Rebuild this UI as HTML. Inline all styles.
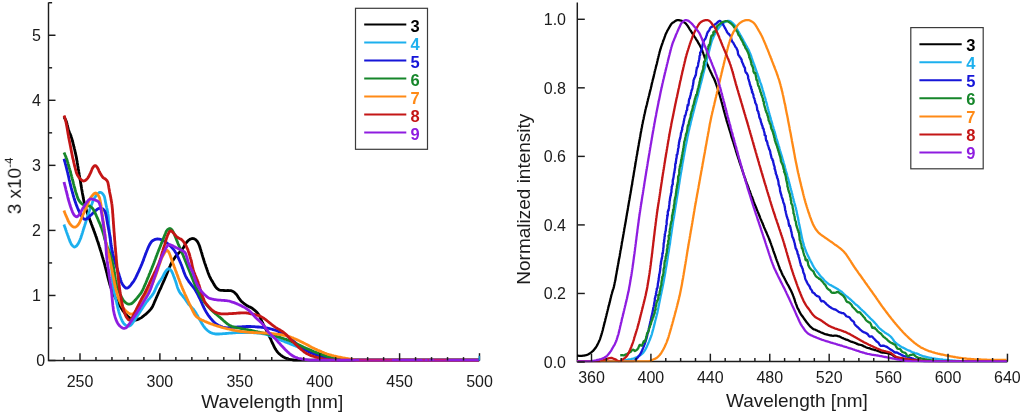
<!DOCTYPE html>
<html><head><meta charset="utf-8"><title>spectra</title>
<style>
html,body{margin:0;padding:0;background:#fff;}
body{width:1024px;height:415px;overflow:hidden;position:relative;font-family:"Liberation Sans",sans-serif;}
svg{position:absolute;left:0;top:0;}
text{font-family:"Liberation Sans",sans-serif;fill:#1a1a1a;}
.tk{font-size:16px;}
.ax{font-size:19px;}
.lg{font-size:16.5px;font-weight:bold;}
</style></head><body>
<svg width="1024" height="415" viewBox="0 0 1024 415">
<rect x="0" y="0" width="1024" height="415" fill="#ffffff"/>
<defs><filter id="soft" x="-2%" y="-2%" width="104%" height="104%"><feGaussianBlur stdDeviation="0.35"/></filter></defs>
<g filter="url(#soft)">

<g stroke="#1c1c1c" stroke-width="1.45" fill="none">
<path d="M48.5,2.5 V360.5 H479.6"/>
<path d="M577.3,2.5 V361.5 H1007.8"/>
</g>
<g>
<polyline points="64.0,117.0 64.5,117.9 65.0,118.7 65.5,119.6 65.9,120.5 66.3,121.5 66.6,122.4 66.9,123.4 67.1,124.3 67.4,125.3 67.6,126.3 67.8,127.3 68.0,128.3 68.3,129.2 68.6,130.2 68.9,131.1 69.3,132.0 69.7,133.0 70.1,133.9 70.5,134.8 70.9,135.7 71.2,136.7 71.5,137.6 71.8,138.6 72.1,139.6 72.3,140.5 72.6,141.5 72.9,142.5 73.1,143.4 73.4,144.4 73.6,145.4 73.8,146.4 74.1,147.3 74.3,148.3 74.6,149.3 74.8,150.3 75.0,151.2 75.2,152.2 75.4,153.2 75.7,154.2 75.9,155.2 76.1,156.1 76.3,157.1 76.5,158.1 76.6,159.1 76.8,160.1 77.0,161.1 77.2,162.0 77.3,163.0 77.5,164.0 77.7,165.0 77.8,166.0 78.0,167.0 78.2,168.0 78.3,169.0 78.5,170.0 78.7,170.9 78.8,171.9 79.0,172.9 79.2,173.9 79.3,174.9 79.5,175.9 79.7,176.9 79.8,177.9 80.0,178.9 80.1,179.8 80.3,180.8 80.5,181.8 80.6,182.8 80.8,183.8 81.0,184.8 81.1,185.8 81.3,186.8 81.5,187.7 81.6,188.7 81.8,189.7 82.0,190.7 82.2,191.7 82.3,192.7 82.5,193.7 82.7,194.7 82.9,195.6 83.1,196.6 83.2,197.6 83.4,198.6 83.6,199.6 83.8,200.6 84.0,201.5 84.2,202.5 84.4,203.5 84.7,204.5 84.9,205.4 85.2,206.4 85.5,207.4 85.8,208.3 86.1,209.3 86.4,210.2 86.7,211.2 87.1,212.1 87.4,213.1 87.7,214.0 88.1,215.0 88.4,215.9 88.8,216.9 89.1,217.8 89.5,218.7 89.8,219.7 90.2,220.6 90.5,221.6 90.9,222.5 91.2,223.4 91.6,224.4 91.9,225.3 92.3,226.3 92.6,227.2 93.0,228.1 93.3,229.1 93.7,230.0 94.0,231.0 94.4,231.9 94.7,232.8 95.0,233.8 95.4,234.7 95.7,235.7 96.0,236.6 96.4,237.6 96.7,238.5 97.0,239.5 97.3,240.4 97.7,241.4 98.0,242.3 98.3,243.3 98.6,244.2 98.9,245.2 99.2,246.1 99.5,247.1 99.8,248.0 100.1,249.0 100.4,250.0 100.7,250.9 101.0,251.9 101.3,252.8 101.6,253.8 101.8,254.8 102.1,255.7 102.4,256.7 102.7,257.6 103.0,258.6 103.3,259.6 103.6,260.5 103.8,261.5 104.1,262.4 104.4,263.4 104.6,264.4 104.9,265.3 105.1,266.3 105.4,267.3 105.6,268.3 105.9,269.2 106.1,270.2 106.4,271.2 106.6,272.1 106.9,273.1 107.1,274.1 107.3,275.1 107.6,276.0 107.8,277.0 108.1,278.0 108.3,279.0 108.6,279.9 108.8,280.9 109.1,281.9 109.4,282.8 109.6,283.8 109.9,284.8 110.2,285.7 110.5,286.7 110.9,287.6 111.2,288.5 111.6,289.5 112.0,290.4 112.4,291.3 112.8,292.3 113.2,293.2 113.6,294.1 114.0,295.0 114.4,295.9 114.9,296.8 115.3,297.7 115.8,298.6 116.3,299.5 116.7,300.3 117.2,301.2 117.7,302.1 118.2,303.0 118.7,303.8 119.2,304.7 119.7,305.6 120.3,306.4 120.8,307.3 121.3,308.1 121.8,308.9 122.3,309.8 122.8,310.6 123.4,311.4 124.0,312.1 124.6,312.9 125.2,313.7 125.9,314.5 126.7,315.2 127.4,316.0 128.3,316.7 129.2,317.5 130.1,318.1 131.0,318.7 131.9,319.2 132.9,319.6 133.8,319.9 134.7,320.0 135.7,320.0 136.5,319.9 137.4,319.7 138.3,319.3 139.2,318.9 140.1,318.4 141.0,317.9 141.9,317.3 142.7,316.6 143.6,315.9 144.4,315.2 145.3,314.6 146.1,313.9 146.9,313.2 147.6,312.5 148.4,311.8 149.1,311.1 149.7,310.4 150.4,309.6 151.0,308.9 151.6,308.1 152.1,307.2 152.6,306.4 153.0,305.5 153.4,304.6 153.8,303.7 154.2,302.7 154.6,301.8 155.0,300.9 155.4,300.0 155.8,299.1 156.2,298.1 156.6,297.2 157.0,296.3 157.4,295.4 157.8,294.5 158.2,293.5 158.6,292.6 159.0,291.7 159.4,290.8 159.8,289.9 160.3,289.0 160.7,288.1 161.1,287.2 161.5,286.2 161.9,285.3 162.3,284.4 162.7,283.5 163.1,282.6 163.5,281.7 164.0,280.7 164.4,279.8 164.7,278.9 165.1,278.0 165.5,277.1 165.9,276.1 166.3,275.2 166.7,274.3 167.0,273.4 167.4,272.4 167.8,271.5 168.2,270.6 168.6,269.6 169.0,268.7 169.3,267.8 169.7,266.9 170.1,266.0 170.5,265.0 170.9,264.1 171.4,263.2 171.9,262.3 172.4,261.5 172.9,260.6 173.4,259.7 173.9,258.9 174.5,258.1 175.1,257.2 175.7,256.4 176.3,255.6 176.9,254.9 177.6,254.1 178.3,253.4 179.0,252.7 179.8,252.0 180.5,251.3 181.2,250.6 181.9,249.9 182.5,249.1 183.0,248.3 183.5,247.5 184.0,246.6 184.5,245.8 184.9,244.9 185.4,244.0 186.0,243.2 186.6,242.3 187.3,241.5 188.1,240.7 189.0,240.0 189.8,239.4 190.7,239.0 191.7,238.7 192.6,238.5 193.5,238.6 194.4,238.9 195.3,239.4 196.2,240.2 197.0,241.0 197.6,241.9 198.1,242.7 198.5,243.6 198.9,244.4 199.3,245.4 199.6,246.3 199.9,247.3 200.2,248.2 200.5,249.2 200.8,250.1 201.1,251.1 201.4,252.1 201.7,253.0 202.0,254.0 202.2,254.9 202.5,255.9 202.8,256.9 203.1,257.8 203.4,258.8 203.7,259.7 204.0,260.7 204.3,261.6 204.6,262.6 204.9,263.5 205.3,264.5 205.6,265.4 205.9,266.4 206.2,267.3 206.6,268.3 206.9,269.2 207.2,270.2 207.6,271.1 207.9,272.1 208.2,273.0 208.6,273.9 209.0,274.9 209.3,275.8 209.7,276.7 210.2,277.6 210.6,278.5 211.1,279.4 211.6,280.2 212.1,281.1 212.7,282.0 213.2,282.9 213.7,283.7 214.1,284.6 214.7,285.5 215.2,286.4 215.8,287.2 216.4,287.9 217.2,288.6 218.0,289.3 218.9,289.8 219.9,290.1 220.9,290.3 221.9,290.4 222.9,290.4 223.9,290.5 224.9,290.6 225.9,290.6 226.9,290.6 227.9,290.5 228.9,290.6 229.9,290.6 230.9,290.7 231.9,291.0 232.8,291.4 233.7,291.9 234.5,292.5 235.2,293.2 236.0,294.0 236.6,294.7 237.2,295.5 237.8,296.4 238.3,297.2 238.8,298.1 239.4,298.9 240.0,299.7 240.6,300.5 241.3,301.2 242.1,301.9 242.8,302.5 243.6,303.2 244.4,303.8 245.2,304.4 246.0,305.0 246.8,305.5 247.7,306.0 248.6,306.5 249.5,306.9 250.4,307.3 251.3,307.8 252.2,308.3 253.0,308.9 253.8,309.6 254.6,310.2 255.4,310.9 256.1,311.6 256.8,312.3 257.5,313.0 258.1,313.8 258.7,314.6 259.2,315.5 259.7,316.4 260.1,317.3 260.5,318.2 260.9,319.1 261.2,320.1 261.6,321.0 262.1,321.9 262.5,322.8 263.0,323.7 263.4,324.6 263.9,325.5 264.3,326.4 264.8,327.3 265.3,328.1 265.7,329.0 266.2,329.9 266.6,330.8 267.1,331.7 267.5,332.6 268.0,333.5 268.4,334.4 268.9,335.3 269.3,336.2 269.7,337.1 270.2,338.0 270.6,338.9 271.0,339.8 271.4,340.8 271.8,341.7 272.2,342.6 272.6,343.5 273.1,344.4 273.5,345.3 273.9,346.2 274.4,347.1 274.8,348.0 275.3,348.9 275.9,349.7 276.4,350.5 277.0,351.3 277.6,352.1 278.3,352.9 279.0,353.6 279.8,354.3 280.6,355.0 281.4,355.6 282.2,356.2 283.1,356.8 284.0,357.3 284.9,357.7 285.8,358.1 286.8,358.5 287.7,358.8 288.7,359.1 289.6,359.3 290.6,359.5 291.6,359.7 292.6,359.9 293.6,360.0 294.6,360.1 295.6,360.2 296.6,360.2 297.6,360.2 298.6,360.2 299.6,360.2 300.6,360.2 301.6,360.2 302.6,360.2 303.6,360.2 304.6,360.2 305.6,360.2 306.6,360.2 307.6,360.2 308.6,360.2 309.6,360.2 310.6,360.2 311.6,360.2 312.6,360.2 313.6,360.2 314.6,360.2 315.6,360.2 316.6,360.2 317.6,360.2 318.6,360.2 319.6,360.2 320.6,360.2 321.6,360.2 322.6,360.2 323.7,360.2 324.7,360.2 325.7,360.2 326.7,360.2 327.7,360.2 328.7,360.2 329.7,360.2 330.7,360.2 331.7,360.2 332.7,360.2 333.7,360.2 334.7,360.2 335.7,360.2 336.7,360.2 337.7,360.2 338.7,360.2 339.7,360.2 340.7,360.2 341.7,360.2 342.7,360.2 343.7,360.2 344.7,360.2 345.7,360.2 346.7,360.2 347.7,360.2 348.7,360.2 349.7,360.2 350.7,360.2 351.7,360.2 352.7,360.2 353.7,360.2 354.7,360.2 355.7,360.2 356.7,360.2 357.7,360.2 358.7,360.2 359.7,360.2 360.7,360.2 361.7,360.2 362.7,360.2 363.7,360.2 364.7,360.2 365.7,360.2 366.7,360.2 367.7,360.2 368.8,360.2 369.8,360.2 370.8,360.2 371.8,360.2 372.8,360.2 373.8,360.2 374.8,360.2 375.8,360.2 376.8,360.2 377.8,360.2 378.8,360.2 379.8,360.2 380.8,360.2 381.8,360.2 382.8,360.2 383.8,360.2 384.8,360.2 385.8,360.2 386.8,360.2 387.8,360.2 388.8,360.2 389.8,360.2 390.8,360.2 391.8,360.2 392.8,360.2 393.8,360.2 394.8,360.2 395.8,360.2 396.8,360.2 397.8,360.2 398.8,360.2 399.8,360.2 400.8,360.2 401.8,360.2 402.8,360.2 403.8,360.2 404.8,360.2 405.8,360.2 406.8,360.2 407.8,360.2 408.8,360.2 409.8,360.2 410.8,360.2 411.8,360.2 412.9,360.2 413.9,360.2 414.9,360.2 415.9,360.2 416.9,360.2 417.9,360.2 418.9,360.2 419.9,360.2 420.9,360.2 421.9,360.2 422.9,360.2 423.9,360.2 424.9,360.2 425.9,360.2 426.9,360.2 427.9,360.2 428.9,360.2 429.9,360.2 430.9,360.2 431.9,360.2 432.9,360.2 433.9,360.2 434.9,360.2 435.9,360.2 436.9,360.2 437.9,360.2 438.9,360.2 439.9,360.2 440.9,360.2 441.9,360.2 442.9,360.2 443.9,360.2 444.9,360.2 445.9,360.2 446.9,360.2 447.9,360.2 448.9,360.2 449.9,360.2 450.9,360.2 451.9,360.2 452.9,360.2 453.9,360.2 454.9,360.2 455.9,360.2 457.0,360.2 458.0,360.2 459.0,360.2 460.0,360.2 461.0,360.2 462.0,360.2 463.0,360.2 464.0,360.2 465.0,360.2 466.0,360.2 467.0,360.2 468.0,360.2 469.0,360.2 470.0,360.2 471.0,360.2 472.0,360.2 473.0,360.2 474.0,360.2 475.0,360.2 476.0,360.2 477.0,360.2 478.0,360.2 479.0,360.2" fill="none" stroke="#000000" stroke-width="2.8" stroke-linejoin="round" stroke-linecap="butt"/>
<polyline points="64.0,224.5 64.3,225.5 64.6,226.4 64.9,227.4 65.3,228.3 65.6,229.3 65.9,230.2 66.3,231.1 66.6,232.1 66.9,233.0 67.3,234.0 67.6,234.9 68.0,235.9 68.3,236.8 68.6,237.7 69.0,238.7 69.3,239.6 69.7,240.5 70.0,241.5 70.5,242.4 70.9,243.3 71.4,244.3 72.1,245.2 72.8,246.0 73.6,246.6 74.3,247.0 75.1,246.9 75.9,246.4 76.8,245.6 77.5,244.7 78.1,243.8 78.6,242.8 79.1,241.9 79.5,241.0 79.9,240.1 80.3,239.1 80.7,238.2 81.0,237.3 81.3,236.3 81.6,235.4 81.9,234.5 82.2,233.5 82.5,232.6 82.8,231.6 83.1,230.7 83.4,229.7 83.7,228.7 84.0,227.8 84.3,226.8 84.6,225.9 84.9,224.9 85.2,224.0 85.5,223.0 85.8,222.0 86.1,221.1 86.4,220.1 86.7,219.2 87.0,218.2 87.3,217.3 87.6,216.3 87.9,215.3 88.2,214.4 88.5,213.4 88.8,212.5 89.2,211.5 89.5,210.6 89.8,209.6 90.1,208.7 90.5,207.8 90.8,206.8 91.2,205.9 91.5,204.9 91.9,204.0 92.2,203.1 92.6,202.1 92.9,201.2 93.3,200.2 93.7,199.4 94.2,198.5 94.7,197.6 95.3,196.8 95.8,196.0 96.5,195.2 97.1,194.3 98.0,193.5 98.9,192.8 99.8,192.3 100.7,192.4 101.5,192.8 102.2,193.4 102.9,194.2 103.6,195.1 104.1,196.0 104.5,197.0 104.7,198.0 104.9,199.0 105.1,200.0 105.3,200.9 105.5,201.9 105.7,202.9 105.9,203.9 106.1,204.9 106.3,205.9 106.5,206.8 106.7,207.8 107.0,208.8 107.2,209.8 107.4,210.8 107.6,211.7 107.8,212.7 107.9,213.7 108.1,214.7 108.2,215.7 108.3,216.7 108.4,217.7 108.5,218.7 108.5,219.7 108.5,220.7 108.6,221.7 108.6,222.7 108.6,223.7 108.7,224.7 108.8,225.7 108.9,226.7 109.0,227.7 109.1,228.7 109.2,229.7 109.3,230.7 109.4,231.7 109.5,232.7 109.6,233.7 109.7,234.7 109.8,235.7 109.9,236.7 110.0,237.7 110.1,238.7 110.2,239.7 110.3,240.7 110.4,241.7 110.4,242.7 110.5,243.7 110.6,244.7 110.6,245.7 110.7,246.7 110.7,247.7 110.8,248.7 110.8,249.7 110.8,250.7 110.9,251.7 110.9,252.7 110.9,253.7 111.0,254.7 111.0,255.7 111.0,256.7 111.1,257.7 111.1,258.7 111.2,259.7 111.2,260.7 111.3,261.7 111.3,262.7 111.4,263.7 111.5,264.7 111.5,265.7 111.6,266.7 111.6,267.7 111.7,268.7 111.8,269.7 111.8,270.7 111.9,271.7 111.9,272.7 112.0,273.7 112.1,274.7 112.1,275.7 112.2,276.7 112.3,277.7 112.4,278.7 112.4,279.7 112.5,280.7 112.6,281.7 112.7,282.7 112.8,283.7 112.9,284.7 113.0,285.7 113.1,286.7 113.3,287.7 113.5,288.7 113.7,289.7 113.9,290.6 114.1,291.6 114.3,292.6 114.5,293.6 114.7,294.6 114.9,295.5 115.2,296.5 115.4,297.5 115.6,298.5 115.9,299.4 116.1,300.4 116.3,301.4 116.6,302.4 116.8,303.4 117.0,304.3 117.3,305.3 117.5,306.3 117.7,307.3 117.9,308.2 118.2,309.2 118.4,310.2 118.7,311.1 118.9,312.1 119.2,313.0 119.5,314.0 119.8,314.9 120.1,315.9 120.4,316.8 120.8,317.7 121.2,318.7 121.6,319.6 122.0,320.6 122.5,321.5 123.0,322.4 123.6,323.3 124.3,324.1 125.1,324.8 126.0,325.4 126.9,325.9 127.7,326.2 128.7,326.2 129.7,325.9 130.6,325.4 131.3,324.6 132.0,323.8 132.6,323.0 133.2,322.2 133.7,321.3 134.3,320.5 134.9,319.7 135.4,318.9 136.0,318.1 136.5,317.2 137.1,316.4 137.6,315.5 138.2,314.7 138.7,313.9 139.3,313.0 139.8,312.2 140.3,311.3 140.9,310.5 141.4,309.6 142.0,308.8 142.5,308.0 143.1,307.1 143.6,306.3 144.2,305.4 144.7,304.6 145.3,303.8 145.8,303.0 146.4,302.2 147.1,301.4 147.7,300.6 148.3,299.8 149.0,299.1 149.7,298.3 150.3,297.5 151.0,296.8 151.6,296.0 152.2,295.2 152.8,294.4 153.3,293.5 153.8,292.7 154.3,291.8 154.7,290.9 155.1,289.9 155.5,289.0 155.9,288.1 156.3,287.2 156.8,286.3 157.2,285.4 157.7,284.5 158.2,283.6 158.8,282.8 159.3,282.0 159.9,281.1 160.5,280.3 161.0,279.5 161.6,278.6 162.1,277.8 162.6,276.9 163.1,276.1 163.5,275.2 164.0,274.3 164.4,273.4 164.9,272.5 165.5,271.7 166.1,270.8 166.9,269.9 167.8,269.1 168.6,268.7 169.3,268.8 170.1,269.3 170.8,270.1 171.5,271.0 172.0,272.0 172.4,272.9 172.8,273.8 173.2,274.8 173.5,275.7 173.9,276.6 174.2,277.6 174.6,278.5 174.9,279.4 175.3,280.4 175.6,281.3 175.9,282.3 176.2,283.2 176.5,284.2 176.8,285.2 177.1,286.1 177.4,287.1 177.7,288.0 178.1,289.0 178.5,289.9 178.9,290.8 179.4,291.7 179.9,292.5 180.5,293.4 181.1,294.2 181.7,294.9 182.4,295.7 183.0,296.5 183.7,297.3 184.3,298.0 184.9,298.8 185.5,299.7 186.0,300.5 186.6,301.3 187.2,302.1 187.7,303.0 188.3,303.8 188.9,304.6 189.6,305.3 190.3,306.0 191.0,306.7 191.7,307.4 192.4,308.2 193.1,308.9 193.7,309.7 194.3,310.5 194.9,311.3 195.5,312.2 196.0,313.0 196.5,313.9 197.0,314.7 197.5,315.6 198.0,316.5 198.4,317.4 198.9,318.3 199.4,319.2 199.9,320.0 200.4,320.9 200.9,321.8 201.4,322.6 201.9,323.5 202.4,324.3 202.9,325.1 203.5,326.0 204.0,326.7 204.6,327.5 205.3,328.3 206.0,329.1 206.7,329.8 207.5,330.5 208.4,331.2 209.3,331.8 210.2,332.4 211.1,332.8 212.1,333.2 213.0,333.5 214.0,333.7 215.0,333.9 216.0,334.0 217.0,334.0 218.0,334.0 219.0,334.0 220.0,333.9 221.0,333.9 222.0,333.8 223.0,333.7 224.0,333.7 225.0,333.6 226.0,333.5 227.0,333.4 228.0,333.3 229.0,333.2 230.0,333.1 231.0,333.1 232.0,333.0 233.0,332.9 234.0,332.8 235.0,332.8 236.0,332.7 237.0,332.7 238.0,332.6 239.0,332.6 240.0,332.6 241.0,332.6 242.0,332.5 243.0,332.5 244.0,332.5 245.0,332.5 246.0,332.5 247.0,332.5 248.0,332.5 249.0,332.6 250.0,332.6 251.0,332.6 252.0,332.7 253.0,332.7 254.1,332.8 255.1,332.8 256.1,332.9 257.1,333.0 258.1,333.1 259.1,333.2 260.1,333.3 261.1,333.4 262.1,333.6 263.1,333.8 264.1,334.0 265.0,334.2 266.0,334.4 267.0,334.7 267.9,335.0 268.9,335.3 269.8,335.7 270.8,336.1 271.7,336.4 272.6,336.8 273.6,337.2 274.5,337.6 275.4,337.9 276.4,338.3 277.3,338.7 278.2,339.1 279.2,339.4 280.1,339.8 281.0,340.2 281.9,340.6 282.9,340.9 283.8,341.3 284.7,341.7 285.6,342.1 286.6,342.4 287.5,342.8 288.4,343.2 289.4,343.5 290.3,343.9 291.2,344.3 292.2,344.6 293.1,345.0 294.0,345.4 295.0,345.7 295.9,346.1 296.8,346.5 297.8,346.8 298.7,347.2 299.6,347.6 300.6,348.0 301.5,348.4 302.4,348.7 303.3,349.1 304.2,349.5 305.2,349.9 306.1,350.3 307.0,350.7 307.9,351.1 308.9,351.5 309.8,351.9 310.7,352.3 311.6,352.7 312.5,353.1 313.5,353.4 314.4,353.8 315.3,354.2 316.3,354.6 317.2,354.9 318.1,355.3 319.1,355.6 320.0,356.0 321.0,356.4 321.9,356.7 322.9,357.0 323.8,357.3 324.8,357.6 325.8,357.8 326.7,358.1 327.7,358.3 328.7,358.5 329.7,358.7 330.7,358.9 331.7,359.0 332.7,359.2 333.7,359.3 334.7,359.5 335.6,359.6 336.6,359.7 337.6,359.8 338.6,359.9 339.6,360.0 340.6,360.0 341.6,360.1 342.6,360.2 343.6,360.2 344.7,360.2 345.7,360.2 346.7,360.2 347.7,360.2 348.7,360.2 349.7,360.2 350.7,360.2 351.7,360.2 352.7,360.2 353.7,360.2 354.7,360.2 355.7,360.2 356.7,360.2 357.7,360.2 358.7,360.2 359.7,360.2 360.7,360.2 361.7,360.2 362.7,360.2 363.7,360.2 364.7,360.2 365.7,360.2 366.7,360.2 367.7,360.2 368.7,360.2 369.7,360.2 370.7,360.2 371.7,360.2 372.7,360.2 373.7,360.2 374.7,360.2 375.7,360.2 376.7,360.2 377.7,360.2 378.7,360.2 379.7,360.2 380.7,360.2 381.7,360.2 382.8,360.2 383.8,360.2 384.8,360.2 385.8,360.2 386.8,360.2 387.8,360.2 388.8,360.2 389.8,360.2 390.8,360.2 391.8,360.2 392.8,360.2 393.8,360.2 394.8,360.2 395.8,360.2 396.8,360.2 397.8,360.2 398.8,360.2 399.8,360.2 400.8,360.2 401.8,360.2 402.8,360.2 403.8,360.2 404.8,360.2 405.8,360.2 406.8,360.2 407.8,360.2 408.8,360.2 409.8,360.2 410.8,360.2 411.8,360.2 412.8,360.2 413.8,360.2 414.8,360.2 415.8,360.2 416.8,360.2 417.8,360.2 418.8,360.2 419.8,360.2 420.8,360.2 421.9,360.2 422.9,360.2 423.9,360.2 424.9,360.2 425.9,360.2 426.9,360.2 427.9,360.2 428.9,360.2 429.9,360.2 430.9,360.2 431.9,360.2 432.9,360.2 433.9,360.2 434.9,360.2 435.9,360.2 436.9,360.2 437.9,360.2 438.9,360.2 439.9,360.2 440.9,360.2 441.9,360.2 442.9,360.2 443.9,360.2 444.9,360.2 445.9,360.2 446.9,360.2 447.9,360.2 448.9,360.2 449.9,360.2 450.9,360.2 451.9,360.2 452.9,360.2 453.9,360.2 454.9,360.2 455.9,360.2 456.9,360.2 457.9,360.2 458.9,360.2 460.0,360.2 461.0,360.2 462.0,360.2 463.0,360.2 464.0,360.2 465.0,360.2 466.0,360.2 467.0,360.2 468.0,360.2 469.0,360.2 470.0,360.2 471.0,360.2 472.0,360.2 473.0,360.2 474.0,360.2 475.0,360.2 476.0,360.2 477.0,360.2 478.0,360.2 479.0,360.2" fill="none" stroke="#1fb0ee" stroke-width="2.8" stroke-linejoin="round" stroke-linecap="butt"/>
<polyline points="64.0,158.8 64.3,159.7 64.5,160.7 64.8,161.6 65.1,162.6 65.3,163.6 65.6,164.5 65.9,165.5 66.1,166.5 66.4,167.5 66.6,168.4 66.8,169.4 67.1,170.4 67.3,171.3 67.6,172.3 67.8,173.3 68.0,174.3 68.2,175.2 68.5,176.2 68.7,177.2 68.9,178.2 69.1,179.2 69.3,180.1 69.6,181.1 69.8,182.1 70.0,183.1 70.3,184.0 70.5,185.0 70.7,186.0 71.0,187.0 71.2,187.9 71.5,188.9 71.7,189.9 72.0,190.8 72.3,191.8 72.5,192.8 72.8,193.7 73.1,194.7 73.3,195.7 73.6,196.6 73.9,197.6 74.2,198.5 74.5,199.5 74.8,200.5 75.1,201.4 75.4,202.4 75.8,203.3 76.1,204.2 76.5,205.2 76.8,206.1 77.2,207.0 77.6,208.0 78.0,208.9 78.3,209.8 78.8,210.7 79.2,211.6 79.7,212.5 80.1,213.4 80.6,214.3 81.1,215.2 81.6,216.1 82.2,216.9 82.8,217.7 83.4,218.5 84.2,219.1 85.1,219.3 86.2,219.1 87.2,218.6 88.1,217.9 88.8,217.2 89.5,216.5 90.2,215.8 90.9,215.1 91.6,214.4 92.3,213.7 93.0,213.0 93.8,212.3 94.5,211.7 95.2,211.0 96.0,210.3 96.8,209.7 97.6,209.1 98.6,208.6 99.5,208.3 100.5,208.1 101.4,208.2 102.4,208.5 103.2,209.2 104.0,210.0 104.6,210.9 105.1,211.8 105.4,212.8 105.7,213.7 105.9,214.7 106.1,215.6 106.3,216.6 106.5,217.6 106.7,218.6 106.8,219.6 107.0,220.5 107.2,221.5 107.4,222.5 107.5,223.5 107.7,224.5 107.9,225.5 108.1,226.5 108.3,227.4 108.5,228.4 108.7,229.4 108.9,230.4 109.0,231.4 109.2,232.4 109.4,233.3 109.6,234.3 109.8,235.3 110.0,236.3 110.1,237.3 110.3,238.3 110.4,239.3 110.5,240.3 110.7,241.3 110.8,242.2 111.0,243.2 111.1,244.2 111.3,245.2 111.4,246.2 111.6,247.2 111.8,248.2 111.9,249.2 112.1,250.2 112.3,251.2 112.5,252.1 112.6,253.1 112.8,254.1 113.1,255.1 113.3,256.1 113.5,257.0 113.8,258.0 114.0,259.0 114.3,259.9 114.6,260.9 114.9,261.9 115.2,262.8 115.5,263.8 115.8,264.7 116.1,265.7 116.4,266.6 116.7,267.6 117.1,268.5 117.4,269.5 117.7,270.4 118.0,271.4 118.3,272.3 118.6,273.3 118.9,274.3 119.2,275.2 119.5,276.2 119.8,277.1 120.1,278.1 120.3,279.0 120.6,280.0 121.0,281.0 121.3,281.9 121.7,282.9 122.2,283.8 122.8,284.7 123.4,285.6 124.0,286.4 124.7,287.1 125.4,287.7 126.2,288.2 127.1,288.1 128.1,287.7 129.1,287.0 129.9,286.1 130.6,285.3 131.2,284.5 131.8,283.7 132.4,282.9 133.0,282.1 133.6,281.3 134.1,280.5 134.6,279.6 135.1,278.8 135.6,277.9 136.0,277.0 136.4,276.1 136.9,275.2 137.3,274.2 137.7,273.3 138.2,272.4 138.6,271.5 139.0,270.6 139.4,269.7 139.8,268.8 140.2,267.9 140.6,267.0 141.0,266.0 141.4,265.1 141.8,264.2 142.2,263.3 142.5,262.3 142.9,261.4 143.3,260.5 143.6,259.5 143.9,258.6 144.3,257.6 144.6,256.7 145.0,255.8 145.3,254.8 145.7,253.9 146.0,252.9 146.4,252.0 146.7,251.1 147.1,250.2 147.5,249.2 147.9,248.3 148.3,247.4 148.7,246.5 149.1,245.6 149.6,244.7 150.1,243.8 150.6,243.0 151.2,242.1 151.8,241.3 152.6,240.7 153.4,240.2 154.4,239.7 155.4,239.4 156.4,239.1 157.4,239.0 158.3,239.0 159.3,239.2 160.3,239.4 161.3,239.7 162.2,240.1 163.1,240.6 164.0,241.0 164.9,241.5 165.7,242.1 166.5,242.7 167.3,243.3 168.1,243.9 168.8,244.6 169.6,245.3 170.3,246.0 171.1,246.7 171.8,247.5 172.4,248.2 173.1,249.0 173.7,249.7 174.3,250.5 174.9,251.3 175.4,252.2 175.9,253.0 176.4,253.9 176.9,254.8 177.3,255.7 177.8,256.6 178.2,257.5 178.6,258.4 179.0,259.4 179.4,260.3 179.8,261.2 180.2,262.1 180.6,263.0 181.0,264.0 181.4,264.9 181.7,265.8 182.1,266.8 182.4,267.7 182.7,268.6 183.1,269.6 183.4,270.5 183.7,271.5 184.1,272.4 184.4,273.4 184.8,274.3 185.2,275.2 185.6,276.1 186.1,277.0 186.5,277.9 187.1,278.8 187.6,279.6 188.2,280.4 188.7,281.3 189.3,282.1 189.9,282.9 190.5,283.7 191.1,284.5 191.8,285.3 192.4,286.0 193.0,286.8 193.6,287.6 194.2,288.4 194.8,289.3 195.3,290.1 195.8,291.0 196.3,291.9 196.8,292.7 197.3,293.6 197.7,294.5 198.2,295.4 198.6,296.3 199.1,297.2 199.5,298.1 200.0,299.0 200.4,299.9 200.8,300.8 201.2,301.7 201.6,302.6 202.0,303.5 202.4,304.5 202.8,305.4 203.2,306.3 203.7,307.2 204.1,308.1 204.6,309.0 205.0,309.9 205.5,310.8 206.0,311.6 206.5,312.5 207.0,313.3 207.6,314.2 208.1,315.0 208.7,315.8 209.3,316.6 209.9,317.4 210.5,318.2 211.2,319.0 211.8,319.7 212.5,320.5 213.2,321.3 213.9,322.0 214.7,322.7 215.4,323.4 216.2,324.0 217.1,324.5 217.9,325.0 218.8,325.5 219.8,325.9 220.7,326.3 221.7,326.7 222.6,327.0 223.6,327.3 224.6,327.6 225.6,327.7 226.6,327.8 227.5,327.8 228.5,327.7 229.5,327.7 230.5,327.6 231.5,327.5 232.5,327.4 233.5,327.3 234.5,327.2 235.5,327.2 236.5,327.1 237.5,327.0 238.5,327.0 239.5,326.9 240.5,326.9 241.5,326.8 242.5,326.7 243.5,326.7 244.5,326.6 245.5,326.6 246.5,326.5 247.5,326.5 248.5,326.5 249.5,326.5 250.5,326.5 251.5,326.6 252.5,326.6 253.6,326.7 254.6,326.7 255.6,326.8 256.6,326.9 257.6,327.0 258.6,327.0 259.6,327.1 260.5,327.2 261.5,327.3 262.5,327.4 263.5,327.6 264.5,327.7 265.5,327.8 266.5,328.0 267.5,328.1 268.5,328.3 269.5,328.5 270.4,328.8 271.4,329.0 272.4,329.3 273.3,329.6 274.3,329.9 275.2,330.2 276.2,330.5 277.1,330.9 278.1,331.3 279.0,331.6 280.0,332.1 280.9,332.5 281.8,332.9 282.7,333.4 283.5,333.8 284.4,334.3 285.3,334.9 286.1,335.4 287.0,335.9 287.8,336.5 288.6,337.0 289.5,337.6 290.3,338.2 291.1,338.8 291.8,339.5 292.6,340.1 293.3,340.8 294.0,341.5 294.8,342.2 295.5,342.9 296.2,343.5 297.0,344.2 297.8,344.8 298.6,345.4 299.4,346.0 300.3,346.6 301.1,347.1 301.9,347.7 302.8,348.2 303.6,348.8 304.5,349.3 305.3,349.8 306.2,350.3 307.1,350.8 308.0,351.3 308.9,351.7 309.8,352.2 310.7,352.6 311.6,353.0 312.5,353.4 313.5,353.8 314.4,354.1 315.4,354.4 316.3,354.7 317.3,355.0 318.2,355.3 319.2,355.6 320.2,355.9 321.1,356.1 322.1,356.4 323.1,356.7 324.0,356.9 325.0,357.1 326.0,357.4 327.0,357.6 327.9,357.8 328.9,358.1 329.9,358.3 330.9,358.6 331.8,358.8 332.8,359.1 333.8,359.3 334.8,359.5 335.8,359.7 336.8,359.9 337.7,360.0 338.7,360.1 339.7,360.2 340.7,360.2 341.7,360.2 342.7,360.2 343.7,360.2 344.7,360.2 345.7,360.2 346.7,360.2 347.7,360.2 348.8,360.2 349.8,360.2 350.8,360.2 351.8,360.2 352.8,360.2 353.8,360.2 354.8,360.2 355.8,360.2 356.8,360.2 357.8,360.2 358.8,360.2 359.8,360.2 360.8,360.2 361.8,360.2 362.8,360.2 363.8,360.2 364.8,360.2 365.8,360.2 366.8,360.2 367.8,360.2 368.8,360.2 369.8,360.2 370.8,360.2 371.8,360.2 372.8,360.2 373.8,360.2 374.8,360.2 375.8,360.2 376.8,360.2 377.8,360.2 378.8,360.2 379.8,360.2 380.8,360.2 381.8,360.2 382.8,360.2 383.8,360.2 384.8,360.2 385.8,360.2 386.8,360.2 387.8,360.2 388.8,360.2 389.8,360.2 390.8,360.2 391.8,360.2 392.8,360.2 393.8,360.2 394.8,360.2 395.8,360.2 396.8,360.2 397.8,360.2 398.8,360.2 399.8,360.2 400.9,360.2 401.9,360.2 402.9,360.2 403.9,360.2 404.9,360.2 405.9,360.2 406.9,360.2 407.9,360.2 408.9,360.2 409.9,360.2 410.9,360.2 411.9,360.2 412.9,360.2 413.9,360.2 414.9,360.2 415.9,360.2 416.9,360.2 417.9,360.2 418.9,360.2 419.9,360.2 420.9,360.2 421.9,360.2 422.9,360.2 423.9,360.2 424.9,360.2 425.9,360.2 426.9,360.2 427.9,360.2 428.9,360.2 429.9,360.2 430.9,360.2 431.9,360.2 432.9,360.2 433.9,360.2 434.9,360.2 435.9,360.2 436.9,360.2 437.9,360.2 438.9,360.2 439.9,360.2 440.9,360.2 441.9,360.2 442.9,360.2 443.9,360.2 444.9,360.2 445.9,360.2 446.9,360.2 447.9,360.2 448.9,360.2 449.9,360.2 450.9,360.2 451.9,360.2 453.0,360.2 454.0,360.2 455.0,360.2 456.0,360.2 457.0,360.2 458.0,360.2 459.0,360.2 460.0,360.2 461.0,360.2 462.0,360.2 463.0,360.2 464.0,360.2 465.0,360.2 466.0,360.2 467.0,360.2 468.0,360.2 469.0,360.2 470.0,360.2 471.0,360.2 472.0,360.2 473.0,360.2 474.0,360.2 475.0,360.2 476.0,360.2 477.0,360.2 478.0,360.2 479.0,360.2" fill="none" stroke="#1212d8" stroke-width="2.8" stroke-linejoin="round" stroke-linecap="butt"/>
<polyline points="64.0,152.5 64.4,153.4 64.8,154.3 65.2,155.3 65.6,156.2 66.0,157.1 66.3,158.0 66.7,159.0 67.0,159.9 67.3,160.9 67.6,161.9 67.9,162.8 68.1,163.8 68.4,164.8 68.7,165.7 69.0,166.7 69.2,167.6 69.5,168.6 69.8,169.6 70.1,170.5 70.3,171.5 70.6,172.5 70.8,173.4 71.1,174.4 71.4,175.4 71.6,176.3 71.9,177.3 72.1,178.3 72.4,179.3 72.6,180.2 72.9,181.2 73.1,182.2 73.4,183.1 73.6,184.1 73.9,185.1 74.1,186.1 74.4,187.0 74.7,188.0 74.9,189.0 75.2,189.9 75.4,190.9 75.7,191.9 76.0,192.8 76.3,193.8 76.7,194.7 77.0,195.7 77.3,196.6 77.6,197.6 78.0,198.5 78.4,199.4 78.9,200.2 79.4,201.1 80.0,201.9 80.7,202.8 81.4,203.5 82.2,204.1 83.1,204.6 84.0,205.1 84.9,205.5 85.9,205.7 86.9,205.8 87.9,205.8 88.9,205.9 89.9,206.2 90.8,206.8 91.6,207.4 92.3,208.1 93.0,208.9 93.5,209.7 93.9,210.6 94.4,211.5 94.8,212.4 95.2,213.3 95.7,214.2 96.1,215.1 96.5,216.1 96.9,217.0 97.3,217.9 97.7,218.8 98.1,219.7 98.5,220.7 98.9,221.6 99.3,222.5 99.7,223.4 100.1,224.3 100.5,225.3 100.8,226.2 101.2,227.1 101.6,228.1 101.9,229.0 102.2,230.0 102.5,230.9 102.8,231.9 103.1,232.8 103.4,233.8 103.7,234.8 103.9,235.7 104.2,236.7 104.4,237.7 104.6,238.7 104.9,239.6 105.2,240.6 105.5,241.5 105.8,242.5 106.1,243.5 106.4,244.4 106.7,245.3 107.1,246.3 107.4,247.2 107.8,248.2 108.1,249.1 108.5,250.1 108.8,251.0 109.2,251.9 109.5,252.9 109.9,253.8 110.2,254.8 110.5,255.7 110.8,256.7 111.2,257.6 111.5,258.6 111.8,259.5 112.0,260.5 112.3,261.5 112.5,262.4 112.8,263.4 113.0,264.4 113.2,265.4 113.4,266.3 113.5,267.3 113.7,268.3 113.9,269.3 114.0,270.3 114.2,271.3 114.3,272.3 114.5,273.3 114.6,274.3 114.8,275.3 114.9,276.3 115.1,277.3 115.3,278.3 115.4,279.2 115.6,280.2 115.8,281.2 116.0,282.2 116.2,283.2 116.5,284.1 116.7,285.1 117.0,286.1 117.3,287.0 117.6,288.0 118.0,288.9 118.3,289.9 118.7,290.8 119.1,291.7 119.4,292.7 119.8,293.6 120.2,294.5 120.6,295.4 121.0,296.3 121.5,297.2 122.0,298.1 122.5,298.9 123.0,299.8 123.7,300.6 124.4,301.4 125.2,302.2 126.0,302.9 126.8,303.5 127.7,303.9 128.6,304.2 129.5,304.2 130.5,304.0 131.5,303.6 132.4,303.0 133.2,302.3 133.9,301.6 134.6,300.8 135.3,300.1 135.9,299.3 136.5,298.6 137.2,297.8 137.8,297.0 138.5,296.3 139.1,295.5 139.7,294.7 140.4,293.9 140.9,293.1 141.5,292.3 141.9,291.4 142.4,290.5 142.9,289.6 143.3,288.7 143.7,287.8 144.1,286.8 144.5,285.9 144.9,285.0 145.3,284.1 145.7,283.2 146.1,282.2 146.5,281.3 146.8,280.4 147.2,279.5 147.6,278.5 148.0,277.6 148.4,276.7 148.8,275.7 149.1,274.8 149.5,273.9 149.9,273.0 150.3,272.0 150.7,271.1 151.0,270.2 151.4,269.3 151.8,268.3 152.2,267.4 152.5,266.5 152.9,265.5 153.3,264.6 153.6,263.7 154.0,262.7 154.3,261.8 154.7,260.8 155.0,259.9 155.4,259.0 155.7,258.0 156.1,257.1 156.4,256.1 156.8,255.2 157.1,254.3 157.5,253.3 157.8,252.4 158.2,251.5 158.6,250.5 159.0,249.6 159.3,248.7 159.7,247.7 160.1,246.8 160.5,245.9 160.8,244.9 161.2,244.0 161.6,243.1 161.9,242.1 162.3,241.2 162.7,240.3 163.1,239.4 163.4,238.4 163.8,237.5 164.2,236.6 164.5,235.6 164.9,234.7 165.3,233.8 165.7,232.8 166.0,231.9 166.5,231.0 167.2,230.1 168.0,229.4 168.8,228.8 169.6,228.5 170.5,228.7 171.5,229.4 172.2,230.2 172.7,231.1 173.2,232.0 173.6,232.9 174.1,233.8 174.5,234.7 174.8,235.6 175.2,236.5 175.6,237.5 176.0,238.4 176.3,239.3 176.7,240.3 177.1,241.2 177.5,242.1 177.8,243.0 178.2,244.0 178.6,244.9 179.0,245.8 179.4,246.7 179.8,247.6 180.2,248.6 180.6,249.5 181.1,250.4 181.5,251.3 181.9,252.2 182.2,253.2 182.6,254.1 183.0,255.0 183.4,255.9 183.7,256.9 184.1,257.8 184.5,258.7 184.9,259.7 185.2,260.6 185.6,261.5 186.0,262.5 186.4,263.4 186.7,264.3 187.1,265.3 187.5,266.2 187.8,267.1 188.2,268.0 188.6,269.0 189.0,269.9 189.3,270.8 189.7,271.8 190.1,272.7 190.5,273.6 190.8,274.6 191.2,275.5 191.6,276.4 191.9,277.4 192.3,278.3 192.7,279.2 193.1,280.2 193.4,281.1 193.8,282.0 194.2,282.9 194.6,283.9 194.9,284.8 195.3,285.7 195.7,286.7 196.1,287.6 196.5,288.5 197.0,289.4 197.4,290.3 197.9,291.2 198.4,292.0 198.9,292.9 199.3,293.8 199.8,294.7 200.3,295.6 200.8,296.4 201.3,297.3 201.8,298.2 202.4,299.0 202.9,299.8 203.5,300.7 204.1,301.5 204.6,302.3 205.2,303.1 205.9,303.9 206.5,304.7 207.1,305.5 207.8,306.2 208.5,307.0 209.2,307.7 209.9,308.5 210.6,309.2 211.3,309.9 212.0,310.6 212.7,311.2 213.5,311.9 214.2,312.6 215.0,313.2 215.7,313.9 216.5,314.5 217.3,315.2 218.0,315.8 218.8,316.5 219.6,317.1 220.4,317.8 221.1,318.4 221.9,319.1 222.7,319.8 223.4,320.5 224.2,321.2 225.0,321.9 225.7,322.5 226.5,323.2 227.3,323.8 228.1,324.4 229.0,324.9 229.8,325.4 230.7,325.9 231.6,326.3 232.6,326.6 233.5,326.9 234.5,327.1 235.5,327.4 236.5,327.6 237.4,327.8 238.4,328.0 239.4,328.2 240.4,328.4 241.4,328.6 242.4,328.8 243.4,329.0 244.3,329.2 245.3,329.3 246.3,329.5 247.3,329.7 248.3,329.9 249.3,330.1 250.2,330.2 251.2,330.4 252.2,330.7 253.2,330.9 254.2,331.1 255.1,331.3 256.1,331.5 257.1,331.7 258.1,332.0 259.1,332.2 260.0,332.4 261.0,332.6 262.0,332.8 263.0,333.0 264.0,333.3 264.9,333.5 265.9,333.7 266.9,333.9 267.9,334.2 268.8,334.4 269.8,334.6 270.8,334.9 271.8,335.1 272.7,335.3 273.7,335.6 274.7,335.9 275.7,336.1 276.6,336.4 277.6,336.7 278.5,336.9 279.5,337.2 280.5,337.5 281.4,337.8 282.4,338.1 283.3,338.5 284.3,338.8 285.2,339.1 286.2,339.4 287.1,339.8 288.1,340.1 289.0,340.5 289.9,340.9 290.9,341.2 291.8,341.6 292.7,342.0 293.6,342.4 294.5,342.9 295.4,343.3 296.4,343.7 297.3,344.1 298.2,344.6 299.1,345.0 300.0,345.4 300.9,345.9 301.8,346.3 302.7,346.7 303.6,347.1 304.5,347.6 305.4,348.0 306.3,348.4 307.3,348.8 308.2,349.2 309.1,349.5 310.0,349.9 311.0,350.3 311.9,350.7 312.8,351.1 313.7,351.5 314.7,351.8 315.6,352.2 316.5,352.6 317.5,352.9 318.4,353.3 319.3,353.6 320.3,354.0 321.2,354.3 322.2,354.7 323.1,355.0 324.1,355.3 325.0,355.7 326.0,356.0 326.9,356.3 327.9,356.6 328.9,356.9 329.8,357.1 330.8,357.4 331.8,357.6 332.8,357.8 333.7,358.0 334.7,358.2 335.7,358.4 336.7,358.6 337.7,358.8 338.7,358.9 339.7,359.1 340.7,359.2 341.7,359.4 342.7,359.5 343.6,359.7 344.6,359.8 345.6,359.9 346.6,360.0 347.6,360.1 348.6,360.2 349.6,360.2 350.6,360.2 351.6,360.2 352.6,360.2 353.7,360.2 354.7,360.2 355.7,360.2 356.7,360.2 357.7,360.2 358.7,360.2 359.7,360.2 360.7,360.2 361.7,360.2 362.7,360.2 363.7,360.2 364.7,360.2 365.7,360.2 366.7,360.2 367.7,360.2 368.7,360.2 369.7,360.2 370.7,360.2 371.7,360.2 372.7,360.2 373.7,360.2 374.7,360.2 375.7,360.2 376.7,360.2 377.7,360.2 378.7,360.2 379.7,360.2 380.7,360.2 381.7,360.2 382.7,360.2 383.7,360.2 384.7,360.2 385.7,360.2 386.7,360.2 387.7,360.2 388.7,360.2 389.8,360.2 390.8,360.2 391.8,360.2 392.8,360.2 393.8,360.2 394.8,360.2 395.8,360.2 396.8,360.2 397.8,360.2 398.8,360.2 399.8,360.2 400.8,360.2 401.8,360.2 402.8,360.2 403.8,360.2 404.8,360.2 405.8,360.2 406.8,360.2 407.8,360.2 408.8,360.2 409.8,360.2 410.8,360.2 411.8,360.2 412.8,360.2 413.8,360.2 414.8,360.2 415.8,360.2 416.8,360.2 417.8,360.2 418.8,360.2 419.8,360.2 420.8,360.2 421.8,360.2 422.8,360.2 423.8,360.2 424.8,360.2 425.9,360.2 426.9,360.2 427.9,360.2 428.9,360.2 429.9,360.2 430.9,360.2 431.9,360.2 432.9,360.2 433.9,360.2 434.9,360.2 435.9,360.2 436.9,360.2 437.9,360.2 438.9,360.2 439.9,360.2 440.9,360.2 441.9,360.2 442.9,360.2 443.9,360.2 444.9,360.2 445.9,360.2 446.9,360.2 447.9,360.2 448.9,360.2 449.9,360.2 450.9,360.2 451.9,360.2 452.9,360.2 453.9,360.2 454.9,360.2 455.9,360.2 456.9,360.2 457.9,360.2 458.9,360.2 459.9,360.2 460.9,360.2 462.0,360.2 463.0,360.2 464.0,360.2 465.0,360.2 466.0,360.2 467.0,360.2 468.0,360.2 469.0,360.2 470.0,360.2 471.0,360.2 472.0,360.2 473.0,360.2 474.0,360.2 475.0,360.2 476.0,360.2 477.0,360.2 478.0,360.2 479.0,360.2" fill="none" stroke="#15862a" stroke-width="2.8" stroke-linejoin="round" stroke-linecap="butt"/>
<polyline points="64.0,210.5 64.3,211.5 64.7,212.4 65.0,213.3 65.4,214.3 65.8,215.2 66.2,216.1 66.6,217.0 67.0,217.9 67.4,218.9 67.8,219.8 68.1,220.7 68.6,221.5 69.0,222.4 69.6,223.3 70.2,224.1 70.9,225.0 71.7,225.8 72.5,226.5 73.4,226.9 74.2,227.2 75.1,227.1 76.1,226.7 77.0,226.1 77.8,225.3 78.4,224.4 79.0,223.5 79.5,222.7 79.9,221.8 80.3,220.9 80.7,220.0 81.1,219.1 81.5,218.2 81.9,217.3 82.3,216.3 82.7,215.4 83.1,214.5 83.5,213.6 83.9,212.7 84.3,211.8 84.7,210.8 85.1,209.9 85.6,209.0 86.0,208.1 86.4,207.2 86.8,206.3 87.1,205.3 87.5,204.4 87.9,203.5 88.3,202.6 88.7,201.6 89.1,200.7 89.5,199.8 90.0,199.0 90.5,198.1 91.0,197.3 91.7,196.4 92.3,195.6 93.1,194.7 93.8,193.9 94.6,193.3 95.4,193.0 96.1,193.2 96.9,193.7 97.6,194.5 98.3,195.5 98.9,196.5 99.4,197.4 99.7,198.4 99.9,199.4 100.1,200.3 100.3,201.3 100.5,202.3 100.7,203.3 100.9,204.3 101.1,205.3 101.2,206.2 101.4,207.2 101.5,208.2 101.7,209.2 101.8,210.2 101.9,211.2 102.0,212.2 102.1,213.2 102.3,214.2 102.4,215.2 102.5,216.2 102.6,217.2 102.8,218.2 102.9,219.2 103.0,220.2 103.2,221.2 103.3,222.2 103.4,223.1 103.6,224.1 103.7,225.1 103.8,226.1 103.9,227.1 104.1,228.1 104.2,229.1 104.3,230.1 104.5,231.1 104.6,232.1 104.7,233.1 104.9,234.1 105.0,235.1 105.1,236.1 105.2,237.1 105.3,238.1 105.5,239.1 105.6,240.0 105.8,241.0 105.9,242.0 106.1,243.0 106.3,244.0 106.5,245.0 106.7,246.0 106.9,246.9 107.2,247.9 107.4,248.9 107.6,249.9 107.9,250.8 108.1,251.8 108.3,252.8 108.6,253.8 108.8,254.7 109.0,255.7 109.3,256.7 109.5,257.7 109.7,258.7 109.9,259.6 110.1,260.6 110.3,261.6 110.5,262.6 110.7,263.6 110.9,264.5 111.1,265.5 111.3,266.5 111.5,267.5 111.7,268.5 111.9,269.5 112.1,270.4 112.2,271.4 112.4,272.4 112.6,273.4 112.8,274.4 113.0,275.4 113.2,276.4 113.4,277.3 113.6,278.3 113.8,279.3 114.0,280.3 114.1,281.3 114.3,282.3 114.5,283.2 114.7,284.2 114.9,285.2 115.2,286.2 115.4,287.2 115.6,288.1 115.9,289.1 116.1,290.1 116.4,291.0 116.7,292.0 117.0,293.0 117.2,293.9 117.5,294.9 117.8,295.9 118.1,296.8 118.4,297.8 118.7,298.7 119.1,299.7 119.4,300.6 119.8,301.5 120.2,302.4 120.6,303.3 121.1,304.3 121.5,305.1 122.0,306.0 122.5,306.9 123.1,307.7 123.7,308.5 124.3,309.3 125.0,310.0 125.7,310.7 126.5,311.5 127.4,312.2 128.2,312.9 129.1,313.4 129.9,313.9 130.8,314.2 131.7,314.2 132.7,313.9 133.6,313.4 134.5,312.7 135.1,311.8 135.6,311.0 136.2,310.1 136.7,309.3 137.2,308.4 137.8,307.6 138.3,306.7 138.8,305.9 139.4,305.0 139.9,304.2 140.4,303.3 140.9,302.5 141.5,301.6 142.0,300.8 142.5,299.9 143.1,299.1 143.6,298.2 144.1,297.4 144.7,296.5 145.2,295.7 145.7,294.8 146.3,294.0 146.8,293.1 147.3,292.3 147.9,291.4 148.4,290.6 148.9,289.7 149.4,288.9 150.0,288.0 150.5,287.2 151.0,286.3 151.5,285.4 151.9,284.5 152.3,283.6 152.8,282.7 153.2,281.8 153.5,280.9 153.9,279.9 154.3,279.0 154.7,278.1 155.0,277.1 155.4,276.2 155.8,275.3 156.1,274.3 156.5,273.4 156.8,272.4 157.1,271.5 157.5,270.5 157.8,269.6 158.1,268.6 158.4,267.7 158.7,266.7 159.0,265.8 159.3,264.8 159.6,263.9 160.0,262.9 160.3,262.0 160.6,261.0 161.0,260.1 161.3,259.1 161.7,258.2 162.1,257.3 162.6,256.4 163.0,255.5 163.5,254.7 164.0,253.8 164.5,252.9 165.2,252.0 166.0,251.0 167.0,250.4 167.7,250.7 168.3,251.4 168.8,252.3 169.3,253.2 169.7,254.2 170.1,255.2 170.4,256.1 170.7,257.0 171.1,258.0 171.4,258.9 171.7,259.9 172.1,260.8 172.4,261.8 172.7,262.7 173.1,263.7 173.4,264.6 173.8,265.5 174.1,266.5 174.5,267.4 174.8,268.4 175.2,269.3 175.5,270.2 175.9,271.2 176.2,272.1 176.6,273.1 176.9,274.0 177.3,274.9 177.6,275.9 178.0,276.8 178.3,277.7 178.7,278.7 179.0,279.6 179.4,280.6 179.8,281.5 180.1,282.4 180.5,283.4 180.8,284.3 181.2,285.2 181.6,286.2 182.0,287.1 182.3,288.0 182.7,288.9 183.1,289.9 183.5,290.8 183.9,291.7 184.3,292.6 184.7,293.6 185.1,294.5 185.5,295.4 185.9,296.3 186.4,297.2 186.8,298.1 187.2,299.0 187.6,299.9 188.0,300.8 188.5,301.8 188.9,302.7 189.3,303.6 189.8,304.5 190.2,305.4 190.6,306.3 191.0,307.2 191.4,308.1 191.9,309.0 192.3,309.9 192.7,310.8 193.2,311.7 193.7,312.6 194.1,313.5 194.6,314.4 195.2,315.2 195.8,316.0 196.5,316.7 197.3,317.3 198.1,317.9 199.0,318.5 199.8,319.0 200.8,319.5 201.7,320.0 202.7,320.4 203.6,320.8 204.5,321.2 205.5,321.6 206.4,322.0 207.3,322.4 208.3,322.8 209.2,323.1 210.1,323.5 211.1,323.9 212.0,324.2 213.0,324.5 213.9,324.9 214.8,325.2 215.8,325.5 216.7,325.8 217.7,326.2 218.6,326.4 219.6,326.7 220.6,327.0 221.5,327.3 222.5,327.5 223.5,327.8 224.5,328.0 225.4,328.3 226.4,328.5 227.4,328.8 228.4,329.0 229.3,329.2 230.3,329.5 231.3,329.7 232.3,329.9 233.3,330.1 234.2,330.3 235.2,330.5 236.2,330.7 237.2,330.9 238.2,331.0 239.2,331.2 240.2,331.4 241.1,331.5 242.1,331.6 243.1,331.7 244.1,331.8 245.1,331.9 246.1,332.0 247.1,332.1 248.1,332.2 249.1,332.3 250.1,332.3 251.1,332.4 252.1,332.5 253.1,332.5 254.1,332.6 255.1,332.6 256.1,332.7 257.1,332.7 258.1,332.8 259.1,332.8 260.1,332.8 261.1,332.9 262.1,332.9 263.1,333.0 264.1,333.0 265.2,333.1 266.2,333.2 267.2,333.2 268.2,333.3 269.2,333.4 270.2,333.5 271.2,333.5 272.1,333.6 273.1,333.7 274.1,333.8 275.1,333.9 276.1,334.1 277.1,334.2 278.1,334.3 279.1,334.4 280.1,334.6 281.1,334.7 282.1,334.9 283.1,335.1 284.1,335.3 285.0,335.5 286.0,335.7 287.0,336.0 288.0,336.3 288.9,336.6 289.9,336.9 290.8,337.2 291.8,337.6 292.7,337.9 293.6,338.3 294.6,338.7 295.5,339.1 296.4,339.5 297.3,339.9 298.2,340.3 299.2,340.7 300.1,341.2 301.0,341.6 301.9,342.1 302.8,342.5 303.6,343.0 304.5,343.4 305.4,343.9 306.3,344.4 307.2,344.8 308.1,345.3 309.0,345.8 309.8,346.3 310.7,346.7 311.6,347.2 312.5,347.6 313.4,348.1 314.3,348.5 315.2,349.0 316.1,349.4 317.0,349.8 317.9,350.2 318.9,350.6 319.8,351.0 320.7,351.4 321.6,351.8 322.6,352.2 323.5,352.6 324.4,353.0 325.4,353.3 326.3,353.7 327.2,354.0 328.2,354.3 329.1,354.6 330.1,354.9 331.1,355.2 332.0,355.5 333.0,355.7 334.0,356.0 335.0,356.2 335.9,356.4 336.9,356.6 337.9,356.8 338.9,357.0 339.9,357.2 340.9,357.4 341.8,357.6 342.8,357.8 343.8,358.0 344.8,358.1 345.8,358.3 346.8,358.5 347.8,358.6 348.8,358.8 349.7,359.0 350.7,359.1 351.7,359.3 352.7,359.5 353.7,359.7 354.7,359.8 355.7,360.0 356.7,360.1 357.7,360.2 358.7,360.2 359.7,360.2 360.7,360.2 361.7,360.2 362.7,360.2 363.7,360.2 364.7,360.2 365.7,360.2 366.7,360.2 367.7,360.2 368.7,360.2 369.7,360.2 370.7,360.2 371.7,360.2 372.7,360.2 373.7,360.2 374.7,360.2 375.7,360.2 376.7,360.2 377.7,360.2 378.7,360.2 379.7,360.2 380.7,360.2 381.7,360.2 382.7,360.2 383.8,360.2 384.8,360.2 385.8,360.2 386.8,360.2 387.8,360.2 388.8,360.2 389.8,360.2 390.8,360.2 391.8,360.2 392.8,360.2 393.8,360.2 394.8,360.2 395.8,360.2 396.8,360.2 397.8,360.2 398.8,360.2 399.8,360.2 400.8,360.2 401.8,360.2 402.8,360.2 403.8,360.2 404.8,360.2 405.8,360.2 406.8,360.2 407.8,360.2 408.8,360.2 409.8,360.2 410.8,360.2 411.8,360.2 412.8,360.2 413.8,360.2 414.8,360.2 415.8,360.2 416.8,360.2 417.8,360.2 418.8,360.2 419.8,360.2 420.8,360.2 421.9,360.2 422.9,360.2 423.9,360.2 424.9,360.2 425.9,360.2 426.9,360.2 427.9,360.2 428.9,360.2 429.9,360.2 430.9,360.2 431.9,360.2 432.9,360.2 433.9,360.2 434.9,360.2 435.9,360.2 436.9,360.2 437.9,360.2 438.9,360.2 439.9,360.2 440.9,360.2 441.9,360.2 442.9,360.2 443.9,360.2 444.9,360.2 445.9,360.2 446.9,360.2 447.9,360.2 448.9,360.2 449.9,360.2 450.9,360.2 451.9,360.2 452.9,360.2 453.9,360.2 454.9,360.2 455.9,360.2 456.9,360.2 457.9,360.2 458.9,360.2 460.0,360.2 461.0,360.2 462.0,360.2 463.0,360.2 464.0,360.2 465.0,360.2 466.0,360.2 467.0,360.2 468.0,360.2 469.0,360.2 470.0,360.2 471.0,360.2 472.0,360.2 473.0,360.2 474.0,360.2 475.0,360.2 476.0,360.2 477.0,360.2 478.0,360.2 479.0,360.2" fill="none" stroke="#ff8a17" stroke-width="2.8" stroke-linejoin="round" stroke-linecap="butt"/>
<polyline points="64.0,115.5 64.4,116.4 64.7,117.4 65.0,118.3 65.3,119.3 65.6,120.3 65.8,121.2 66.0,122.2 66.2,123.2 66.4,124.2 66.6,125.2 66.8,126.2 66.9,127.1 67.1,128.1 67.3,129.1 67.4,130.1 67.6,131.1 67.8,132.1 67.9,133.1 68.1,134.1 68.3,135.1 68.5,136.0 68.6,137.0 68.8,138.0 69.0,139.0 69.2,140.0 69.4,141.0 69.6,142.0 69.8,142.9 70.0,143.9 70.2,144.9 70.4,145.9 70.6,146.9 70.8,147.9 70.9,148.8 71.1,149.8 71.3,150.8 71.5,151.8 71.7,152.8 71.9,153.8 72.1,154.7 72.3,155.7 72.5,156.7 72.7,157.7 72.9,158.7 73.2,159.6 73.4,160.6 73.6,161.6 73.8,162.6 74.1,163.5 74.3,164.5 74.5,165.5 74.8,166.5 75.0,167.4 75.3,168.4 75.5,169.4 75.8,170.4 76.0,171.3 76.3,172.3 76.6,173.2 77.0,174.1 77.4,175.0 77.9,175.9 78.5,176.7 79.1,177.6 79.9,178.4 80.6,179.2 81.4,179.9 82.2,180.5 83.1,180.9 83.9,181.0 84.8,180.7 85.7,180.2 86.6,179.4 87.3,178.6 87.9,177.8 88.5,176.9 89.0,176.1 89.4,175.2 89.8,174.3 90.3,173.4 90.7,172.5 91.1,171.6 91.4,170.7 91.8,169.8 92.2,168.8 92.7,167.9 93.3,167.0 94.0,166.2 94.8,165.6 95.6,165.6 96.4,166.3 97.1,167.2 97.7,168.1 98.1,169.0 98.6,169.9 98.9,170.8 99.3,171.7 99.8,172.6 100.3,173.4 100.8,174.3 101.3,175.1 101.9,176.0 102.5,176.8 103.1,177.6 103.9,178.2 104.8,178.6 105.6,179.2 106.3,179.9 107.0,180.7 107.5,181.6 107.9,182.5 108.1,183.5 108.3,184.5 108.5,185.5 108.7,186.4 108.8,187.4 109.0,188.4 109.2,189.4 109.4,190.4 109.5,191.4 109.7,192.4 109.9,193.4 110.1,194.3 110.3,195.3 110.5,196.3 110.7,197.3 110.9,198.3 111.0,199.3 111.2,200.3 111.4,201.2 111.6,202.2 111.7,203.2 111.9,204.2 112.0,205.2 112.1,206.2 112.2,207.2 112.3,208.2 112.4,209.2 112.5,210.2 112.6,211.2 112.6,212.2 112.7,213.2 112.8,214.2 112.9,215.2 112.9,216.2 113.0,217.2 113.1,218.2 113.2,219.2 113.2,220.2 113.3,221.2 113.4,222.2 113.4,223.2 113.5,224.2 113.6,225.2 113.7,226.2 113.7,227.2 113.8,228.2 113.9,229.2 113.9,230.2 114.0,231.2 114.1,232.2 114.2,233.2 114.3,234.2 114.3,235.2 114.4,236.2 114.5,237.2 114.6,238.2 114.6,239.2 114.7,240.2 114.8,241.2 114.9,242.2 115.0,243.2 115.0,244.2 115.1,245.2 115.2,246.2 115.3,247.2 115.4,248.2 115.5,249.2 115.5,250.2 115.6,251.2 115.7,252.2 115.8,253.2 115.9,254.2 116.0,255.2 116.1,256.2 116.2,257.2 116.2,258.2 116.3,259.2 116.4,260.2 116.5,261.2 116.6,262.2 116.7,263.2 116.8,264.2 116.9,265.2 117.0,266.2 117.1,267.2 117.2,268.2 117.3,269.2 117.4,270.2 117.5,271.2 117.6,272.1 117.7,273.1 117.8,274.1 118.0,275.1 118.1,276.1 118.2,277.1 118.3,278.1 118.4,279.1 118.5,280.1 118.6,281.1 118.8,282.1 118.9,283.1 119.0,284.1 119.1,285.1 119.2,286.1 119.4,287.1 119.5,288.1 119.6,289.1 119.8,290.1 119.9,291.1 120.1,292.0 120.3,293.0 120.4,294.0 120.6,295.0 120.8,296.0 120.9,297.0 121.1,298.0 121.3,299.0 121.5,300.0 121.6,300.9 121.8,301.9 122.0,302.9 122.2,303.9 122.4,304.9 122.6,305.9 122.8,306.8 123.1,307.8 123.3,308.8 123.6,309.7 123.9,310.7 124.2,311.6 124.5,312.6 124.9,313.6 125.2,314.5 125.6,315.5 126.1,316.5 126.6,317.4 127.2,318.2 127.8,319.0 128.5,319.7 129.2,320.1 130.2,319.8 131.2,319.1 131.9,318.1 132.4,317.2 132.8,316.4 133.3,315.5 133.7,314.6 134.2,313.7 134.6,312.8 135.1,311.9 135.5,311.0 136.0,310.1 136.4,309.2 136.9,308.3 137.3,307.4 137.8,306.5 138.2,305.6 138.7,304.7 139.1,303.8 139.5,302.9 140.0,302.0 140.4,301.1 140.9,300.2 141.4,299.3 141.8,298.4 142.3,297.6 142.8,296.7 143.3,295.8 143.8,295.0 144.3,294.1 144.8,293.2 145.3,292.3 145.7,291.4 146.1,290.5 146.5,289.6 147.0,288.7 147.4,287.8 147.8,286.9 148.3,286.0 148.7,285.1 149.1,284.2 149.5,283.2 150.0,282.3 150.4,281.4 150.8,280.5 151.2,279.6 151.7,278.7 152.1,277.8 152.5,276.9 153.0,276.0 153.4,275.1 153.8,274.2 154.3,273.3 154.7,272.4 155.1,271.5 155.6,270.6 156.0,269.7 156.4,268.8 156.9,267.9 157.3,266.9 157.7,266.0 158.1,265.1 158.5,264.2 158.9,263.3 159.2,262.3 159.6,261.4 159.9,260.4 160.2,259.5 160.5,258.5 160.8,257.6 161.1,256.6 161.4,255.6 161.7,254.7 161.9,253.7 162.2,252.7 162.5,251.8 162.8,250.8 163.0,249.9 163.3,248.9 163.6,247.9 163.9,247.0 164.2,246.0 164.5,245.1 164.8,244.1 165.1,243.1 165.4,242.2 165.7,241.2 165.9,240.3 166.2,239.3 166.5,238.3 166.8,237.4 167.2,236.4 167.5,235.5 167.9,234.6 168.4,233.7 168.8,232.8 169.4,231.8 170.1,231.0 170.8,230.8 171.7,231.3 172.5,232.0 173.3,232.8 174.0,233.6 174.6,234.3 175.3,235.1 175.9,235.9 176.6,236.6 177.3,237.2 178.1,237.8 179.0,238.2 180.0,238.7 180.9,239.1 181.7,239.7 182.4,240.4 183.1,241.2 183.7,242.0 184.3,242.8 184.8,243.6 185.3,244.5 185.8,245.4 186.3,246.3 186.7,247.2 187.1,248.1 187.5,249.0 187.9,249.9 188.2,250.9 188.5,251.8 188.9,252.8 189.2,253.8 189.5,254.7 189.8,255.7 190.0,256.6 190.3,257.6 190.6,258.6 190.9,259.5 191.1,260.5 191.4,261.5 191.6,262.4 191.8,263.4 192.0,264.4 192.2,265.4 192.4,266.4 192.6,267.4 192.9,268.3 193.1,269.3 193.4,270.3 193.7,271.2 194.0,272.2 194.4,273.1 194.8,274.0 195.1,275.0 195.5,275.9 195.9,276.8 196.3,277.7 196.7,278.7 197.1,279.6 197.4,280.5 197.8,281.5 198.1,282.4 198.4,283.4 198.7,284.3 199.1,285.3 199.4,286.2 199.7,287.2 200.0,288.1 200.3,289.1 200.6,290.0 200.8,291.0 201.1,291.9 201.4,292.9 201.8,293.9 202.1,294.8 202.4,295.8 202.7,296.7 203.1,297.7 203.4,298.6 203.8,299.5 204.2,300.5 204.6,301.4 205.1,302.3 205.6,303.1 206.2,303.9 206.9,304.7 207.5,305.4 208.2,306.2 208.9,306.9 209.6,307.7 210.3,308.4 211.0,309.1 211.7,309.8 212.5,310.4 213.3,311.0 214.2,311.6 215.1,312.1 216.1,312.5 217.0,312.9 218.0,313.2 219.0,313.4 220.0,313.6 220.9,313.8 221.9,313.9 222.9,313.9 223.9,313.9 224.9,313.9 225.9,313.8 226.9,313.8 227.9,313.8 228.9,313.7 229.9,313.7 230.9,313.6 231.9,313.6 232.9,313.5 233.9,313.4 234.9,313.4 235.9,313.3 236.9,313.2 237.9,313.1 238.9,313.0 239.9,313.0 240.9,312.9 241.9,312.8 242.9,312.8 243.9,312.8 244.9,312.8 245.9,312.9 246.9,313.0 247.9,313.2 248.9,313.4 249.9,313.6 250.9,313.8 251.9,314.0 252.9,314.2 253.9,314.4 254.9,314.6 255.9,314.8 256.8,315.1 257.8,315.3 258.8,315.6 259.7,316.0 260.6,316.4 261.5,316.9 262.4,317.4 263.2,317.9 264.1,318.5 264.9,319.1 265.7,319.7 266.5,320.3 267.2,320.9 268.0,321.5 268.8,322.2 269.6,322.8 270.4,323.4 271.1,324.1 271.9,324.7 272.7,325.3 273.5,325.9 274.3,326.5 275.2,327.1 276.0,327.6 276.9,328.1 277.7,328.6 278.6,329.1 279.5,329.6 280.3,330.2 281.1,330.7 282.0,331.3 282.8,331.8 283.6,332.4 284.4,333.0 285.2,333.7 285.9,334.4 286.7,335.1 287.4,335.8 288.1,336.5 288.7,337.2 289.4,338.0 290.1,338.7 290.7,339.5 291.4,340.2 292.1,340.9 292.8,341.6 293.6,342.3 294.3,343.0 295.0,343.7 295.7,344.4 296.4,345.1 297.1,345.8 297.9,346.5 298.6,347.2 299.3,347.9 300.1,348.5 300.8,349.2 301.6,349.8 302.4,350.5 303.2,351.1 304.0,351.8 304.8,352.4 305.6,352.9 306.5,353.5 307.4,353.9 308.3,354.4 309.2,354.8 310.1,355.2 311.0,355.6 312.0,355.9 312.9,356.2 313.9,356.5 314.9,356.8 315.8,357.1 316.8,357.4 317.8,357.6 318.8,357.9 319.7,358.1 320.7,358.4 321.7,358.6 322.7,358.8 323.7,359.0 324.6,359.2 325.6,359.3 326.6,359.5 327.6,359.6 328.6,359.7 329.6,359.8 330.6,359.9 331.6,360.0 332.6,360.1 333.6,360.2 334.6,360.2 335.6,360.2 336.6,360.2 337.6,360.2 338.6,360.2 339.6,360.2 340.6,360.2 341.6,360.2 342.6,360.2 343.6,360.2 344.6,360.2 345.6,360.2 346.6,360.2 347.6,360.2 348.6,360.2 349.7,360.2 350.7,360.2 351.7,360.2 352.7,360.2 353.7,360.2 354.7,360.2 355.7,360.2 356.7,360.2 357.7,360.2 358.7,360.2 359.7,360.2 360.7,360.2 361.7,360.2 362.7,360.2 363.7,360.2 364.7,360.2 365.7,360.2 366.7,360.2 367.7,360.2 368.7,360.2 369.7,360.2 370.7,360.2 371.7,360.2 372.7,360.2 373.7,360.2 374.7,360.2 375.7,360.2 376.7,360.2 377.7,360.2 378.7,360.2 379.7,360.2 380.7,360.2 381.7,360.2 382.7,360.2 383.7,360.2 384.7,360.2 385.7,360.2 386.8,360.2 387.8,360.2 388.8,360.2 389.8,360.2 390.8,360.2 391.8,360.2 392.8,360.2 393.8,360.2 394.8,360.2 395.8,360.2 396.8,360.2 397.8,360.2 398.8,360.2 399.8,360.2 400.8,360.2 401.8,360.2 402.8,360.2 403.8,360.2 404.8,360.2 405.8,360.2 406.8,360.2 407.8,360.2 408.8,360.2 409.8,360.2 410.8,360.2 411.8,360.2 412.8,360.2 413.8,360.2 414.8,360.2 415.8,360.2 416.8,360.2 417.8,360.2 418.8,360.2 419.8,360.2 420.8,360.2 421.8,360.2 422.8,360.2 423.9,360.2 424.9,360.2 425.9,360.2 426.9,360.2 427.9,360.2 428.9,360.2 429.9,360.2 430.9,360.2 431.9,360.2 432.9,360.2 433.9,360.2 434.9,360.2 435.9,360.2 436.9,360.2 437.9,360.2 438.9,360.2 439.9,360.2 440.9,360.2 441.9,360.2 442.9,360.2 443.9,360.2 444.9,360.2 445.9,360.2 446.9,360.2 447.9,360.2 448.9,360.2 449.9,360.2 450.9,360.2 451.9,360.2 452.9,360.2 453.9,360.2 454.9,360.2 455.9,360.2 456.9,360.2 457.9,360.2 458.9,360.2 459.9,360.2 461.0,360.2 462.0,360.2 463.0,360.2 464.0,360.2 465.0,360.2 466.0,360.2 467.0,360.2 468.0,360.2 469.0,360.2 470.0,360.2 471.0,360.2 472.0,360.2 473.0,360.2 474.0,360.2 475.0,360.2 476.0,360.2 477.0,360.2 478.0,360.2 479.0,360.2" fill="none" stroke="#c41414" stroke-width="2.8" stroke-linejoin="round" stroke-linecap="butt"/>
<polyline points="64.0,182.0 64.2,183.0 64.5,183.9 64.7,184.9 65.0,185.9 65.2,186.9 65.5,187.8 65.7,188.8 65.9,189.8 66.2,190.8 66.4,191.7 66.7,192.7 66.9,193.7 67.2,194.6 67.4,195.6 67.6,196.6 67.9,197.6 68.1,198.5 68.4,199.5 68.6,200.5 68.9,201.4 69.2,202.4 69.5,203.4 69.8,204.3 70.1,205.3 70.4,206.2 70.7,207.2 71.0,208.1 71.4,209.1 71.7,210.0 72.1,210.9 72.4,211.8 72.9,212.8 73.3,213.7 73.9,214.6 74.5,215.5 75.3,216.2 76.0,216.7 76.9,216.8 77.8,216.3 78.6,215.5 79.3,214.6 79.8,213.7 80.3,212.9 80.8,212.0 81.3,211.1 81.7,210.2 82.2,209.4 82.7,208.5 83.2,207.7 83.8,206.8 84.3,206.0 84.8,205.1 85.4,204.3 86.0,203.5 86.5,202.6 87.1,201.8 87.8,201.0 88.5,200.1 89.3,199.5 90.2,199.0 91.1,198.9 92.1,199.1 93.0,199.4 94.0,199.7 95.0,200.0 95.9,200.4 96.8,200.7 97.7,201.2 98.5,201.8 99.1,202.7 99.5,203.6 99.8,204.6 100.1,205.5 100.4,206.5 100.7,207.4 100.9,208.4 101.0,209.4 101.2,210.4 101.3,211.4 101.5,212.4 101.7,213.4 101.8,214.4 102.0,215.4 102.1,216.3 102.3,217.3 102.4,218.3 102.6,219.3 102.7,220.3 102.9,221.3 103.0,222.3 103.2,223.3 103.3,224.3 103.5,225.3 103.6,226.3 103.8,227.2 103.9,228.2 104.1,229.2 104.2,230.2 104.4,231.2 104.5,232.2 104.6,233.2 104.8,234.2 104.9,235.2 105.0,236.2 105.1,237.2 105.2,238.2 105.3,239.2 105.4,240.2 105.5,241.2 105.6,242.2 105.7,243.2 105.8,244.2 105.8,245.2 105.9,246.2 106.0,247.2 106.0,248.2 106.1,249.2 106.1,250.2 106.2,251.2 106.3,252.2 106.3,253.2 106.4,254.2 106.5,255.2 106.6,256.2 106.7,257.2 106.8,258.2 106.9,259.2 107.0,260.2 107.2,261.2 107.3,262.2 107.4,263.1 107.6,264.1 107.7,265.1 107.9,266.1 108.0,267.1 108.1,268.1 108.3,269.1 108.4,270.1 108.6,271.1 108.7,272.1 108.9,273.1 109.0,274.1 109.1,275.1 109.3,276.0 109.4,277.0 109.6,278.0 109.7,279.0 109.9,280.0 110.0,281.0 110.2,282.0 110.3,283.0 110.5,284.0 110.6,285.0 110.7,286.0 110.9,287.0 111.0,288.0 111.1,288.9 111.2,289.9 111.4,290.9 111.5,291.9 111.6,292.9 111.7,293.9 111.8,294.9 111.9,295.9 112.0,296.9 112.1,297.9 112.2,298.9 112.3,299.9 112.4,300.9 112.5,301.9 112.6,302.9 112.7,303.9 112.8,304.9 112.9,305.9 113.1,306.9 113.2,307.9 113.3,308.9 113.4,309.9 113.6,310.9 113.8,311.8 114.0,312.8 114.2,313.8 114.4,314.7 114.7,315.7 115.0,316.7 115.3,317.6 115.6,318.6 116.0,319.5 116.3,320.5 116.8,321.4 117.2,322.4 117.7,323.3 118.3,324.2 118.9,325.0 119.6,325.8 120.4,326.5 121.2,327.1 122.0,327.7 122.8,328.1 123.7,328.4 124.8,328.3 125.9,327.9 126.7,327.3 127.4,326.5 128.0,325.7 128.6,324.9 129.2,324.1 129.8,323.3 130.3,322.4 130.9,321.6 131.5,320.8 132.0,320.0 132.6,319.1 133.2,318.3 133.7,317.5 134.3,316.6 134.9,315.8 135.4,315.0 136.0,314.2 136.5,313.3 137.1,312.5 137.6,311.6 138.1,310.8 138.7,309.9 139.2,309.1 139.7,308.2 140.2,307.3 140.7,306.5 141.2,305.6 141.8,304.8 142.3,303.9 142.8,303.0 143.3,302.2 143.8,301.3 144.3,300.5 144.9,299.6 145.4,298.8 145.9,297.9 146.5,297.1 147.0,296.2 147.5,295.4 148.0,294.5 148.5,293.6 149.0,292.7 149.4,291.8 149.8,290.9 150.2,290.0 150.6,289.0 150.9,288.1 151.3,287.2 151.6,286.2 151.9,285.3 152.3,284.3 152.6,283.4 152.9,282.4 153.2,281.5 153.5,280.5 153.8,279.5 154.1,278.6 154.4,277.6 154.8,276.7 155.1,275.7 155.4,274.8 155.7,273.9 156.1,272.9 156.4,272.0 156.7,271.0 157.1,270.1 157.4,269.1 157.7,268.2 158.0,267.2 158.4,266.3 158.7,265.3 159.0,264.4 159.4,263.4 159.7,262.5 160.0,261.5 160.3,260.6 160.7,259.6 161.0,258.7 161.4,257.8 161.8,256.8 162.2,255.9 162.6,255.0 163.0,254.1 163.4,253.2 163.9,252.3 164.3,251.4 164.8,250.5 165.2,249.6 165.6,248.7 166.1,247.8 166.7,246.9 167.2,246.1 167.9,245.3 168.8,244.8 169.7,244.6 170.8,244.9 171.8,245.4 172.7,245.8 173.6,246.3 174.5,246.7 175.4,247.2 176.3,247.6 177.2,248.1 178.1,248.5 178.9,249.0 179.8,249.4 180.7,249.9 181.6,250.3 182.5,250.7 183.4,251.2 184.3,251.8 185.0,252.5 185.5,253.4 185.9,254.3 186.2,255.3 186.5,256.3 186.8,257.3 187.1,258.3 187.4,259.2 187.7,260.2 188.0,261.1 188.3,262.1 188.6,263.0 189.0,264.0 189.3,264.9 189.6,265.9 190.0,266.8 190.4,267.7 190.9,268.6 191.3,269.5 191.8,270.4 192.2,271.3 192.7,272.2 193.1,273.1 193.4,274.1 193.7,275.0 194.0,276.0 194.3,276.9 194.6,277.9 194.9,278.8 195.2,279.8 195.5,280.7 195.9,281.7 196.3,282.6 196.7,283.5 197.1,284.4 197.5,285.3 198.0,286.2 198.5,287.1 199.0,287.9 199.6,288.8 200.1,289.6 200.7,290.5 201.4,291.3 202.0,292.0 202.7,292.7 203.4,293.5 204.1,294.2 204.8,294.9 205.6,295.5 206.4,296.2 207.1,296.9 207.9,297.5 208.8,298.0 209.7,298.4 210.7,298.7 211.7,299.0 212.6,299.2 213.6,299.4 214.6,299.6 215.6,299.7 216.6,299.8 217.6,300.0 218.6,300.1 219.6,300.2 220.6,300.2 221.6,300.3 222.6,300.3 223.6,300.4 224.6,300.5 225.6,300.6 226.6,300.7 227.6,300.8 228.6,301.0 229.5,301.2 230.5,301.5 231.5,301.8 232.4,302.1 233.4,302.4 234.3,302.7 235.3,303.1 236.2,303.5 237.1,303.9 238.0,304.3 239.0,304.7 239.9,305.1 240.8,305.5 241.7,306.0 242.5,306.5 243.4,306.9 244.3,307.4 245.2,307.9 246.0,308.5 246.9,309.0 247.7,309.6 248.5,310.2 249.3,310.8 250.1,311.5 250.8,312.2 251.5,312.9 252.2,313.6 252.8,314.4 253.5,315.1 254.1,315.9 254.8,316.6 255.5,317.4 256.2,318.1 256.9,318.8 257.7,319.4 258.4,320.1 259.2,320.8 259.9,321.4 260.7,322.1 261.4,322.8 262.1,323.5 262.7,324.3 263.4,325.0 264.0,325.8 264.6,326.7 265.2,327.5 265.7,328.3 266.3,329.1 266.9,330.0 267.5,330.8 268.1,331.6 268.7,332.4 269.4,333.1 270.0,333.8 270.8,334.5 271.5,335.2 272.3,335.9 273.0,336.5 273.8,337.2 274.5,337.9 275.2,338.6 275.9,339.4 276.5,340.1 277.2,340.9 277.9,341.6 278.5,342.4 279.2,343.1 279.9,343.8 280.5,344.6 281.2,345.3 281.9,346.1 282.6,346.8 283.3,347.5 284.0,348.2 284.7,349.0 285.4,349.7 286.1,350.4 286.8,351.1 287.5,351.8 288.3,352.4 289.0,353.1 289.8,353.8 290.6,354.4 291.4,355.0 292.2,355.5 293.1,356.1 294.0,356.5 294.9,357.0 295.8,357.4 296.8,357.7 297.7,358.0 298.7,358.3 299.6,358.5 300.6,358.7 301.6,358.9 302.6,359.1 303.6,359.3 304.6,359.4 305.6,359.6 306.6,359.7 307.6,359.8 308.6,360.0 309.6,360.1 310.6,360.1 311.6,360.2 312.6,360.2 313.6,360.2 314.6,360.2 315.6,360.2 316.6,360.2 317.6,360.2 318.6,360.2 319.6,360.2 320.6,360.2 321.6,360.2 322.6,360.2 323.6,360.2 324.6,360.2 325.6,360.2 326.6,360.2 327.6,360.2 328.6,360.2 329.6,360.2 330.6,360.2 331.6,360.2 332.6,360.2 333.6,360.2 334.6,360.2 335.6,360.2 336.6,360.2 337.6,360.2 338.6,360.2 339.6,360.2 340.6,360.2 341.6,360.2 342.6,360.2 343.6,360.2 344.6,360.2 345.6,360.2 346.7,360.2 347.7,360.2 348.7,360.2 349.7,360.2 350.7,360.2 351.7,360.2 352.7,360.2 353.7,360.2 354.7,360.2 355.7,360.2 356.7,360.2 357.7,360.2 358.7,360.2 359.7,360.2 360.7,360.2 361.7,360.2 362.7,360.2 363.7,360.2 364.7,360.2 365.7,360.2 366.7,360.2 367.7,360.2 368.7,360.2 369.7,360.2 370.7,360.2 371.7,360.2 372.7,360.2 373.7,360.2 374.7,360.2 375.7,360.2 376.7,360.2 377.7,360.2 378.7,360.2 379.7,360.2 380.7,360.2 381.7,360.2 382.7,360.2 383.7,360.2 384.8,360.2 385.8,360.2 386.8,360.2 387.8,360.2 388.8,360.2 389.8,360.2 390.8,360.2 391.8,360.2 392.8,360.2 393.8,360.2 394.8,360.2 395.8,360.2 396.8,360.2 397.8,360.2 398.8,360.2 399.8,360.2 400.8,360.2 401.8,360.2 402.8,360.2 403.8,360.2 404.8,360.2 405.8,360.2 406.8,360.2 407.8,360.2 408.8,360.2 409.8,360.2 410.8,360.2 411.8,360.2 412.8,360.2 413.8,360.2 414.8,360.2 415.8,360.2 416.8,360.2 417.8,360.2 418.8,360.2 419.8,360.2 420.8,360.2 421.8,360.2 422.9,360.2 423.9,360.2 424.9,360.2 425.9,360.2 426.9,360.2 427.9,360.2 428.9,360.2 429.9,360.2 430.9,360.2 431.9,360.2 432.9,360.2 433.9,360.2 434.9,360.2 435.9,360.2 436.9,360.2 437.9,360.2 438.9,360.2 439.9,360.2 440.9,360.2 441.9,360.2 442.9,360.2 443.9,360.2 444.9,360.2 445.9,360.2 446.9,360.2 447.9,360.2 448.9,360.2 449.9,360.2 450.9,360.2 451.9,360.2 452.9,360.2 453.9,360.2 454.9,360.2 455.9,360.2 456.9,360.2 457.9,360.2 458.9,360.2 459.9,360.2 461.0,360.2 462.0,360.2 463.0,360.2 464.0,360.2 465.0,360.2 466.0,360.2 467.0,360.2 468.0,360.2 469.0,360.2 470.0,360.2 471.0,360.2 472.0,360.2 473.0,360.2 474.0,360.2 475.0,360.2 476.0,360.2 477.0,360.2 478.0,360.2 479.0,360.2" fill="none" stroke="#8f1fe0" stroke-width="2.8" stroke-linejoin="round" stroke-linecap="butt"/>
<path d="M359,359.7 H392" stroke="#d01060" stroke-width="1.4" opacity="0.8"/>
<path d="M422.5,359.7 H425" stroke="#d01060" stroke-width="1.4" opacity="0.8"/>
<path d="M427.5,359.7 H429" stroke="#d01060" stroke-width="1.4" opacity="0.8"/>
<path d="M434,359.7 H446.5" stroke="#d01060" stroke-width="1.4" opacity="0.8"/>
</g>
<clipPath id="cr"><rect x="570" y="0" width="450" height="362.3"/></clipPath>
<g clip-path="url(#cr)">
<polyline points="577.0,355.6 578.0,355.7 579.0,355.8 580.0,355.8 581.0,355.8 582.0,355.8 583.0,355.7 584.0,355.6 585.0,355.4 586.0,355.2 586.9,354.9 587.9,354.5 588.7,354.1 589.6,353.5 590.4,353.0 591.3,352.4 592.0,351.7 592.8,351.1 593.5,350.4 594.2,349.6 594.8,348.8 595.4,348.0 596.0,347.2 596.5,346.4 597.0,345.5 597.5,344.6 597.9,343.7 598.4,342.8 598.8,341.9 599.2,341.0 599.6,340.1 600.0,339.1 600.3,338.2 600.6,337.2 600.9,336.3 601.2,335.3 601.5,334.4 601.8,333.4 602.1,332.5 602.3,331.5 602.6,330.6 602.9,329.6 603.1,328.6 603.3,327.6 603.6,326.6 603.8,325.7 604.1,324.7 604.3,323.7 604.6,322.7 604.8,321.8 605.1,320.8 605.3,319.8 605.5,318.8 605.8,317.8 606.0,316.9 606.3,316.0 606.5,315.0 606.7,314.0 607.0,313.0 607.2,312.0 607.5,311.0 607.7,310.0 608.0,309.1 608.2,308.1 608.4,307.2 608.7,306.2 608.9,305.3 609.2,304.4 609.4,303.4 609.7,302.4 609.9,301.4 610.2,300.4 610.4,299.3 610.6,298.3 610.9,297.3 611.1,296.4 611.3,295.4 611.6,294.5 611.9,293.6 612.1,292.7 612.4,291.7 612.7,290.7 613.0,289.7 613.3,288.8 613.6,287.8 613.9,286.8 614.1,285.8 614.3,284.9 614.5,283.9 614.6,283.0 614.9,282.1 615.1,281.1 615.3,280.2 615.5,279.3 615.6,278.3 615.8,277.2 616.0,276.0 616.2,274.9 616.4,273.9 616.6,273.0 616.7,272.0 616.9,271.0 617.1,270.0 617.3,269.1 617.5,268.0 617.6,266.9 617.8,265.9 618.0,264.9 618.1,264.1 618.4,263.1 618.5,262.1 618.7,261.1 618.9,260.1 619.0,259.2 619.2,258.4 619.4,257.5 619.6,256.5 619.8,255.4 619.9,254.4 620.1,253.3 620.3,252.2 620.4,251.2 620.6,250.3 620.8,249.5 621.0,248.6 621.2,247.5 621.3,246.5 621.5,245.5 621.7,244.4 621.8,243.3 622.0,242.3 622.2,241.3 622.4,240.4 622.5,239.5 622.7,238.5 622.9,237.5 623.1,236.5 623.2,235.5 623.4,234.5 623.6,233.5 623.7,232.6 623.9,231.7 624.1,230.7 624.2,229.6 624.4,228.5 624.6,227.4 624.8,226.5 624.9,225.7 625.1,224.7 625.3,223.8 625.4,222.9 625.6,222.0 625.8,221.0 625.9,220.0 626.1,219.0 626.3,218.0 626.4,217.0 626.6,216.1 626.8,215.1 626.9,214.1 627.1,213.1 627.3,212.1 627.4,211.2 627.7,210.2 627.8,209.1 628.0,207.9 628.1,206.9 628.3,205.9 628.5,205.1 628.6,204.2 628.8,203.1 629.0,201.9 629.2,200.8 629.4,199.9 629.5,199.0 629.7,198.0 629.9,197.0 630.0,195.9 630.2,194.9 630.4,194.0 630.5,193.2 630.7,192.4 630.8,191.4 631.0,190.4 631.2,189.5 631.3,188.4 631.5,187.3 631.7,186.3 631.8,185.3 632.1,184.5 632.2,183.6 632.3,182.5 632.5,181.3 632.7,180.3 632.8,179.3 633.0,178.4 633.1,177.4 633.4,176.4 633.5,175.4 633.7,174.5 633.8,173.4 634.0,172.3 634.2,171.3 634.3,170.4 634.5,169.5 634.6,168.6 634.8,167.6 635.0,166.8 635.1,165.8 635.3,164.7 635.5,163.5 635.6,162.4 635.8,161.5 636.0,160.7 636.1,159.7 636.3,158.7 636.4,157.7 636.6,156.6 636.8,155.7 636.9,154.9 637.2,154.0 637.3,152.9 637.4,151.8 637.6,150.8 637.9,149.8 638.0,148.8 638.1,147.9 638.3,146.9 638.5,145.9 638.7,144.9 638.8,143.9 639.0,142.9 639.2,141.9 639.4,140.8 639.6,139.7 639.8,138.7 639.9,137.8 640.1,137.0 640.3,136.1 640.4,135.1 640.6,133.9 640.8,132.8 641.0,131.8 641.2,131.0 641.3,130.1 641.5,129.1 641.7,128.1 641.9,127.2 642.1,126.1 642.2,125.0 642.5,124.0 642.7,123.0 642.9,122.1 643.0,121.2 643.2,120.2 643.5,119.3 643.7,118.4 643.8,117.4 644.1,116.3 644.3,115.3 644.5,114.3 644.8,113.2 645.0,112.2 645.2,111.2 645.4,110.1 645.7,109.0 645.9,108.1 646.1,107.3 646.4,106.4 646.6,105.4 646.9,104.5 647.1,103.5 647.3,102.5 647.5,101.6 647.8,100.6 648.0,99.6 648.2,98.6 648.5,97.6 648.7,96.7 649.0,95.8 649.2,94.9 649.5,93.9 649.7,92.8 649.9,91.8 650.2,90.9 650.4,89.9 650.7,89.0 650.9,88.0 651.1,87.1 651.4,86.2 651.5,85.1 651.8,84.1 652.0,83.0 652.3,82.1 652.5,81.1 652.7,80.2 652.9,79.3 653.2,78.5 653.4,77.6 653.7,76.6 653.9,75.5 654.1,74.5 654.4,73.5 654.6,72.3 654.8,71.3 655.1,70.3 655.3,69.5 655.6,68.5 655.8,67.6 656.0,66.7 656.3,65.7 656.5,64.8 656.8,63.8 657.0,62.9 657.2,61.9 657.5,60.8 657.7,59.8 657.9,58.8 658.2,57.8 658.4,56.8 658.7,55.8 658.9,54.8 659.2,53.8 659.4,52.9 659.6,52.1 659.9,51.1 660.2,50.2 660.4,49.2 660.8,48.2 661.0,47.2 661.4,46.2 661.7,45.2 662.1,44.3 662.4,43.4 662.7,42.5 663.0,41.5 663.4,40.5 663.7,39.6 664.1,38.7 664.4,37.8 664.7,36.9 665.1,35.9 665.4,34.9 665.8,33.9 666.2,33.1 666.7,32.2 667.0,31.4 667.5,30.5 668.0,29.7 668.5,28.8 669.0,27.9 669.5,27.0 670.0,26.1 670.5,25.2 671.2,24.3 671.7,23.5 672.5,22.8 673.2,22.4 674.1,21.9 675.0,21.2 676.0,20.6 676.9,20.2 677.9,20.1 678.8,20.1 679.8,20.3 680.7,20.5 681.7,20.9 682.7,21.4 683.6,21.9 684.4,22.5 685.3,23.1 685.9,23.8 686.6,24.6 687.3,25.4 687.9,26.2 688.3,27.1 689.0,27.9 689.4,28.7 689.9,29.6 690.5,30.4 691.0,31.3 691.6,32.1 692.1,33.0 692.7,33.8 693.2,34.6 693.7,35.4 694.2,36.2 694.8,37.1 695.4,37.9 695.9,38.8 696.4,39.6 697.0,40.5 697.6,41.4 698.1,42.4 698.6,43.4 699.1,44.2 699.6,45.0 700.0,45.8 700.5,46.7 700.9,47.5 701.3,48.3 701.7,49.3 702.1,50.3 702.5,51.3 702.8,52.2 703.2,53.0 703.5,54.0 703.8,54.9 704.2,55.9 704.5,56.8 704.8,57.8 705.1,58.9 705.5,59.9 705.8,60.7 706.2,61.6 706.5,62.5 706.9,63.4 707.3,64.2 707.7,65.1 708.0,66.0 708.5,67.0 708.9,67.9 709.3,68.9 709.7,69.8 710.2,70.8 710.6,71.7 711.1,72.6 711.5,73.5 711.9,74.4 712.4,75.4 712.8,76.4 713.2,77.2 713.7,78.0 714.1,78.8 714.5,79.8 714.9,80.8 715.3,81.8 715.6,82.7 716.0,83.6 716.3,84.6 716.6,85.5 716.9,86.4 717.3,87.3 717.6,88.3 717.9,89.3 718.2,90.3 718.5,91.3 718.8,92.2 719.1,93.2 719.4,94.1 719.7,94.9 719.9,95.8 720.2,96.9 720.5,98.0 720.8,99.0 721.0,99.9 721.3,100.7 721.5,101.6 721.8,102.6 722.1,103.6 722.4,104.7 722.6,105.6 722.9,106.6 723.1,107.6 723.4,108.5 723.6,109.5 723.9,110.5 724.1,111.4 724.4,112.3 724.7,113.3 724.9,114.2 725.2,115.3 725.5,116.3 725.7,117.2 726.0,118.2 726.3,119.1 726.5,120.1 726.8,121.2 727.2,122.2 727.4,123.1 727.7,123.9 728.0,124.8 728.3,125.8 728.6,126.8 728.9,127.8 729.1,128.7 729.5,129.7 729.7,130.6 730.0,131.5 730.3,132.4 730.6,133.3 730.9,134.4 731.2,135.7 731.5,136.8 731.8,137.7 732.0,138.4 732.4,139.3 732.6,140.2 732.9,141.0 733.3,141.9 733.5,143.0 733.9,144.2 734.2,145.2 734.5,146.1 734.7,146.9 735.0,147.7 735.3,148.7 735.7,149.8 735.9,150.8 736.2,151.8 736.6,152.8 736.8,153.8 737.1,154.7 737.4,155.5 737.7,156.4 738.0,157.4 738.3,158.3 738.7,159.3 739.0,160.2 739.2,161.2 739.5,162.1 739.9,163.1 740.2,164.1 740.5,165.0 740.9,165.9 741.1,166.8 741.5,167.7 741.8,168.6 742.1,169.6 742.4,170.6 742.8,171.6 743.1,172.6 743.4,173.6 743.8,174.6 744.1,175.6 744.4,176.6 744.8,177.5 745.1,178.4 745.4,179.4 745.7,180.4 746.1,181.4 746.4,182.4 746.7,183.3 747.1,184.1 747.4,185.0 747.8,185.9 748.2,186.8 748.4,187.7 748.8,188.6 749.1,189.6 749.5,190.6 749.9,191.4 750.2,192.2 750.5,193.1 750.9,194.1 751.2,195.1 751.6,196.1 752.0,197.0 752.4,197.9 752.7,198.9 753.1,199.8 753.4,200.9 753.7,201.9 754.1,202.8 754.5,203.8 754.9,204.7 755.2,205.6 755.6,206.4 756.0,207.3 756.3,208.3 756.7,209.2 757.0,210.1 757.5,211.0 757.8,211.9 758.2,212.8 758.6,213.7 759.0,214.8 759.4,215.7 759.8,216.7 760.1,217.6 760.5,218.6 760.9,219.5 761.3,220.4 761.7,221.4 762.1,222.2 762.5,223.1 762.8,224.0 763.2,225.0 763.7,226.1 764.0,227.1 764.4,228.0 764.8,228.9 765.2,229.8 765.6,230.7 766.0,231.5 766.3,232.4 766.8,233.3 767.1,234.2 767.5,235.1 767.9,236.0 768.3,236.9 768.7,237.9 769.1,238.8 769.4,239.8 769.8,240.7 770.2,241.7 770.5,242.6 770.9,243.5 771.2,244.5 771.5,245.4 771.9,246.4 772.2,247.4 772.6,248.3 772.9,249.3 773.2,250.3 773.5,251.2 773.9,252.2 774.2,253.2 774.6,254.1 774.9,255.0 775.2,255.9 775.5,256.8 775.8,257.7 776.1,258.6 776.5,259.6 776.8,260.6 777.2,261.5 777.5,262.4 777.9,263.3 778.2,264.2 778.5,265.2 778.9,266.1 779.3,267.1 779.6,268.2 780.0,269.2 780.4,270.1 780.8,270.8 781.2,271.6 781.6,272.7 782.1,273.7 782.5,274.7 782.9,275.5 783.4,276.3 783.9,277.1 784.3,278.0 784.8,278.9 785.2,279.8 785.7,280.7 786.2,281.7 786.6,282.6 787.1,283.5 787.6,284.3 788.1,285.1 788.6,286.0 789.0,286.9 789.5,287.8 789.9,288.7 790.4,289.5 790.8,290.4 791.3,291.3 791.7,292.2 792.1,293.1 792.5,294.0 792.9,295.0 793.2,295.9 793.6,296.8 793.9,297.7 794.3,298.7 794.6,299.7 794.9,300.8 795.2,301.9 795.6,302.7 795.9,303.6 796.2,304.4 796.6,305.4 797.0,306.5 797.3,307.5 797.7,308.3 798.1,308.9 798.5,309.6 799.0,310.6 799.4,311.7 800.0,312.7 800.5,313.5 801.0,314.4 801.6,315.3 802.2,316.0 802.8,316.8 803.4,317.6 803.9,318.4 804.5,319.3 805.2,320.2 805.7,321.0 806.3,321.8 806.9,322.6 807.5,323.3 808.1,324.1 808.7,324.8 809.4,325.6 810.1,326.4 810.9,327.0 811.6,327.7 812.5,328.5 813.4,329.1 814.3,329.5 815.2,329.7 816.0,330.1 817.0,330.5 817.9,331.0 818.8,331.4 819.7,331.8 820.6,332.2 821.6,332.6 822.5,333.0 823.4,333.4 824.3,333.8 825.3,334.1 826.2,334.3 827.2,334.5 828.1,334.8 829.1,335.2 830.1,335.4 831.1,335.5 832.1,335.7 833.1,335.8 834.2,335.7 835.2,335.6 836.2,335.7 837.2,335.8 838.1,336.1 839.1,336.4 840.0,336.8 840.9,337.2 841.8,337.7 842.8,338.1 843.6,338.5 844.6,338.9 845.4,339.3 846.4,339.6 847.3,339.9 848.3,340.3 849.1,340.8 850.1,341.2 851.1,341.6 852.0,341.9 852.9,342.2 853.9,342.5 854.8,342.8 855.7,343.2 856.6,343.6 857.6,344.1 858.5,344.5 859.5,344.7 860.4,344.8 861.3,345.0 862.2,345.4 863.2,345.9 864.1,346.4 865.1,346.8 865.9,347.2 866.9,347.6 867.8,347.9 868.8,348.1 869.7,348.4 870.7,348.8 871.6,349.1 872.6,349.4 873.6,349.7 874.5,350.0 875.5,350.2 876.4,350.5 877.4,350.8 878.4,351.1 879.3,351.5 880.3,352.0 881.2,352.4 882.3,352.5 883.2,352.5 884.2,352.6 885.2,352.8 886.2,352.9 887.2,353.1 888.2,353.3 889.1,353.6 890.1,353.9 891.0,354.2 891.9,354.6 892.7,355.1 893.5,355.8 894.4,356.5 895.3,357.1 896.1,357.4 897.1,357.7 898.1,357.9 899.0,358.1 900.0,358.3 901.0,358.5 902.0,358.7 903.0,358.9 904.0,359.1 905.0,359.2 905.9,359.4 906.9,359.5 907.9,359.7 908.9,359.8 909.9,359.9 910.9,360.1 911.9,360.2 912.9,360.3 913.9,360.4 914.9,360.5 915.9,360.6 916.9,360.7 917.9,360.8 918.9,360.9 919.9,361.0 920.9,361.1 921.9,361.2 922.9,361.2 923.9,361.3 924.9,361.3 925.9,361.3 926.9,361.3 927.9,361.3 928.9,361.3 929.9,361.3 930.9,361.3 931.9,361.3 932.9,361.3 933.9,361.3 934.9,361.3 935.9,361.3 936.9,361.3 937.9,361.3 938.9,361.3 939.9,361.3 940.9,361.3 941.9,361.3 942.9,361.3 943.9,361.3 944.9,361.3 945.9,361.3 946.9,361.3 947.9,361.3 948.9,361.3 949.9,361.3 950.9,361.3 951.9,361.3 952.9,361.3 953.9,361.3 954.9,361.3 955.9,361.3 956.9,361.3 957.9,361.3 958.9,361.3 959.9,361.3 960.9,361.3 961.9,361.3 962.9,361.3 963.9,361.3 964.9,361.3 965.9,361.3 966.9,361.3 967.9,361.3 968.9,361.3 969.9,361.3 970.9,361.3 971.9,361.3 972.9,361.3 973.9,361.3 974.9,361.3 976.0,361.3 977.0,361.3 978.0,361.3 979.0,361.3 980.0,361.3 981.0,361.3 982.0,361.3 983.0,361.3 984.0,361.3 985.0,361.3 986.0,361.3 987.0,361.3 988.0,361.3 989.0,361.3 990.0,361.3 991.0,361.3 992.0,361.3 993.0,361.3 994.0,361.3 995.0,361.3 996.0,361.3 997.0,361.3 998.0,361.3 999.0,361.3 1000.0,361.3 1001.0,361.3 1002.0,361.3 1003.0,361.3 1004.0,361.3 1005.0,361.3 1006.0,361.3 1007.0,361.3" fill="none" stroke="#000000" stroke-width="2.3" stroke-linejoin="round" stroke-linecap="butt"/>
<polyline points="577.0,361.3 578.0,361.3 579.0,361.3 580.0,361.3 581.0,361.3 582.0,361.3 583.0,361.3 584.0,361.3 585.0,361.3 586.0,361.3 587.0,361.3 588.0,361.3 589.0,361.3 590.0,361.3 591.0,361.3 592.0,361.3 593.0,361.3 594.0,361.3 595.0,361.3 596.0,361.3 597.0,361.3 598.0,361.3 599.0,361.3 600.0,361.3 601.0,361.3 602.0,361.3 603.0,361.3 604.0,361.3 605.0,361.3 606.0,361.3 607.0,361.3 608.0,361.3 609.0,361.3 610.0,361.3 611.0,361.3 612.0,361.3 613.0,361.3 614.0,361.3 615.0,361.3 616.0,361.3 617.0,361.3 618.0,361.3 619.0,361.3 620.0,361.2 621.0,361.1 622.0,360.9 623.0,360.7 624.0,360.5 625.0,360.3 626.0,360.1 627.0,360.0 627.9,359.7 628.9,359.5 629.9,359.3 630.9,359.1 631.8,358.8 632.8,358.6 633.8,358.3 634.7,358.0 635.6,357.6 636.6,357.2 637.5,356.8 638.4,356.3 639.3,355.8 640.1,355.3 641.0,354.7 641.7,354.1 642.5,353.4 643.2,352.7 643.8,351.9 644.4,351.1 644.9,350.2 645.5,349.4 645.9,348.5 646.4,347.6 646.8,346.7 647.2,345.8 647.6,344.9 648.0,344.0 648.4,343.0 648.8,342.1 649.2,341.1 649.6,340.2 650.0,339.3 650.3,338.4 650.7,337.5 651.0,336.5 651.4,335.5 651.7,334.6 652.0,333.6 652.2,332.7 652.5,331.7 652.8,330.7 653.0,329.8 653.3,328.8 653.5,327.9 653.8,326.9 654.0,325.9 654.3,324.9 654.5,323.9 654.8,322.9 655.0,321.9 655.2,321.0 655.5,320.0 655.7,319.1 656.0,318.2 656.2,317.2 656.4,316.3 656.7,315.3 656.9,314.4 657.2,313.4 657.4,312.4 657.6,311.4 657.8,310.4 658.0,309.4 658.2,308.4 658.4,307.4 658.6,306.5 658.8,305.5 659.0,304.5 659.2,303.4 659.4,302.4 659.6,301.5 659.8,300.5 660.0,299.6 660.2,298.6 660.4,297.5 660.6,296.4 660.8,295.5 661.0,294.6 661.2,293.7 661.4,292.7 661.6,291.7 661.8,290.7 662.0,289.8 662.2,288.9 662.4,287.9 662.6,286.9 662.8,285.8 663.0,284.8 663.2,283.9 663.4,283.0 663.6,282.1 663.8,281.0 664.0,280.0 664.1,278.9 664.3,278.0 664.5,277.1 664.7,276.1 664.8,275.1 665.0,274.1 665.2,273.2 665.4,272.1 665.5,270.9 665.7,269.8 665.9,268.9 666.0,268.0 666.2,267.1 666.4,266.1 666.6,265.1 666.7,264.2 666.9,263.1 667.0,262.1 667.2,261.1 667.3,260.1 667.5,259.2 667.6,258.2 667.8,257.2 667.9,256.1 668.1,255.0 668.2,254.1 668.4,253.3 668.5,252.4 668.7,251.4 668.9,250.4 669.0,249.4 669.1,248.4 669.3,247.4 669.4,246.4 669.6,245.5 669.8,244.7 669.9,243.7 670.1,242.7 670.2,241.5 670.3,240.5 670.5,239.5 670.6,238.4 670.8,237.4 670.9,236.4 671.1,235.4 671.2,234.3 671.4,233.4 671.5,232.5 671.7,231.5 671.8,230.5 672.0,229.4 672.1,228.4 672.2,227.5 672.4,226.6 672.6,225.7 672.7,224.7 672.9,223.5 673.0,222.5 673.1,221.5 673.3,220.6 673.4,219.6 673.6,218.7 673.8,217.9 674.0,216.9 674.1,215.9 674.3,214.9 674.4,213.8 674.6,212.8 674.8,211.8 674.9,210.7 675.0,209.8 675.2,208.9 675.3,207.9 675.5,206.9 675.7,205.8 675.8,204.8 676.0,203.8 676.2,202.9 676.3,201.9 676.5,200.9 676.6,199.9 676.8,198.9 677.0,197.8 677.1,196.8 677.3,195.7 677.5,194.8 677.6,193.9 677.8,193.0 678.0,192.0 678.1,191.1 678.2,190.1 678.4,189.1 678.6,188.0 678.7,186.9 678.9,185.9 679.0,184.9 679.2,183.9 679.4,182.9 679.5,181.9 679.7,181.0 679.8,179.9 680.0,178.8 680.2,177.7 680.3,176.8 680.5,176.0 680.6,175.0 680.8,174.0 680.9,173.0 681.2,172.0 681.3,171.1 681.4,170.4 681.7,169.5 681.8,168.4 682.0,167.2 682.1,166.1 682.3,165.1 682.4,164.1 682.6,163.0 682.8,162.1 683.0,161.3 683.1,160.4 683.3,159.4 683.5,158.3 683.6,157.3 683.8,156.3 684.0,155.4 684.2,154.4 684.3,153.4 684.5,152.4 684.7,151.5 684.9,150.5 685.1,149.5 685.2,148.5 685.4,147.5 685.6,146.5 685.8,145.5 686.0,144.5 686.2,143.7 686.4,142.7 686.6,141.7 686.8,140.7 687.0,139.7 687.2,138.7 687.4,137.6 687.6,136.6 687.8,135.7 688.1,134.7 688.2,133.7 688.4,132.7 688.6,131.7 688.8,130.7 689.1,129.8 689.3,128.9 689.5,127.9 689.7,127.0 690.0,126.0 690.2,125.1 690.5,124.1 690.6,123.1 690.9,122.1 691.1,121.2 691.4,120.2 691.7,119.2 691.8,118.2 692.1,117.2 692.4,116.2 692.6,115.3 692.8,114.4 693.1,113.5 693.4,112.5 693.6,111.4 693.9,110.4 694.1,109.4 694.4,108.5 694.6,107.5 694.9,106.5 695.1,105.5 695.4,104.5 695.6,103.6 695.9,102.7 696.2,101.7 696.4,100.7 696.7,99.7 696.9,98.7 697.2,97.9 697.4,97.1 697.7,96.2 697.9,95.2 698.2,94.1 698.4,93.0 698.7,92.0 699.0,90.9 699.2,89.8 699.5,88.9 699.7,88.0 700.0,87.1 700.2,86.1 700.4,85.0 700.7,84.0 700.9,83.2 701.2,82.4 701.4,81.5 701.7,80.5 701.9,79.6 702.1,78.6 702.4,77.6 702.6,76.5 702.9,75.4 703.1,74.5 703.3,73.6 703.6,72.7 703.8,71.7 704.1,70.7 704.3,69.6 704.6,68.7 704.8,67.8 705.1,66.8 705.3,65.9 705.6,65.0 705.8,64.1 706.1,63.1 706.3,61.9 706.5,60.9 706.8,59.9 707.0,58.8 707.3,57.8 707.5,56.9 707.7,56.1 708.0,55.2 708.2,54.2 708.5,53.3 708.8,52.3 709.0,51.3 709.3,50.4 709.5,49.4 709.8,48.5 710.0,47.5 710.3,46.6 710.5,45.5 710.8,44.4 711.1,43.4 711.4,42.4 711.7,41.4 712.1,40.4 712.4,39.5 712.7,38.8 713.1,38.0 713.5,37.0 713.9,36.0 714.4,35.1 714.8,34.1 715.3,33.2 715.8,32.3 716.3,31.5 716.8,30.6 717.3,29.8 717.9,29.0 718.5,28.3 719.1,27.6 719.7,26.7 720.3,25.9 721.0,25.2 721.6,24.5 722.4,23.8 723.2,23.2 724.1,22.6 725.0,22.0 726.0,21.6 726.9,21.2 727.9,20.9 728.9,20.9 729.8,21.1 730.7,21.5 731.5,22.1 732.4,22.8 733.1,23.5 733.8,24.2 734.5,25.0 735.1,25.7 735.6,26.6 736.1,27.5 736.6,28.4 737.1,29.3 737.6,30.1 738.1,31.0 738.6,31.8 739.1,32.7 739.6,33.6 740.1,34.5 740.6,35.4 741.1,36.2 741.6,37.1 742.0,38.0 742.6,38.9 743.1,39.8 743.5,40.7 744.0,41.6 744.5,42.5 745.0,43.4 745.5,44.3 746.0,45.2 746.5,46.1 746.9,47.0 747.5,47.9 747.9,48.7 748.4,49.5 748.8,50.3 749.2,51.2 749.6,52.2 750.0,53.1 750.4,54.0 750.7,54.9 751.0,55.8 751.4,56.8 751.7,57.9 752.1,58.9 752.4,59.8 752.7,60.8 753.0,61.8 753.4,62.6 753.7,63.4 754.1,64.3 754.4,65.3 754.7,66.3 755.0,67.3 755.4,68.2 755.7,69.1 756.0,70.0 756.3,71.0 756.7,71.9 757.0,72.9 757.3,73.8 757.7,74.8 758.0,75.7 758.4,76.7 758.7,77.6 759.0,78.5 759.4,79.5 759.7,80.5 760.0,81.5 760.3,82.4 760.6,83.2 760.9,84.0 761.3,85.0 761.6,86.0 761.9,87.0 762.2,88.0 762.5,89.0 762.7,90.0 763.0,90.9 763.3,91.8 763.6,92.7 763.9,93.7 764.2,94.8 764.4,95.8 764.7,96.7 765.0,97.5 765.3,98.4 765.5,99.4 765.8,100.5 766.1,101.5 766.3,102.4 766.6,103.3 766.9,104.2 767.1,105.2 767.4,106.3 767.7,107.3 767.9,108.3 768.2,109.3 768.4,110.3 768.7,111.3 769.0,112.4 769.2,113.4 769.5,114.4 769.8,115.2 770.0,116.2 770.3,117.1 770.6,118.2 770.9,119.1 771.1,120.0 771.4,120.9 771.7,121.8 772.0,122.8 772.3,124.0 772.5,125.0 772.8,125.9 773.1,126.6 773.4,127.5 773.6,128.5 773.9,129.4 774.2,130.4 774.5,131.3 774.7,132.2 775.0,133.1 775.3,134.1 775.5,135.2 775.9,136.2 776.1,137.2 776.4,138.3 776.7,139.2 777.0,140.1 777.3,141.0 777.5,141.9 777.8,142.8 778.1,143.8 778.4,144.8 778.7,145.8 779.0,146.7 779.3,147.7 779.5,148.6 779.8,149.6 780.1,150.6 780.4,151.5 780.7,152.5 780.9,153.4 781.2,154.3 781.5,155.2 781.8,156.2 782.1,157.2 782.4,158.4 782.7,159.5 782.9,160.3 783.2,161.0 783.5,161.8 783.7,162.8 784.0,163.9 784.3,164.9 784.6,165.9 784.9,167.0 785.1,168.0 785.4,169.0 785.7,170.0 785.9,171.0 786.2,171.9 786.5,172.8 786.8,173.7 787.0,174.6 787.2,175.6 787.5,176.6 787.8,177.5 788.1,178.5 788.4,179.5 788.6,180.5 788.8,181.4 789.1,182.4 789.4,183.4 789.6,184.4 789.9,185.4 790.1,186.4 790.4,187.2 790.6,188.1 790.9,189.1 791.1,190.0 791.4,191.0 791.7,192.0 791.9,193.0 792.2,194.0 792.4,194.9 792.6,196.0 792.9,196.9 793.1,198.0 793.4,199.0 793.7,200.0 793.9,201.0 794.2,202.0 794.4,203.0 794.7,203.9 794.9,204.7 795.2,205.6 795.4,206.5 795.7,207.4 795.9,208.3 796.1,209.3 796.4,210.3 796.6,211.3 796.8,212.4 797.0,213.6 797.2,214.7 797.5,215.6 797.6,216.4 797.9,217.3 798.1,218.3 798.2,219.3 798.5,220.4 798.6,221.4 798.8,222.5 799.0,223.5 799.2,224.4 799.4,225.2 799.6,226.1 799.8,227.1 800.0,228.1 800.2,229.1 800.4,230.1 800.6,231.0 800.8,232.0 801.0,233.0 801.2,233.9 801.4,234.9 801.6,235.9 801.8,237.0 802.0,238.1 802.3,239.1 802.5,240.1 802.7,241.0 802.9,241.9 803.2,242.7 803.5,243.5 803.8,244.6 804.0,245.8 804.3,246.8 804.7,247.7 805.0,248.6 805.3,249.5 805.7,250.4 806.0,251.4 806.4,252.3 806.8,253.2 807.2,254.1 807.6,255.0 808.0,255.9 808.5,256.7 808.9,257.5 809.3,258.5 809.8,259.5 810.3,260.4 810.7,261.3 811.2,262.1 811.7,263.0 812.2,264.0 812.7,265.1 813.3,266.1 813.8,267.0 814.3,267.8 814.8,268.7 815.4,269.5 816.0,270.2 816.5,270.9 817.1,271.7 817.7,272.4 818.3,273.1 818.9,274.0 819.7,275.0 820.2,275.8 820.9,276.5 821.5,277.2 822.2,277.8 822.9,278.6 823.7,279.5 824.3,280.3 825.1,281.0 825.8,281.7 826.6,282.3 827.3,283.0 828.1,283.6 828.9,284.2 829.8,284.7 830.6,285.1 831.4,285.6 832.3,286.1 833.2,286.5 834.0,287.0 834.9,287.5 835.8,288.0 836.7,288.5 837.6,289.1 838.4,289.6 839.2,290.2 840.1,290.7 840.8,291.2 841.7,291.8 842.4,292.5 843.2,293.3 843.9,294.1 844.7,294.7 845.4,295.3 846.2,295.9 847.0,296.6 847.8,297.2 848.5,297.8 849.3,298.4 850.0,299.1 850.7,299.7 851.5,300.4 852.2,301.2 853.1,301.9 853.8,302.6 854.5,303.3 855.2,304.0 855.9,304.6 856.7,305.0 857.4,305.6 858.2,306.3 858.9,307.2 859.7,307.9 860.4,308.6 861.1,309.3 861.8,309.9 862.5,310.6 863.3,311.2 864.0,311.9 864.7,312.6 865.4,313.3 866.1,314.1 866.9,314.8 867.6,315.5 868.3,316.2 869.1,317.0 869.8,317.8 870.5,318.6 871.2,319.2 871.9,319.8 872.6,320.4 873.2,321.1 873.9,321.9 874.6,322.6 875.2,323.3 875.9,324.0 876.5,324.8 877.2,325.6 877.9,326.5 878.5,327.3 879.2,328.0 879.9,328.6 880.6,329.2 881.4,329.9 882.2,330.5 883.0,331.1 883.8,331.7 884.7,332.4 885.5,332.9 886.4,333.5 887.2,334.0 888.1,334.5 888.9,335.1 889.6,335.7 890.4,336.3 891.1,337.0 891.7,337.8 892.4,338.6 893.0,339.4 893.5,340.3 894.2,341.2 894.8,341.9 895.5,342.6 896.2,343.2 897.0,343.9 897.8,344.5 898.6,345.1 899.5,345.6 900.4,346.2 901.2,346.7 902.0,347.2 903.0,347.6 903.8,348.0 904.7,348.5 905.6,349.0 906.5,349.5 907.4,349.9 908.3,350.3 909.3,350.6 910.2,351.1 911.1,351.6 912.0,352.0 913.0,352.4 913.9,352.7 914.8,353.0 915.8,353.3 916.8,353.5 917.7,353.8 918.6,354.2 919.6,354.7 920.5,355.1 921.4,355.5 922.4,355.9 923.3,356.3 924.3,356.5 925.3,356.7 926.2,357.0 927.2,357.2 928.1,357.5 929.1,357.7 930.1,357.9 931.1,358.0 932.1,358.2 933.1,358.3 934.1,358.5 935.1,358.6 936.0,358.8 937.0,358.9 938.0,359.1 939.0,359.2 940.0,359.3 941.0,359.4 942.0,359.5 943.0,359.7 944.0,359.8 945.0,359.9 946.0,360.0 947.0,360.1 948.0,360.2 949.0,360.2 950.0,360.3 951.0,360.4 952.0,360.5 953.0,360.6 954.0,360.7 955.0,360.7 956.0,360.8 957.0,360.9 958.0,360.9 959.0,361.0 960.0,361.1 961.0,361.2 962.0,361.2 963.0,361.3 964.0,361.3 965.0,361.3 966.0,361.3 967.0,361.3 968.0,361.3 969.0,361.3 970.0,361.3 971.0,361.3 972.0,361.3 973.0,361.3 974.0,361.3 975.0,361.3 976.0,361.3 977.0,361.3 978.0,361.3 979.0,361.3 980.0,361.3 981.0,361.3 982.0,361.3 983.0,361.3 984.0,361.3 985.0,361.3 986.0,361.3 987.0,361.3 988.0,361.3 989.0,361.3 990.0,361.3 991.0,361.3 992.0,361.3 993.0,361.3 994.0,361.3 995.0,361.3 996.0,361.3 997.0,361.3 998.0,361.3 999.0,361.3 1000.0,361.3 1001.0,361.3 1002.0,361.3 1003.0,361.3 1004.0,361.3 1005.0,361.3 1006.0,361.3 1007.0,361.3" fill="none" stroke="#1fb0ee" stroke-width="2.3" stroke-linejoin="round" stroke-linecap="butt"/>
<polyline points="577.0,361.3 578.0,361.3 579.0,361.3 580.0,361.3 581.0,361.3 582.0,361.3 583.0,361.3 584.0,361.3 585.0,361.3 586.0,361.3 587.0,361.3 588.0,361.3 589.0,361.3 590.0,361.3 591.0,361.3 592.0,361.3 593.0,361.3 594.0,361.3 595.0,361.3 596.0,361.3 597.0,361.3 598.0,361.3 599.0,361.3 600.0,361.3 601.0,361.3 602.0,361.3 603.1,361.3 604.1,361.3 605.1,361.3 606.1,361.3 607.1,361.3 608.1,361.3 609.1,361.3 610.1,361.3 611.1,361.3 612.1,361.3 613.1,361.3 614.1,361.3 615.1,361.3 616.1,361.3 617.1,361.3 618.1,361.3 619.1,361.3 620.1,361.3 621.1,361.3 622.1,361.3 623.1,361.3 624.1,361.3 625.1,361.3 626.1,361.3 627.1,361.3 628.1,361.3 629.1,361.3 630.1,361.3 631.1,361.3 632.1,361.3 633.1,361.3 634.0,361.0 634.9,360.4 635.6,359.7 636.3,358.9 637.1,358.1 637.8,357.4 638.4,356.6 639.1,355.8 639.7,355.0 640.2,354.2 640.7,353.3 641.2,352.4 641.6,351.5 642.0,350.6 642.4,349.7 642.8,348.8 643.2,347.9 643.5,347.0 643.9,346.0 644.3,345.1 644.6,344.2 645.0,343.2 645.3,342.2 645.6,341.3 645.9,340.3 646.2,339.3 646.5,338.4 646.7,337.4 647.0,336.5 647.2,335.5 647.4,334.5 647.7,333.5 648.0,332.6 648.2,331.7 648.4,330.8 648.7,329.7 648.8,328.6 649.1,327.5 649.3,326.6 649.5,325.7 649.8,324.7 649.9,323.8 650.2,322.8 650.3,321.8 650.6,320.8 650.8,319.8 651.0,318.9 651.2,317.9 651.4,317.0 651.6,316.0 651.9,315.0 652.0,314.1 652.4,313.1 652.5,312.2 652.7,311.4 652.8,310.5 653.2,309.4 653.2,308.2 653.5,307.1 653.7,306.2 653.8,305.6 654.0,304.8 654.2,303.6 654.4,302.2 654.7,301.1 654.8,300.1 654.8,298.9 655.1,297.8 655.4,297.0 655.4,296.2 655.7,295.4 656.2,294.4 655.9,293.6 656.4,292.6 656.3,291.6 656.6,290.6 656.8,289.6 656.8,288.8 657.2,288.3 657.5,287.5 657.6,286.5 657.8,285.5 657.8,284.4 658.0,283.3 658.2,282.0 658.5,280.9 658.7,279.8 658.6,278.4 659.1,277.3 659.0,276.3 659.2,275.4 659.2,274.5 659.5,273.8 659.6,273.5 659.7,272.8 659.9,271.6 660.1,270.1 660.2,268.8 660.5,267.5 660.4,265.9 660.8,264.5 660.8,263.7 661.1,263.0 660.9,262.1 661.3,261.1 661.4,260.2 661.7,259.2 661.6,258.6 662.0,258.3 661.9,257.7 662.3,256.5 662.4,254.9 662.3,253.7 662.8,253.2 662.5,253.2 662.8,252.7 663.0,251.4 663.2,249.7 663.3,248.4 663.5,247.3 663.6,246.0 663.6,244.9 663.6,243.8 663.9,242.6 664.2,241.5 664.0,240.8 664.3,240.4 664.2,239.7 664.5,238.4 664.5,236.9 665.0,235.7 664.7,234.6 665.1,233.3 665.3,232.2 665.4,231.5 665.6,231.1 665.8,230.4 665.8,229.3 666.0,228.1 666.0,227.0 666.2,226.2 666.1,225.7 666.5,225.0 666.7,223.7 666.6,222.2 666.7,220.9 667.0,219.3 667.3,217.2 667.4,215.6 667.2,215.4 667.6,215.9 667.6,215.7 667.9,214.1 667.7,212.0 668.3,210.5 668.2,210.2 668.5,210.7 668.6,210.4 668.6,209.5 668.9,208.6 669.0,207.7 669.1,206.2 669.4,204.2 669.5,202.8 669.5,201.6 669.9,200.3 669.9,199.2 670.1,198.1 670.3,197.1 670.5,196.0 670.7,195.5 670.9,195.5 670.8,195.0 670.9,193.7 671.4,192.3 671.5,191.1 671.4,190.0 671.7,188.8 671.7,187.8 671.7,186.9 672.2,186.0 672.2,185.1 672.4,184.6 672.7,184.6 672.8,184.1 672.7,182.7 672.8,181.0 672.9,179.7 673.3,178.7 673.4,177.9 673.6,177.0 673.7,176.0 673.8,175.1 674.0,174.1 674.0,173.1 674.5,172.3 674.4,171.3 674.7,170.3 674.7,169.4 675.0,168.4 675.2,167.0 675.2,165.3 675.3,163.9 675.9,163.0 675.7,162.2 676.0,161.4 676.1,160.3 676.2,159.0 676.6,157.9 676.6,157.0 676.8,156.0 676.6,155.0 677.1,154.4 677.4,154.2 677.5,153.6 677.6,152.3 678.0,150.6 678.0,149.3 678.2,148.4 678.5,147.6 678.7,146.7 678.5,145.6 678.9,144.3 679.0,143.2 679.0,142.2 679.5,141.3 679.4,140.3 679.8,139.6 679.7,139.2 680.1,138.6 680.4,137.3 680.6,135.8 680.8,134.6 680.9,133.6 681.1,132.6 681.7,131.6 681.6,130.8 681.9,130.2 682.3,129.5 682.1,128.5 682.3,127.5 682.6,126.5 682.9,125.6 683.0,124.8 683.4,123.9 683.6,122.8 683.7,121.5 684.1,120.4 684.2,119.0 684.7,117.2 684.8,115.8 685.3,115.4 685.4,115.4 685.5,115.0 685.8,114.0 686.0,112.9 686.2,111.9 686.3,111.1 686.9,110.3 687.2,109.5 687.2,108.1 687.5,106.3 687.7,105.0 688.1,104.7 688.4,105.2 688.4,104.9 688.7,103.1 688.9,100.6 689.3,98.8 689.6,98.3 689.9,98.1 690.0,97.6 690.1,96.5 690.6,95.2 690.8,94.1 690.9,93.0 691.3,91.8 691.5,90.7 691.8,90.0 692.0,89.6 692.3,88.9 692.5,87.7 692.6,86.3 693.0,85.0 693.2,83.6 693.5,81.8 693.5,80.4 693.8,79.7 694.1,79.2 694.1,78.5 694.6,77.8 694.7,77.5 695.0,76.9 695.2,76.3 695.2,76.1 695.7,75.5 696.0,73.7 696.3,71.2 696.6,69.4 696.7,68.8 697.0,68.4 696.8,67.7 697.4,67.1 697.7,66.7 697.9,66.1 698.1,64.9 698.2,63.6 698.5,62.4 698.8,61.2 699.1,59.8 699.3,58.7 699.5,57.5 699.5,56.0 700.2,54.9 700.1,53.8 700.1,52.7 700.9,51.6 701.1,50.9 701.2,50.4 701.6,49.6 701.8,48.7 701.9,47.9 702.3,47.0 702.4,45.7 702.8,43.9 703.0,42.6 703.5,41.7 703.9,41.0 704.0,40.2 704.5,39.7 704.6,39.6 705.1,39.1 705.7,38.0 706.1,36.8 706.5,35.7 706.9,34.7 707.0,33.7 707.6,32.7 707.8,31.9 708.6,31.2 709.1,30.4 709.6,29.4 710.0,28.4 710.7,27.4 711.3,27.0 711.8,26.9 712.3,26.4 713.1,25.8 713.8,25.4 714.5,24.9 715.3,24.2 715.9,23.8 716.5,23.3 717.5,22.4 718.6,21.4 719.4,20.9 720.4,21.2 721.2,21.9 722.1,22.6 722.5,23.6 723.1,24.7 723.7,25.7 724.3,26.6 724.7,27.6 725.3,28.5 725.7,29.3 726.1,30.1 726.6,30.9 726.9,31.8 727.5,32.6 727.9,33.4 728.3,33.9 729.0,34.0 729.3,34.5 729.6,35.2 730.2,35.7 730.7,36.4 731.1,37.8 731.5,39.7 732.1,41.1 732.3,41.8 732.9,42.3 733.5,43.0 733.8,43.9 734.4,44.8 734.9,45.7 735.2,46.4 735.4,47.0 736.2,47.7 736.7,48.5 736.8,49.2 737.4,50.1 737.8,51.6 738.0,53.6 738.5,55.1 739.2,55.8 739.5,56.3 739.8,57.1 740.4,57.6 740.6,57.9 740.8,58.5 741.6,59.7 741.8,61.3 742.3,62.5 742.8,63.4 743.1,64.3 743.5,65.2 743.8,66.1 744.4,67.1 745.0,68.1 745.0,69.4 745.3,71.1 745.8,72.4 746.0,72.8 746.5,72.8 746.8,73.3 747.1,74.0 747.4,74.4 747.7,75.1 748.1,76.3 748.1,77.8 748.5,79.1 748.8,79.9 748.9,80.6 749.2,81.4 749.6,82.6 749.8,84.1 750.3,85.3 750.5,86.2 751.1,87.0 751.0,87.9 751.3,88.9 751.9,89.9 751.8,90.9 752.4,91.7 752.0,92.2 752.6,93.0 753.2,94.2 753.5,95.6 753.6,96.7 753.8,97.5 754.1,98.1 754.5,98.8 754.7,100.0 755.1,101.4 755.2,102.6 755.7,103.4 756.0,104.0 756.5,104.8 756.5,105.6 756.8,106.2 756.9,107.0 757.1,108.3 757.2,109.9 757.9,111.2 758.4,111.9 758.4,112.4 758.4,113.1 759.0,114.5 759.2,116.4 759.5,117.8 760.0,118.5 760.2,119.1 760.6,119.8 760.6,120.8 761.0,121.8 761.1,122.7 761.7,123.6 761.6,124.4 762.2,125.3 762.4,126.2 762.7,127.1 762.7,128.0 763.3,128.5 763.3,128.5 763.6,128.9 763.9,130.7 764.6,133.2 764.6,134.9 764.8,135.4 765.3,135.5 765.8,136.1 765.7,137.4 765.9,139.1 766.2,140.4 766.6,141.1 767.1,141.3 767.2,142.0 767.4,143.0 767.6,144.2 767.9,145.3 768.4,146.2 768.6,147.1 768.9,148.1 769.0,148.9 769.5,149.5 769.8,150.3 770.2,151.4 770.4,152.8 770.5,153.9 770.9,155.0 771.2,156.2 771.4,157.3 771.6,158.1 772.1,158.7 772.6,159.5 772.5,160.2 773.1,160.8 773.1,161.6 773.4,162.7 773.7,164.0 773.9,165.1 774.4,166.2 774.7,167.5 774.5,168.7 775.2,169.8 775.4,171.2 775.8,172.3 775.7,173.2 776.1,174.1 776.5,175.0 776.7,175.8 777.1,176.6 777.0,177.4 777.3,178.1 777.7,178.5 777.7,179.2 778.2,180.6 778.5,182.4 778.6,183.8 778.6,184.6 779.0,185.2 779.2,186.0 779.6,186.9 779.8,187.7 779.9,188.7 780.0,189.9 780.2,191.3 780.6,192.6 780.8,193.5 781.1,194.3 781.3,195.2 781.6,196.2 781.8,197.1 782.1,198.0 782.4,198.7 782.7,198.9 782.7,199.6 783.0,200.6 783.2,201.8 783.6,202.9 783.9,203.7 784.2,204.2 784.4,204.9 784.6,206.3 785.0,208.1 785.1,209.4 785.3,210.4 785.7,211.3 785.8,212.2 786.0,213.3 786.4,214.7 786.6,215.9 786.9,216.7 787.1,217.3 787.4,218.2 787.6,219.0 788.0,219.7 788.3,220.6 788.5,222.1 788.8,224.1 789.2,225.6 789.1,225.9 789.6,225.5 790.0,225.8 790.1,226.7 790.5,227.5 790.5,228.4 791.0,229.6 791.0,230.8 791.5,232.0 791.7,233.2 792.0,234.6 792.1,235.8 792.4,236.6 792.5,237.2 793.1,238.0 793.4,238.9 793.6,239.8 794.0,240.8 794.2,241.6 794.4,242.3 794.7,243.1 794.9,244.6 795.4,246.7 795.6,248.2 795.9,248.7 796.1,248.8 796.3,249.3 796.6,250.1 797.0,250.9 797.4,251.8 797.4,252.9 797.9,254.3 798.6,255.4 798.5,256.3 798.7,256.9 799.1,257.7 799.3,258.8 799.6,260.0 799.9,261.1 800.1,262.4 800.7,264.0 800.8,265.3 801.2,265.9 801.4,266.1 801.8,266.7 802.0,267.7 802.7,268.8 802.8,269.9 803.1,270.7 803.2,271.5 803.4,272.4 803.9,273.4 804.3,274.4 804.6,275.4 804.8,276.6 805.1,278.0 805.4,279.1 805.8,280.0 806.3,280.8 806.7,281.7 807.0,282.5 807.3,283.0 807.7,283.8 808.2,284.5 808.7,285.2 809.2,285.9 809.8,286.9 810.2,288.1 810.8,289.1 811.6,290.1 812.2,291.3 812.4,292.2 813.4,292.8 814.1,293.2 814.8,293.8 815.1,294.5 815.9,295.2 816.8,295.9 817.6,296.3 818.1,296.3 819.1,296.7 819.8,298.0 820.5,299.9 821.3,301.2 821.7,301.4 822.6,301.0 823.1,301.1 824.2,301.8 825.0,302.6 825.7,303.2 826.3,304.0 827.3,304.9 828.3,305.7 828.9,306.3 829.9,306.9 830.8,307.5 831.5,308.0 832.4,308.5 833.5,309.0 834.3,309.4 835.3,309.5 836.0,309.8 836.7,310.4 837.7,311.1 838.5,311.7 839.4,312.1 840.4,312.5 841.4,312.9 842.1,313.2 843.2,313.1 843.7,313.4 844.7,314.2 845.6,315.3 846.2,316.1 847.1,316.5 848.2,316.8 849.1,317.2 850.0,318.0 850.7,319.1 851.4,320.0 852.0,320.6 852.8,321.1 853.7,321.7 854.2,322.8 854.6,324.1 855.4,325.1 856.1,325.8 856.9,326.4 857.4,327.0 858.3,327.7 859.0,328.4 859.7,329.1 860.5,329.8 861.3,330.5 862.1,331.2 863.0,331.7 863.6,332.1 864.6,332.5 865.6,332.9 866.2,333.2 866.8,333.5 868.0,334.5 868.7,335.7 869.5,336.6 870.4,336.7 871.1,336.3 871.8,336.4 872.7,337.2 873.6,338.2 874.4,339.0 875.1,339.8 876.2,340.8 876.7,341.6 877.5,342.1 878.2,342.4 878.6,343.0 879.2,344.0 879.9,345.1 880.8,345.8 882.0,345.9 882.8,345.6 883.6,345.6 884.5,346.0 885.6,346.4 886.7,346.8 887.4,347.3 888.6,348.1 889.4,348.7 890.2,349.2 891.1,349.8 891.9,350.3 892.8,350.9 893.8,351.6 894.4,352.3 895.4,352.5 896.3,352.4 897.1,352.6 898.0,353.1 898.8,353.7 900.0,354.1 900.9,354.6 901.6,355.1 902.9,355.6 903.5,355.9 904.3,356.2 905.3,356.5 906.5,356.5 907.1,356.1 908.3,357.2 909.2,357.5 910.2,357.8 911.2,358.1 912.1,358.4 913.1,358.7 914.0,359.0 915.0,359.3 916.0,359.6 917.0,359.9 917.9,360.2 918.9,360.5 919.9,360.7 920.9,360.9 921.9,361.1 922.8,361.2 923.8,361.3 924.8,361.3 925.8,361.3 926.8,361.3 927.8,361.3 928.8,361.3 929.8,361.3 930.9,361.3 931.9,361.3 932.9,361.3 933.9,361.3 934.9,361.3 935.9,361.3 936.9,361.3 937.9,361.3 938.9,361.3 939.9,361.3 940.9,361.3 941.9,361.3 942.9,361.3 943.9,361.3 944.9,361.3 945.9,361.3 946.9,361.3 947.9,361.3 948.9,361.3 949.9,361.3 950.9,361.3 951.9,361.3 952.9,361.3 953.9,361.3 954.9,361.3 955.9,361.3 956.9,361.3 957.9,361.3 958.9,361.3 959.9,361.3 960.9,361.3 961.9,361.3 962.9,361.3 963.9,361.3 964.9,361.3 965.9,361.3 966.9,361.3 967.9,361.3 968.9,361.3 969.9,361.3 970.9,361.3 971.9,361.3 972.9,361.3 973.9,361.3 974.9,361.3 975.9,361.3 976.9,361.3 977.9,361.3 978.9,361.3 979.9,361.3 980.9,361.3 982.0,361.3 983.0,361.3 984.0,361.3 985.0,361.3 986.0,361.3 987.0,361.3 988.0,361.3 989.0,361.3 990.0,361.3 991.0,361.3 992.0,361.3 993.0,361.3 994.0,361.3 995.0,361.3 996.0,361.3 997.0,361.3 998.0,361.3 999.0,361.3 1000.0,361.3 1001.0,361.3 1002.0,361.3 1003.0,361.3 1004.0,361.3 1005.0,361.3 1006.0,361.3 1007.0,361.3" fill="none" stroke="#1212d8" stroke-width="2.3" stroke-linejoin="round" stroke-linecap="butt"/>
<polyline points="620.3,355.6 621.4,355.2 622.3,355.1 623.1,355.3 624.2,355.3 624.9,354.9 626.1,354.4 627.0,354.1 627.8,353.6 628.9,352.8 629.9,352.3 631.0,351.6 631.8,350.4 632.9,349.6 633.6,349.8 634.4,350.8 634.8,351.0 635.8,350.4 636.7,349.9 637.4,349.3 638.3,348.1 639.0,346.2 639.7,344.9 640.5,345.0 641.3,345.7 641.9,345.7 642.5,344.4 643.2,342.6 643.7,341.3 644.2,341.1 644.6,341.7 645.0,341.5 645.3,340.1 646.1,338.2 646.2,336.8 646.7,335.7 646.9,334.3 647.2,333.2 647.5,332.6 648.0,332.4 648.2,331.8 648.8,330.6 649.0,329.1 649.3,327.9 649.9,327.0 650.0,326.0 650.3,325.1 651.0,324.1 651.0,323.2 651.3,322.2 651.6,321.2 652.1,320.2 652.5,319.2 652.3,318.4 652.9,317.8 653.3,317.1 653.6,316.1 653.7,315.3 654.1,314.3 654.6,313.3 654.8,312.1 654.7,311.0 655.1,310.4 655.2,310.1 655.7,309.5 655.4,307.7 656.2,305.3 656.3,303.5 656.7,302.8 656.6,302.2 657.0,301.5 657.1,300.8 657.6,300.5 657.8,299.8 658.3,298.3 658.4,296.4 658.2,295.0 658.8,294.7 659.0,295.0 659.4,294.7 659.6,293.5 659.6,292.1 659.9,290.9 660.3,289.8 660.3,288.4 660.7,287.2 660.7,286.4 661.2,285.7 661.4,284.9 661.4,283.6 661.5,282.1 661.7,280.9 661.9,279.7 662.1,278.3 662.3,277.1 662.3,276.6 662.5,276.8 662.7,276.3 663.1,275.4 663.0,274.4 663.3,273.5 663.6,272.3 663.5,270.9 663.6,269.7 663.7,268.7 664.2,267.6 664.4,266.6 664.4,265.1 664.5,263.1 664.8,261.6 664.7,261.0 665.2,260.6 665.3,259.9 665.4,259.0 665.8,258.2 665.6,257.3 665.7,256.5 666.1,255.8 666.4,255.0 666.2,254.3 666.4,253.8 666.7,253.1 666.9,251.7 666.9,249.8 667.3,248.3 667.6,247.3 667.4,246.2 667.5,245.1 668.1,244.5 667.7,244.4 668.2,243.8 668.3,242.6 668.1,241.1 668.6,239.8 668.9,238.5 668.7,236.9 668.6,235.7 669.0,235.3 669.5,235.5 669.3,235.1 669.7,233.7 669.5,231.7 669.8,230.2 669.9,229.3 670.1,228.4 670.4,227.5 670.5,226.4 670.5,225.2 670.8,224.1 670.9,223.4 671.0,223.1 671.1,222.5 671.3,221.6 671.6,221.0 672.0,220.2 671.9,218.8 672.0,217.2 672.0,215.8 672.2,215.0 672.7,214.4 672.6,213.6 672.9,212.4 673.1,211.0 673.0,209.8 673.4,209.5 673.6,209.8 673.7,209.5 673.7,208.3 674.0,206.9 673.8,205.7 674.3,204.3 674.5,202.3 674.5,200.8 674.8,200.1 674.7,199.6 675.0,198.9 675.0,198.0 675.4,197.2 675.5,196.3 675.9,195.2 675.8,194.0 676.1,192.9 676.2,191.6 676.4,190.0 676.6,188.8 676.9,187.9 677.0,187.2 676.8,186.4 677.2,185.6 677.1,185.0 677.5,184.2 677.5,183.2 677.9,182.1 678.0,181.0 678.1,179.7 678.1,178.1 678.1,176.8 678.3,176.1 678.6,175.7 678.9,175.1 679.1,173.7 679.3,172.0 679.2,170.7 679.4,169.5 679.7,167.9 679.8,166.7 679.9,166.2 679.9,166.3 680.5,165.9 680.4,165.1 680.3,164.5 680.8,163.7 680.9,162.6 681.0,161.3 681.2,160.2 681.2,159.5 681.8,159.0 681.7,158.2 681.7,157.3 682.1,156.5 681.9,155.6 682.5,154.2 682.5,152.6 682.9,151.3 683.1,150.0 683.2,148.6 683.7,147.4 683.6,146.5 683.8,145.8 683.9,145.0 684.1,143.7 684.2,142.0 684.7,140.7 684.8,140.1 685.1,139.8 685.0,139.1 685.2,138.1 685.5,137.1 685.7,136.1 685.9,135.2 685.9,134.3 686.4,133.4 686.6,132.7 686.9,132.1 687.0,131.4 687.3,129.6 687.6,127.1 687.9,125.4 688.0,125.1 688.2,125.5 688.4,125.2 688.8,123.9 688.9,122.3 689.2,121.1 689.6,120.4 689.6,120.1 689.7,119.4 690.1,118.3 690.6,117.0 690.7,115.9 690.7,114.7 691.3,113.1 691.4,111.9 691.7,111.3 691.7,111.3 692.1,110.8 692.3,109.4 692.8,107.7 692.8,106.3 693.1,105.7 693.2,105.3 693.8,104.6 693.9,103.4 694.3,101.9 694.5,100.7 694.8,99.7 694.9,98.8 695.4,97.9 695.5,97.1 695.7,96.4 696.2,95.5 696.1,95.0 696.6,94.9 696.9,94.3 697.1,93.1 697.3,91.5 697.7,90.3 697.8,89.1 698.3,87.8 698.6,86.7 698.6,86.1 698.8,86.0 698.9,85.4 699.2,84.0 699.5,82.3 699.9,80.9 700.3,79.9 700.1,78.8 700.7,77.7 700.9,76.6 701.2,75.3 701.4,74.2 701.5,73.5 701.8,73.0 702.1,72.3 702.5,71.4 702.6,70.4 703.1,69.4 703.3,68.2 703.3,66.9 703.7,65.7 704.0,64.4 703.9,62.9 704.2,61.6 704.7,61.1 705.0,61.0 705.0,60.4 705.2,59.5 705.7,58.7 706.0,57.7 706.0,56.7 706.2,55.4 706.8,54.3 707.0,53.2 706.9,52.0 707.2,50.9 707.5,49.9 708.0,48.9 708.2,47.9 708.3,47.0 708.3,46.4 709.2,45.5 708.9,45.0 709.6,44.9 709.8,44.4 710.0,43.1 710.3,41.6 710.4,40.4 710.7,39.0 711.1,37.2 711.4,35.9 711.9,35.5 712.1,35.6 712.9,35.3 713.5,34.1 713.2,32.7 713.8,31.5 714.6,31.3 715.0,31.8 715.4,31.6 716.0,30.1 716.6,27.9 717.0,26.4 717.8,25.7 718.5,25.0 719.2,24.4 720.0,23.8 720.6,23.3 721.5,22.8 722.1,22.2 723.3,21.8 724.2,21.5 725.4,21.2 726.5,21.1 727.1,21.2 728.0,21.5 728.9,22.0 729.8,22.6 730.5,23.2 731.5,23.8 732.0,24.5 732.9,25.3 733.4,25.9 733.8,26.6 734.3,27.5 735.0,28.4 735.3,29.3 735.6,30.0 736.4,30.5 736.8,31.2 737.7,32.2 737.9,33.4 738.3,34.4 738.6,35.2 739.6,36.0 740.0,36.8 740.4,37.8 740.9,38.7 741.4,39.7 742.0,40.5 742.4,41.4 742.8,42.3 743.4,43.2 743.5,44.3 744.2,45.2 744.8,46.2 745.2,47.4 745.7,48.4 746.3,49.1 746.6,49.7 746.9,50.4 747.5,51.4 748.0,52.5 748.4,53.5 748.7,54.5 749.1,55.6 749.3,56.5 749.2,57.4 749.8,58.0 750.0,58.9 750.5,59.9 750.8,60.9 750.9,61.9 751.4,63.0 751.3,64.2 751.9,65.3 751.9,65.8 752.2,65.7 752.4,66.2 752.9,67.7 753.4,69.8 753.4,71.3 753.7,72.0 754.1,72.4 754.3,73.1 754.7,73.3 755.0,72.7 755.3,72.9 755.6,74.8 756.2,77.8 756.4,79.7 756.7,80.2 757.3,80.4 757.4,80.9 757.6,82.4 757.9,84.3 758.3,85.7 758.6,86.3 759.0,86.3 759.1,86.8 759.3,88.0 759.8,89.3 760.2,90.4 760.3,91.6 761.1,93.0 761.3,94.2 761.3,94.8 761.5,95.0 761.9,95.6 762.1,96.6 762.4,97.4 762.8,98.3 763.0,99.5 763.1,100.9 763.9,102.0 763.8,103.4 764.2,105.0 764.6,106.3 764.8,107.2 765.1,108.0 765.4,108.9 765.5,110.0 766.0,111.1 766.3,112.1 766.5,112.8 767.0,113.3 767.3,114.0 767.3,115.0 767.8,116.0 768.0,117.0 768.4,118.1 768.5,119.3 768.6,120.4 769.2,121.3 769.5,122.0 769.7,122.8 769.8,123.5 770.2,123.8 770.6,124.4 770.8,125.7 771.0,127.4 771.4,128.8 771.8,129.4 771.9,129.8 772.3,130.4 772.5,131.3 773.0,132.1 773.1,133.0 773.4,134.2 773.9,135.6 774.1,136.8 774.3,137.7 774.8,138.5 774.7,139.4 775.0,140.6 775.5,142.0 775.8,143.2 776.2,144.0 776.4,144.7 776.7,145.5 777.1,146.3 777.2,146.9 777.3,147.7 777.9,148.8 778.0,149.9 778.5,151.0 778.6,151.8 778.9,152.5 779.2,153.4 779.4,154.4 779.7,155.5 780.2,156.5 780.4,157.8 780.8,159.5 780.8,160.9 781.1,161.6 781.3,162.2 781.7,162.9 782.1,163.7 782.3,164.3 782.7,165.1 783.0,166.1 783.2,167.1 783.4,168.0 783.6,168.9 784.1,169.8 784.3,170.7 784.0,171.7 784.7,172.9 785.1,174.0 785.1,174.6 785.5,175.0 785.6,175.7 785.9,177.1 786.1,179.1 786.4,180.6 786.6,181.3 786.9,181.9 786.9,182.7 787.3,183.9 787.4,185.3 787.4,186.5 787.9,187.5 788.1,188.6 788.2,189.7 788.7,190.5 788.7,191.2 789.1,192.0 789.2,192.7 789.4,193.0 789.7,193.7 790.0,194.6 790.0,195.5 790.1,196.4 790.7,197.9 790.7,199.8 791.3,201.3 791.2,202.3 791.2,203.3 791.7,204.2 792.0,204.7 792.1,204.6 792.3,205.1 792.6,206.1 792.6,207.3 792.8,208.4 793.2,209.8 793.5,211.8 793.4,213.2 793.9,214.0 794.1,214.5 794.2,215.2 794.6,216.6 794.8,218.6 795.0,220.0 795.3,220.6 795.5,220.9 795.8,221.5 796.0,222.6 796.0,223.7 796.3,224.8 796.3,225.5 796.7,226.0 796.8,226.8 797.1,227.7 797.4,228.5 797.7,229.4 797.8,230.1 798.4,230.6 798.4,231.3 798.4,232.0 799.0,232.4 799.0,233.1 799.2,235.0 799.6,237.7 799.6,239.6 800.1,240.5 800.4,241.3 800.6,242.2 800.6,242.9 800.8,243.3 801.2,243.9 801.5,245.3 801.7,247.0 801.9,248.3 802.4,248.7 802.5,248.4 802.6,248.8 802.9,250.4 803.5,252.8 804.0,254.5 804.1,255.2 804.4,255.6 804.7,256.3 805.3,257.5 805.3,259.0 805.8,260.2 806.5,260.4 806.7,259.7 807.1,259.8 807.7,261.5 808.1,263.9 808.4,265.5 809.0,266.3 809.1,266.9 809.7,267.7 810.3,268.4 810.7,269.0 811.3,269.7 811.8,270.2 812.5,270.5 812.9,271.0 813.8,272.1 814.2,273.5 815.0,274.6 815.3,275.4 815.8,276.1 816.7,276.9 817.4,277.5 818.1,277.8 818.8,278.4 819.3,278.9 820.2,279.3 820.7,279.8 821.4,280.6 822.3,281.5 823.0,282.2 823.6,283.1 824.3,284.0 825.3,284.8 825.8,285.9 826.6,287.3 827.3,288.4 828.0,289.0 829.0,289.7 829.9,290.3 830.5,291.0 831.0,291.9 831.8,292.6 832.9,292.8 833.7,292.7 834.7,292.8 835.7,292.7 836.6,292.1 837.6,291.9 838.6,292.4 839.6,293.1 840.5,293.7 841.3,294.2 841.7,294.6 842.6,295.2 843.6,296.2 844.3,297.3 845.1,298.2 845.5,299.3 846.2,300.8 847.0,301.9 847.8,302.2 848.4,302.2 849.1,302.6 849.8,303.2 850.5,303.8 851.1,304.4 852.0,305.4 852.2,306.5 853.3,307.5 854.0,308.2 854.8,309.0 855.6,309.8 856.1,310.5 857.0,311.4 857.6,312.1 858.4,312.4 859.0,312.2 859.8,312.4 860.6,313.1 861.0,313.9 861.8,314.6 862.5,315.4 863.1,316.3 863.8,317.1 864.9,318.1 865.4,319.4 866.2,320.4 866.9,320.9 867.8,321.4 868.3,322.0 869.0,322.4 870.0,322.6 870.2,323.0 871.0,324.4 871.7,326.5 872.3,327.8 873.2,328.0 874.0,327.5 874.8,327.7 875.0,328.5 876.2,329.4 877.0,330.2 877.3,330.9 878.2,331.6 879.1,332.3 879.5,332.9 880.3,333.2 881.1,333.7 881.7,334.6 882.5,335.6 883.2,336.4 883.9,337.1 885.0,337.8 885.6,338.4 886.6,339.1 887.2,339.8 887.9,340.5 888.7,341.1 889.4,341.8 890.3,342.4 891.2,342.8 892.0,343.1 892.8,343.5 893.4,344.0 894.3,344.4 895.3,344.9 895.8,346.0 896.7,347.6 897.6,348.7 898.4,348.9 899.0,348.9 900.0,349.1 900.9,350.0 901.5,351.1 902.6,352.0 903.4,352.3 904.3,352.5 905.1,352.8 906.1,353.8 906.8,355.3 907.7,356.3 908.8,356.0 909.8,355.1 910.9,354.8 911.5,354.8 912.6,354.5 913.4,354.4 914.3,355.1 915.4,356.1 916.3,356.7 917.3,357.3 918.2,357.6 919.2,357.9 920.2,358.1 921.1,358.4 922.1,358.6 923.1,358.8 924.1,359.0 925.0,359.3 926.0,359.4 927.0,359.6 928.0,359.8 929.0,360.0 930.0,360.1 931.0,360.3 932.0,360.5 932.9,360.6 933.9,360.8 934.9,360.9 935.9,361.0 936.9,361.1 937.9,361.2 938.9,361.3 939.9,361.3 940.9,361.3 941.9,361.3 942.9,361.3 943.9,361.3 944.9,361.3 945.9,361.3 946.9,361.3 947.9,361.3 948.9,361.3 949.9,361.3 950.9,361.3 951.9,361.3 952.9,361.3 953.9,361.3 954.9,361.3 955.9,361.3 956.9,361.3 957.9,361.3 958.9,361.3 959.9,361.3 960.9,361.3 961.9,361.3 962.9,361.3 963.9,361.3 964.9,361.3 965.9,361.3 966.9,361.3 967.9,361.3 969.0,361.3 970.0,361.3 971.0,361.3 972.0,361.3 973.0,361.3 974.0,361.3 975.0,361.3 976.0,361.3 977.0,361.3 978.0,361.3 979.0,361.3 980.0,361.3 981.0,361.3 982.0,361.3 983.0,361.3 984.0,361.3 985.0,361.3 986.0,361.3 987.0,361.3 988.0,361.3 989.0,361.3 990.0,361.3 991.0,361.3 992.0,361.3 993.0,361.3 994.0,361.3 995.0,361.3 996.0,361.3 997.0,361.3 998.0,361.3 999.0,361.3 1000.0,361.3 1001.0,361.3 1002.0,361.3 1003.0,361.3 1004.0,361.3 1005.0,361.3 1006.0,361.3 1007.0,361.3" fill="none" stroke="#15862a" stroke-width="2.3" stroke-linejoin="round" stroke-linecap="butt"/>
<polyline points="577.0,361.3 578.0,361.3 579.0,361.3 580.0,361.3 581.0,361.3 582.0,361.3 583.0,361.3 584.0,361.3 585.0,361.3 586.0,361.3 587.0,361.3 588.0,361.3 589.0,361.3 590.0,361.3 591.0,361.3 592.0,361.3 593.0,361.3 594.0,361.3 595.0,361.3 596.0,361.3 597.0,361.3 598.0,361.3 599.0,361.3 600.0,361.3 601.0,361.3 602.0,361.3 603.0,361.3 604.0,361.3 605.0,361.3 606.0,361.3 607.0,361.3 608.0,361.3 609.0,361.3 610.0,361.3 611.0,361.3 612.0,361.3 613.0,361.3 614.0,361.3 615.0,361.3 616.0,361.3 617.0,361.3 618.0,361.3 619.0,361.3 620.0,361.3 621.0,361.3 622.1,361.3 623.1,361.3 624.1,361.3 625.1,361.3 626.1,361.3 627.1,361.3 628.1,361.3 629.1,361.3 630.1,361.3 631.1,361.3 632.1,361.3 633.1,361.3 634.1,361.3 635.1,361.3 636.1,361.3 637.1,361.3 638.1,361.3 639.1,361.3 640.1,361.3 641.1,361.3 642.1,361.3 643.1,361.3 644.1,361.3 645.1,361.3 646.1,361.3 647.1,361.3 648.1,361.3 649.1,361.2 650.0,360.9 651.0,360.5 651.9,360.1 652.8,359.7 653.7,359.3 654.7,358.9 655.6,358.4 656.4,357.9 657.3,357.4 658.1,356.7 658.8,356.0 659.5,355.3 660.1,354.5 660.7,353.7 661.3,352.9 661.8,352.0 662.3,351.1 662.8,350.3 663.3,349.4 663.8,348.5 664.2,347.6 664.7,346.7 665.1,345.8 665.5,344.9 665.9,344.0 666.3,343.1 666.7,342.1 667.0,341.2 667.4,340.3 667.7,339.3 668.1,338.4 668.4,337.4 668.7,336.5 668.9,335.5 669.2,334.6 669.5,333.6 669.8,332.6 670.1,331.7 670.4,330.7 670.6,329.8 670.9,328.8 671.2,327.8 671.4,326.9 671.7,325.9 672.0,324.9 672.3,324.0 672.5,323.0 672.8,322.0 673.1,321.1 673.3,320.1 673.6,319.2 673.8,318.2 674.1,317.2 674.4,316.3 674.6,315.3 674.9,314.3 675.1,313.4 675.4,312.4 675.7,311.4 675.9,310.4 676.2,309.5 676.4,308.5 676.7,307.5 676.9,306.6 677.2,305.6 677.4,304.6 677.7,303.7 677.9,302.7 678.2,301.7 678.4,300.7 678.6,299.8 678.9,298.8 679.1,297.8 679.3,296.8 679.6,295.9 679.8,294.9 680.0,293.9 680.2,292.9 680.4,292.0 680.6,291.0 680.8,290.0 681.0,289.0 681.2,288.0 681.4,287.1 681.6,286.1 681.8,285.1 682.0,284.1 682.1,283.1 682.3,282.1 682.5,281.1 682.6,280.2 682.8,279.2 683.0,278.2 683.2,277.2 683.3,276.2 683.5,275.2 683.7,274.2 683.8,273.2 684.0,272.3 684.2,271.3 684.3,270.3 684.5,269.3 684.7,268.3 684.8,267.3 685.0,266.3 685.1,265.3 685.3,264.4 685.5,263.4 685.6,262.4 685.8,261.4 686.0,260.4 686.1,259.4 686.3,258.4 686.4,257.4 686.6,256.5 686.8,255.5 686.9,254.5 687.1,253.5 687.2,252.5 687.4,251.5 687.6,250.5 687.7,249.5 687.9,248.6 688.1,247.6 688.2,246.6 688.4,245.6 688.6,244.6 688.7,243.6 688.9,242.6 689.1,241.6 689.2,240.7 689.4,239.7 689.6,238.7 689.7,237.7 689.9,236.7 690.1,235.7 690.2,234.7 690.4,233.7 690.6,232.8 690.7,231.8 690.9,230.8 691.1,229.8 691.3,228.8 691.4,227.8 691.6,226.8 691.8,225.9 691.9,224.9 692.1,223.9 692.3,222.9 692.4,221.9 692.6,220.9 692.8,219.9 692.9,218.9 693.1,218.0 693.3,217.0 693.4,216.0 693.6,215.0 693.8,214.0 693.9,213.0 694.1,212.0 694.3,211.0 694.4,210.1 694.6,209.1 694.8,208.1 694.9,207.1 695.1,206.1 695.3,205.1 695.5,204.1 695.6,203.2 695.8,202.2 696.0,201.2 696.2,200.2 696.3,199.2 696.5,198.2 696.7,197.2 696.9,196.3 697.0,195.3 697.2,194.3 697.4,193.3 697.6,192.3 697.8,191.3 697.9,190.3 698.1,189.4 698.3,188.4 698.5,187.4 698.6,186.4 698.8,185.4 699.0,184.4 699.2,183.5 699.4,182.5 699.5,181.5 699.7,180.5 699.9,179.5 700.1,178.5 700.2,177.5 700.4,176.6 700.6,175.6 700.8,174.6 701.0,173.6 701.1,172.6 701.3,171.6 701.5,170.6 701.7,169.7 701.8,168.7 702.0,167.7 702.2,166.7 702.4,165.7 702.5,164.7 702.7,163.7 702.9,162.8 703.1,161.8 703.3,160.8 703.4,159.8 703.6,158.8 703.8,157.8 704.0,156.8 704.1,155.9 704.3,154.9 704.5,153.9 704.7,152.9 704.9,151.9 705.0,150.9 705.2,150.0 705.4,149.0 705.6,148.0 705.7,147.0 705.9,146.0 706.1,145.0 706.3,144.0 706.5,143.1 706.6,142.1 706.8,141.1 707.0,140.1 707.2,139.1 707.3,138.1 707.5,137.1 707.7,136.2 707.9,135.2 708.0,134.2 708.2,133.2 708.4,132.2 708.6,131.2 708.8,130.2 708.9,129.3 709.1,128.3 709.3,127.3 709.5,126.3 709.6,125.3 709.8,124.3 710.0,123.3 710.2,122.4 710.4,121.4 710.6,120.4 710.8,119.4 711.0,118.4 711.2,117.5 711.4,116.5 711.6,115.5 711.9,114.5 712.1,113.6 712.3,112.6 712.5,111.6 712.8,110.6 713.0,109.7 713.2,108.7 713.5,107.7 713.7,106.7 713.9,105.8 714.2,104.8 714.4,103.8 714.6,102.8 714.8,101.9 715.1,100.9 715.3,99.9 715.5,98.9 715.7,98.0 716.0,97.0 716.2,96.0 716.4,95.0 716.7,94.1 716.9,93.1 717.1,92.1 717.4,91.1 717.6,90.2 717.8,89.2 718.0,88.2 718.3,87.2 718.5,86.3 718.7,85.3 719.0,84.3 719.2,83.3 719.4,82.4 719.7,81.4 719.9,80.4 720.1,79.4 720.3,78.5 720.6,77.5 720.8,76.5 721.0,75.6 721.3,74.6 721.5,73.6 721.7,72.6 722.0,71.7 722.2,70.7 722.4,69.7 722.7,68.7 722.9,67.8 723.1,66.8 723.4,65.8 723.6,64.8 723.8,63.9 724.1,62.9 724.3,61.9 724.5,60.9 724.8,60.0 725.0,59.0 725.2,58.0 725.5,57.1 725.7,56.1 726.0,55.1 726.2,54.1 726.4,53.2 726.7,52.2 726.9,51.2 727.2,50.3 727.4,49.3 727.7,48.3 727.9,47.4 728.2,46.4 728.5,45.4 728.7,44.4 729.0,43.5 729.3,42.5 729.6,41.6 729.9,40.6 730.2,39.7 730.6,38.7 730.9,37.8 731.3,36.9 731.7,35.9 732.0,35.0 732.5,34.1 732.9,33.2 733.3,32.3 733.8,31.4 734.3,30.6 734.8,29.7 735.3,28.8 735.8,28.0 736.4,27.1 736.9,26.2 737.5,25.4 738.1,24.7 738.8,24.0 739.5,23.3 740.3,22.7 741.2,22.1 742.2,21.5 743.1,21.0 744.1,20.7 745.0,20.4 746.0,20.2 747.0,20.1 747.9,20.1 748.9,20.2 749.8,20.5 750.8,20.9 751.7,21.4 752.7,22.1 753.5,22.7 754.2,23.4 754.8,24.1 755.4,24.9 755.9,25.8 756.5,26.6 757.0,27.5 757.5,28.4 758.0,29.2 758.5,30.1 759.0,31.0 759.5,31.8 760.0,32.7 760.5,33.6 761.0,34.5 761.4,35.3 761.9,36.2 762.3,37.1 762.7,38.0 763.1,38.9 763.5,39.9 763.9,40.8 764.3,41.7 764.7,42.6 765.1,43.5 765.5,44.5 765.9,45.4 766.2,46.3 766.6,47.2 767.0,48.2 767.4,49.1 767.8,50.0 768.1,51.0 768.5,51.9 768.9,52.8 769.2,53.7 769.6,54.7 770.0,55.6 770.3,56.5 770.7,57.5 771.1,58.4 771.4,59.3 771.8,60.3 772.1,61.2 772.5,62.1 772.9,63.1 773.2,64.0 773.6,65.0 774.0,65.9 774.3,66.8 774.7,67.8 775.0,68.7 775.4,69.6 775.8,70.6 776.1,71.5 776.5,72.4 776.8,73.4 777.1,74.3 777.5,75.3 777.8,76.2 778.1,77.2 778.4,78.1 778.8,79.1 779.1,80.0 779.4,81.0 779.6,81.9 779.9,82.9 780.2,83.9 780.5,84.8 780.7,85.8 781.0,86.8 781.2,87.7 781.4,88.7 781.7,89.7 781.9,90.7 782.2,91.6 782.4,92.6 782.6,93.6 782.8,94.6 783.1,95.5 783.3,96.5 783.5,97.5 783.7,98.5 783.9,99.4 784.1,100.4 784.3,101.4 784.5,102.4 784.7,103.4 785.0,104.3 785.2,105.3 785.4,106.3 785.5,107.3 785.7,108.3 785.9,109.2 786.1,110.2 786.3,111.2 786.5,112.2 786.7,113.2 786.9,114.2 787.1,115.1 787.3,116.1 787.5,117.1 787.7,118.1 787.9,119.1 788.0,120.1 788.2,121.0 788.4,122.0 788.6,123.0 788.8,124.0 789.0,125.0 789.2,126.0 789.4,126.9 789.6,127.9 789.7,128.9 789.9,129.9 790.1,130.9 790.3,131.9 790.5,132.8 790.7,133.8 790.9,134.8 791.0,135.8 791.2,136.8 791.4,137.8 791.6,138.7 791.8,139.7 791.9,140.7 792.1,141.7 792.3,142.7 792.5,143.7 792.7,144.7 792.8,145.6 793.0,146.6 793.2,147.6 793.4,148.6 793.6,149.6 793.7,150.6 793.9,151.5 794.1,152.5 794.3,153.5 794.5,154.5 794.7,155.5 794.8,156.5 795.0,157.4 795.2,158.4 795.4,159.4 795.6,160.4 795.8,161.4 796.0,162.4 796.2,163.3 796.4,164.3 796.6,165.3 796.8,166.3 797.0,167.3 797.2,168.3 797.4,169.2 797.6,170.2 797.8,171.2 798.0,172.2 798.2,173.1 798.5,174.1 798.7,175.1 798.9,176.1 799.1,177.0 799.4,178.0 799.6,179.0 799.8,180.0 800.0,180.9 800.3,181.9 800.5,182.9 800.8,183.9 801.0,184.8 801.2,185.8 801.5,186.8 801.7,187.8 801.9,188.7 802.2,189.7 802.4,190.7 802.7,191.6 802.9,192.6 803.1,193.6 803.4,194.6 803.6,195.5 803.9,196.5 804.1,197.5 804.4,198.4 804.6,199.4 804.9,200.4 805.2,201.3 805.4,202.3 805.7,203.2 806.0,204.2 806.3,205.2 806.6,206.1 806.9,207.1 807.2,208.0 807.5,209.0 807.8,209.9 808.1,210.9 808.4,211.8 808.7,212.8 809.1,213.7 809.4,214.7 809.7,215.6 810.0,216.6 810.4,217.5 810.7,218.5 811.1,219.4 811.4,220.4 811.8,221.3 812.2,222.3 812.6,223.2 813.0,224.2 813.4,225.1 813.9,226.0 814.4,226.9 814.9,227.8 815.4,228.7 816.0,229.5 816.6,230.3 817.2,231.1 817.9,231.9 818.5,232.6 819.3,233.3 820.0,233.9 820.8,234.6 821.6,235.2 822.4,235.8 823.3,236.3 824.1,236.9 824.9,237.5 825.7,238.0 826.6,238.6 827.4,239.2 828.2,239.7 829.0,240.3 829.8,240.9 830.7,241.5 831.5,242.1 832.3,242.6 833.1,243.2 833.9,243.8 834.7,244.4 835.5,244.9 836.4,245.5 837.2,246.1 838.0,246.7 838.8,247.3 839.6,247.9 840.4,248.5 841.2,249.2 841.9,249.8 842.7,250.5 843.4,251.2 844.1,251.9 844.7,252.7 845.4,253.4 846.0,254.2 846.6,255.1 847.1,255.9 847.7,256.7 848.3,257.6 848.8,258.4 849.4,259.2 849.9,260.1 850.5,260.9 851.0,261.8 851.5,262.6 852.0,263.5 852.6,264.3 853.1,265.2 853.6,266.0 854.2,266.8 854.8,267.7 855.3,268.5 855.9,269.3 856.5,270.1 857.1,270.9 857.7,271.7 858.2,272.6 858.8,273.4 859.4,274.2 860.0,275.0 860.6,275.8 861.2,276.6 861.7,277.5 862.3,278.3 862.9,279.1 863.5,279.9 864.1,280.7 864.6,281.5 865.2,282.4 865.8,283.2 866.4,284.0 867.0,284.8 867.5,285.6 868.1,286.4 868.7,287.2 869.3,288.1 869.9,288.9 870.4,289.7 871.0,290.5 871.6,291.3 872.2,292.1 872.8,293.0 873.3,293.8 873.9,294.6 874.5,295.4 875.1,296.2 875.7,297.0 876.2,297.9 876.8,298.7 877.4,299.5 877.9,300.3 878.5,301.2 879.0,302.0 879.6,302.8 880.2,303.6 880.8,304.5 881.3,305.3 881.9,306.1 882.5,306.9 883.1,307.7 883.7,308.5 884.3,309.3 884.9,310.1 885.5,310.9 886.1,311.7 886.7,312.5 887.3,313.3 887.9,314.1 888.5,314.9 889.1,315.7 889.8,316.5 890.4,317.3 891.0,318.1 891.6,318.9 892.2,319.6 892.9,320.4 893.5,321.2 894.1,322.0 894.8,322.7 895.4,323.5 896.0,324.3 896.7,325.0 897.3,325.8 898.0,326.6 898.6,327.3 899.3,328.1 899.9,328.8 900.6,329.6 901.3,330.3 902.0,331.0 902.6,331.8 903.3,332.5 904.0,333.2 904.7,333.9 905.4,334.6 906.1,335.3 906.9,336.0 907.6,336.7 908.3,337.4 909.0,338.1 909.8,338.8 910.5,339.4 911.3,340.1 912.0,340.8 912.8,341.4 913.6,342.1 914.4,342.8 915.2,343.4 916.0,344.0 916.8,344.6 917.6,345.2 918.5,345.8 919.3,346.3 920.2,346.9 921.0,347.4 921.9,347.9 922.8,348.3 923.7,348.8 924.6,349.2 925.5,349.6 926.4,350.0 927.4,350.4 928.3,350.8 929.2,351.1 930.2,351.4 931.2,351.7 932.1,352.0 933.1,352.3 934.1,352.5 935.0,352.8 936.0,353.1 937.0,353.3 937.9,353.6 938.9,353.8 939.9,354.0 940.8,354.3 941.8,354.5 942.8,354.7 943.8,354.9 944.8,355.1 945.7,355.3 946.7,355.5 947.7,355.7 948.7,355.9 949.7,356.1 950.7,356.3 951.6,356.5 952.6,356.6 953.6,356.8 954.6,357.0 955.6,357.2 956.6,357.3 957.6,357.5 958.5,357.6 959.5,357.8 960.5,357.9 961.5,358.1 962.5,358.2 963.5,358.3 964.5,358.4 965.5,358.5 966.5,358.6 967.5,358.8 968.5,358.8 969.5,358.9 970.5,359.0 971.5,359.1 972.5,359.1 973.5,359.2 974.5,359.3 975.5,359.3 976.5,359.3 977.5,359.4 978.5,359.4 979.5,359.5 980.5,359.5 981.5,359.6 982.5,359.6 983.5,359.6 984.5,359.7 985.5,359.7 986.5,359.7 987.5,359.8 988.5,359.8 989.5,359.8 990.5,359.8 991.5,359.8 992.5,359.9 993.5,359.9 994.5,359.9 995.5,359.9 996.5,359.9 997.5,359.9 998.5,360.0 999.5,360.0 1000.5,360.0 1001.5,360.0 1002.5,360.0 1003.5,360.0 1004.5,360.0 1005.5,360.0 1006.5,360.0" fill="none" stroke="#ff8a17" stroke-width="2.3" stroke-linejoin="round" stroke-linecap="butt"/>
<polyline points="577.0,361.3 578.0,361.3 579.1,361.3 580.1,361.3 581.1,361.3 582.1,361.3 583.1,361.3 584.2,361.3 585.2,361.3 586.2,361.3 587.2,361.3 588.2,361.3 589.2,361.3 590.2,361.3 591.2,361.3 592.2,361.3 593.2,361.3 594.2,361.3 595.2,361.3 596.2,361.3 597.1,361.3 598.1,361.3 599.1,361.3 600.0,361.3 601.0,361.0 601.9,360.7 602.9,360.3 603.8,360.0 604.8,359.7 605.7,359.4 606.7,359.0 607.6,358.7 608.6,358.4 609.6,358.2 610.5,358.0 611.5,358.0 612.5,358.2 613.4,358.6 614.4,359.0 615.3,359.4 616.3,359.9 617.2,360.5 618.1,361.0 618.9,361.3 619.8,361.2 620.7,360.9 621.6,360.3 622.5,359.7 623.3,359.0 624.2,358.4 625.0,357.8 625.7,357.2 626.4,356.5 627.1,355.7 627.6,354.9 628.1,354.0 628.6,353.1 629.0,352.2 629.4,351.3 629.8,350.4 630.2,349.5 630.6,348.5 631.0,347.6 631.4,346.7 631.7,345.7 632.1,344.8 632.4,343.9 632.8,342.9 633.1,342.0 633.4,341.0 633.7,340.1 634.0,339.1 634.2,338.1 634.5,337.2 634.8,336.2 635.1,335.3 635.4,334.3 635.7,333.3 636.0,332.4 636.3,331.4 636.6,330.5 636.9,329.5 637.2,328.6 637.5,327.6 637.7,326.6 638.0,325.7 638.3,324.7 638.5,323.7 638.8,322.8 639.0,321.8 639.3,320.8 639.5,319.9 639.8,318.9 640.0,317.9 640.3,316.9 640.5,316.0 640.7,315.0 641.0,314.0 641.2,313.1 641.5,312.1 641.7,311.1 642.0,310.1 642.2,309.2 642.5,308.2 642.7,307.2 642.9,306.3 643.2,305.3 643.4,304.3 643.7,303.3 643.9,302.4 644.2,301.4 644.4,300.4 644.6,299.5 644.9,298.5 645.1,297.5 645.3,296.5 645.6,295.6 645.8,294.6 646.0,293.6 646.2,292.6 646.4,291.6 646.6,290.7 646.8,289.7 647.0,288.7 647.2,287.7 647.4,286.7 647.5,285.7 647.7,284.8 647.9,283.8 648.0,282.8 648.2,281.8 648.4,280.8 648.5,279.8 648.7,278.8 648.8,277.8 649.0,276.8 649.1,275.8 649.3,274.9 649.4,273.9 649.6,272.9 649.7,271.9 649.8,270.9 650.0,269.9 650.1,268.9 650.3,267.9 650.4,266.9 650.5,265.9 650.7,264.9 650.8,263.9 650.9,262.9 651.0,262.0 651.2,261.0 651.3,260.0 651.4,259.0 651.5,258.0 651.7,257.0 651.8,256.0 651.9,255.0 652.0,254.0 652.2,253.0 652.3,252.0 652.4,251.0 652.5,250.0 652.6,249.0 652.7,248.0 652.9,247.0 653.0,246.0 653.1,245.1 653.2,244.1 653.3,243.1 653.4,242.1 653.6,241.1 653.7,240.1 653.8,239.1 653.9,238.1 654.0,237.1 654.1,236.1 654.3,235.1 654.4,234.1 654.5,233.1 654.6,232.1 654.7,231.1 654.9,230.1 655.0,229.1 655.1,228.1 655.2,227.1 655.3,226.2 655.5,225.2 655.6,224.2 655.7,223.2 655.8,222.2 656.0,221.2 656.1,220.2 656.2,219.2 656.3,218.2 656.5,217.2 656.6,216.2 656.7,215.2 656.9,214.2 657.0,213.2 657.1,212.2 657.3,211.3 657.4,210.3 657.6,209.3 657.7,208.3 657.9,207.3 658.0,206.3 658.2,205.3 658.3,204.3 658.5,203.3 658.6,202.3 658.8,201.4 658.9,200.4 659.1,199.4 659.2,198.4 659.4,197.4 659.5,196.4 659.7,195.4 659.8,194.4 660.0,193.4 660.1,192.4 660.3,191.4 660.4,190.5 660.6,189.5 660.7,188.5 660.9,187.5 661.0,186.5 661.2,185.5 661.3,184.5 661.5,183.5 661.6,182.5 661.8,181.5 661.9,180.6 662.1,179.6 662.2,178.6 662.4,177.6 662.5,176.6 662.7,175.6 662.8,174.6 663.0,173.6 663.1,172.6 663.3,171.7 663.4,170.7 663.6,169.7 663.8,168.7 663.9,167.7 664.1,166.7 664.2,165.7 664.4,164.7 664.5,163.7 664.7,162.7 664.9,161.8 665.0,160.8 665.2,159.8 665.3,158.8 665.5,157.8 665.7,156.8 665.8,155.8 666.0,154.8 666.1,153.9 666.3,152.9 666.5,151.9 666.6,150.9 666.8,149.9 667.0,148.9 667.1,147.9 667.3,146.9 667.5,145.9 667.6,145.0 667.8,144.0 668.0,143.0 668.1,142.0 668.3,141.0 668.5,140.0 668.7,139.0 668.8,138.1 669.0,137.1 669.2,136.1 669.4,135.1 669.5,134.1 669.7,133.1 669.9,132.1 670.1,131.1 670.2,130.2 670.4,129.2 670.6,128.2 670.8,127.2 671.0,126.2 671.2,125.2 671.3,124.3 671.5,123.3 671.7,122.3 671.9,121.3 672.1,120.3 672.3,119.3 672.5,118.4 672.7,117.4 672.9,116.4 673.1,115.4 673.3,114.4 673.5,113.4 673.7,112.5 673.9,111.5 674.1,110.5 674.3,109.5 674.5,108.5 674.7,107.6 674.9,106.6 675.1,105.6 675.3,104.6 675.5,103.6 675.7,102.7 675.9,101.7 676.1,100.7 676.3,99.7 676.5,98.7 676.7,97.8 677.0,96.8 677.2,95.8 677.4,94.8 677.6,93.8 677.8,92.9 678.0,91.9 678.2,90.9 678.4,89.9 678.6,88.9 678.9,88.0 679.1,87.0 679.3,86.0 679.5,85.0 679.7,84.1 679.9,83.1 680.1,82.1 680.3,81.1 680.6,80.1 680.8,79.2 681.0,78.2 681.2,77.2 681.4,76.2 681.6,75.2 681.9,74.3 682.1,73.3 682.3,72.3 682.5,71.3 682.8,70.4 683.0,69.4 683.2,68.4 683.4,67.4 683.7,66.5 683.9,65.5 684.1,64.5 684.4,63.5 684.6,62.6 684.8,61.6 685.1,60.6 685.3,59.6 685.5,58.7 685.8,57.7 686.0,56.7 686.3,55.8 686.5,54.8 686.8,53.8 687.1,52.9 687.4,51.9 687.7,50.9 688.0,50.0 688.3,49.0 688.6,48.1 688.9,47.1 689.2,46.2 689.5,45.2 689.8,44.3 690.1,43.3 690.5,42.4 690.8,41.4 691.1,40.5 691.5,39.6 691.8,38.6 692.2,37.7 692.5,36.7 692.9,35.8 693.3,34.9 693.7,34.0 694.1,33.0 694.5,32.1 694.9,31.2 695.3,30.4 695.8,29.5 696.3,28.6 696.8,27.7 697.3,26.8 697.8,26.0 698.3,25.1 698.9,24.2 699.5,23.4 700.2,22.7 701.0,22.1 701.8,21.6 702.7,21.0 703.7,20.6 704.7,20.3 705.6,20.1 706.6,20.1 707.6,20.2 708.6,20.5 709.5,21.0 710.3,21.7 711.0,22.5 711.6,23.2 712.1,24.0 712.7,24.8 713.4,25.6 714.0,26.4 714.6,27.2 715.1,28.0 715.6,28.9 716.0,29.9 716.4,30.8 716.8,31.7 717.2,32.6 717.6,33.5 718.0,34.5 718.4,35.4 718.8,36.3 719.2,37.2 719.5,38.1 719.9,39.1 720.3,40.0 720.7,40.9 721.0,41.9 721.4,42.8 721.8,43.7 722.2,44.6 722.5,45.6 722.9,46.5 723.3,47.4 723.7,48.4 724.1,49.3 724.5,50.2 724.9,51.1 725.3,52.0 725.6,53.0 726.0,53.9 726.4,54.8 726.8,55.7 727.2,56.6 727.6,57.6 728.0,58.5 728.4,59.4 728.7,60.4 729.1,61.3 729.5,62.2 729.8,63.2 730.1,64.1 730.5,65.0 730.8,66.0 731.1,67.0 731.4,67.9 731.7,68.9 732.0,69.8 732.3,70.8 732.6,71.7 732.8,72.7 733.1,73.7 733.4,74.6 733.6,75.6 733.9,76.6 734.1,77.5 734.4,78.5 734.7,79.5 734.9,80.4 735.2,81.4 735.5,82.4 735.7,83.3 736.0,84.3 736.3,85.3 736.6,86.2 736.8,87.2 737.1,88.1 737.4,89.1 737.7,90.1 738.0,91.0 738.3,92.0 738.5,93.0 738.8,93.9 739.1,94.9 739.4,95.8 739.7,96.8 740.0,97.8 740.3,98.7 740.5,99.7 740.8,100.6 741.1,101.6 741.4,102.6 741.7,103.5 742.0,104.5 742.2,105.4 742.5,106.4 742.8,107.4 743.1,108.3 743.4,109.3 743.7,110.2 743.9,111.2 744.2,112.2 744.5,113.1 744.8,114.1 745.1,115.0 745.4,116.0 745.6,117.0 745.9,117.9 746.2,118.9 746.5,119.8 746.8,120.8 747.1,121.8 747.3,122.7 747.6,123.7 747.9,124.7 748.2,125.6 748.5,126.6 748.7,127.5 749.0,128.5 749.3,129.5 749.6,130.4 749.9,131.4 750.1,132.3 750.4,133.3 750.7,134.3 751.0,135.2 751.2,136.2 751.5,137.2 751.8,138.1 752.1,139.1 752.3,140.0 752.6,141.0 752.9,142.0 753.2,142.9 753.4,143.9 753.7,144.9 754.0,145.8 754.3,146.8 754.5,147.8 754.8,148.7 755.1,149.7 755.4,150.6 755.6,151.6 755.9,152.6 756.2,153.5 756.5,154.5 756.7,155.5 757.0,156.4 757.3,157.4 757.6,158.3 757.9,159.3 758.1,160.3 758.4,161.2 758.7,162.2 759.0,163.2 759.2,164.1 759.5,165.1 759.8,166.0 760.1,167.0 760.4,168.0 760.6,168.9 760.9,169.9 761.2,170.8 761.5,171.8 761.8,172.8 762.1,173.7 762.3,174.7 762.6,175.6 762.9,176.6 763.2,177.6 763.5,178.5 763.8,179.5 764.0,180.4 764.3,181.4 764.6,182.4 764.9,183.3 765.2,184.3 765.5,185.2 765.8,186.2 766.1,187.2 766.4,188.1 766.6,189.1 766.9,190.0 767.2,191.0 767.5,192.0 767.8,192.9 768.1,193.9 768.4,194.8 768.7,195.8 769.0,196.7 769.3,197.7 769.6,198.7 769.8,199.6 770.1,200.6 770.4,201.5 770.7,202.5 771.0,203.5 771.3,204.4 771.6,205.4 771.9,206.3 772.2,207.3 772.5,208.2 772.8,209.2 773.1,210.1 773.4,211.1 773.7,212.0 774.0,213.0 774.4,214.0 774.7,214.9 775.0,215.9 775.3,216.8 775.6,217.8 775.9,218.7 776.3,219.7 776.6,220.6 776.9,221.6 777.2,222.5 777.5,223.5 777.9,224.4 778.2,225.4 778.5,226.3 778.8,227.2 779.1,228.2 779.4,229.1 779.8,230.1 780.1,231.0 780.4,232.0 780.7,232.9 781.0,233.9 781.3,234.9 781.7,235.8 782.0,236.8 782.3,237.7 782.6,238.7 782.9,239.6 783.2,240.6 783.5,241.5 783.8,242.5 784.1,243.4 784.4,244.4 784.6,245.4 784.9,246.3 785.2,247.3 785.5,248.2 785.8,249.2 786.1,250.2 786.3,251.1 786.6,252.1 786.9,253.0 787.2,254.0 787.4,255.0 787.7,255.9 788.0,256.9 788.3,257.9 788.6,258.8 788.8,259.8 789.1,260.7 789.4,261.7 789.7,262.7 790.0,263.6 790.3,264.6 790.6,265.5 790.9,266.5 791.1,267.5 791.4,268.4 791.7,269.4 792.1,270.3 792.4,271.3 792.7,272.2 793.0,273.2 793.3,274.1 793.6,275.1 794.0,276.0 794.3,277.0 794.6,277.9 794.9,278.9 795.3,279.8 795.6,280.7 796.0,281.7 796.3,282.6 796.6,283.6 797.0,284.5 797.3,285.5 797.6,286.4 798.0,287.3 798.3,288.3 798.7,289.2 799.1,290.2 799.4,291.1 799.8,292.0 800.2,292.9 800.5,293.9 800.9,294.8 801.3,295.7 801.7,296.7 802.1,297.6 802.5,298.5 802.9,299.4 803.3,300.3 803.7,301.2 804.2,302.1 804.7,303.0 805.2,303.9 805.7,304.7 806.2,305.6 806.8,306.4 807.4,307.2 808.0,308.0 808.6,308.8 809.2,309.6 809.8,310.4 810.3,311.3 810.9,312.1 811.5,312.9 812.1,313.7 812.8,314.5 813.4,315.2 814.1,315.9 814.8,316.6 815.6,317.3 816.4,317.8 817.3,318.3 818.2,318.8 819.1,319.2 820.0,319.7 820.8,320.2 821.7,320.8 822.5,321.4 823.3,322.0 824.1,322.6 824.9,323.1 825.7,323.7 826.6,324.3 827.4,324.8 828.3,325.4 829.1,325.9 830.0,326.3 830.9,326.7 831.8,327.1 832.8,327.5 833.7,327.9 834.6,328.3 835.6,328.6 836.5,328.9 837.5,329.2 838.4,329.6 839.4,329.9 840.3,330.2 841.3,330.5 842.2,330.9 843.2,331.2 844.1,331.6 845.1,331.9 846.0,332.3 846.9,332.7 847.8,333.2 848.7,333.6 849.6,334.1 850.4,334.6 851.3,335.1 852.2,335.5 853.1,336.0 853.9,336.5 854.8,337.0 855.7,337.5 856.6,338.0 857.4,338.5 858.3,339.0 859.2,339.5 860.0,340.0 860.9,340.5 861.8,341.0 862.7,341.4 863.5,341.9 864.4,342.4 865.3,342.9 866.2,343.3 867.1,343.8 868.0,344.2 868.9,344.7 869.8,345.1 870.7,345.6 871.6,346.0 872.5,346.4 873.4,346.8 874.3,347.2 875.2,347.6 876.2,348.0 877.1,348.5 878.0,348.8 878.9,349.2 879.8,349.6 880.8,350.0 881.7,350.3 882.7,350.6 883.6,350.9 884.6,351.1 885.6,351.4 886.6,351.6 887.6,351.8 888.5,352.1 889.5,352.4 890.4,352.8 891.3,353.3 892.1,353.9 892.9,354.5 893.7,355.2 894.4,355.8 895.3,356.4 896.2,356.8 897.1,357.1 898.1,357.4 899.1,357.6 900.1,357.8 901.0,358.0 902.0,358.2 903.0,358.4 904.0,358.6 905.0,358.8 906.0,358.9 907.0,359.1 908.0,359.3 908.9,359.4 909.9,359.5 910.9,359.7 911.9,359.8 912.9,359.9 913.9,360.0 914.9,360.1 915.9,360.3 916.9,360.4 917.9,360.4 918.9,360.5 919.9,360.6 920.9,360.7 921.9,360.8 922.9,360.9 923.9,360.9 924.9,361.0 925.9,361.1 926.9,361.2 927.9,361.2 928.9,361.3 929.9,361.3 930.9,361.3 931.9,361.3 932.9,361.3 933.9,361.3 934.9,361.3 935.9,361.3 936.9,361.3 937.9,361.3 938.9,361.3 939.9,361.3 940.9,361.3 941.9,361.3 942.9,361.3 943.9,361.3 944.9,361.3 945.9,361.3 946.9,361.3 947.9,361.3 948.9,361.3 949.9,361.3 950.9,361.3 951.9,361.3 952.9,361.3 953.9,361.3 954.9,361.3 955.9,361.3 956.9,361.3 957.9,361.3 958.9,361.3 959.9,361.3 960.9,361.3 961.9,361.3 962.9,361.3 963.9,361.3 964.9,361.3 965.9,361.3 966.9,361.3 967.9,361.3 968.9,361.3 969.9,361.3 970.9,361.3 971.9,361.3 972.9,361.3 973.9,361.3 975.0,361.3 976.0,361.3 977.0,361.3 978.0,361.3 979.0,361.3 980.0,361.3 981.0,361.3 982.0,361.3 983.0,361.3 984.0,361.3 985.0,361.3 986.0,361.3 987.0,361.3 988.0,361.3 989.0,361.3 990.0,361.3 991.0,361.3 992.0,361.3 993.0,361.3 994.0,361.3 995.0,361.3 996.0,361.3 997.0,361.3 998.0,361.3 999.0,361.3 1000.0,361.3 1001.0,361.3 1002.0,361.3 1003.0,361.3 1004.0,361.3 1005.0,361.3 1006.0,361.3 1007.0,361.3" fill="none" stroke="#c41414" stroke-width="2.3" stroke-linejoin="round" stroke-linecap="butt"/>
<polyline points="577.0,361.3 578.0,361.3 579.0,361.3 580.0,361.3 581.0,361.3 582.0,361.3 583.0,361.3 584.0,361.3 585.0,361.3 586.0,361.3 587.0,361.3 588.0,361.3 589.0,361.3 590.0,361.3 591.0,361.2 592.0,361.0 593.0,360.8 594.0,360.7 594.9,360.5 595.9,360.3 596.9,360.0 597.9,359.8 598.9,359.6 599.8,359.3 600.8,359.1 601.7,358.8 602.7,358.4 603.6,358.0 604.5,357.6 605.4,357.1 606.2,356.5 607.0,355.8 607.7,355.1 608.4,354.3 609.0,353.6 609.6,352.8 610.2,351.9 610.8,351.1 611.3,350.3 611.8,349.4 612.3,348.5 612.8,347.7 613.3,346.8 613.8,345.9 614.3,345.1 614.8,344.2 615.2,343.3 615.6,342.4 616.0,341.5 616.4,340.5 616.7,339.6 617.0,338.6 617.3,337.7 617.6,336.7 617.9,335.7 618.2,334.8 618.5,333.8 618.7,332.8 619.0,331.9 619.2,330.9 619.4,329.9 619.7,329.0 619.9,328.0 620.1,327.0 620.3,326.0 620.6,325.1 620.8,324.1 621.0,323.1 621.3,322.1 621.5,321.2 621.7,320.2 621.9,319.2 622.2,318.2 622.4,317.3 622.7,316.3 622.9,315.3 623.1,314.3 623.4,313.4 623.6,312.4 623.8,311.4 624.1,310.5 624.3,309.5 624.5,308.5 624.8,307.5 625.0,306.6 625.2,305.6 625.5,304.6 625.7,303.6 625.9,302.7 626.2,301.7 626.4,300.7 626.6,299.7 626.9,298.8 627.1,297.8 627.3,296.8 627.5,295.8 627.7,294.9 627.9,293.9 628.1,292.9 628.4,291.9 628.6,290.9 628.8,290.0 629.0,289.0 629.1,288.0 629.3,287.0 629.5,286.0 629.7,285.0 629.9,284.1 630.0,283.1 630.2,282.1 630.4,281.1 630.5,280.1 630.7,279.1 630.9,278.1 631.0,277.1 631.2,276.2 631.4,275.2 631.5,274.2 631.7,273.2 631.8,272.2 632.0,271.2 632.1,270.2 632.3,269.2 632.4,268.2 632.6,267.2 632.7,266.3 632.8,265.3 633.0,264.3 633.1,263.3 633.3,262.3 633.4,261.3 633.5,260.3 633.7,259.3 633.8,258.3 633.9,257.3 634.1,256.3 634.2,255.3 634.3,254.4 634.5,253.4 634.6,252.4 634.7,251.4 634.9,250.4 635.0,249.4 635.1,248.4 635.2,247.4 635.4,246.4 635.5,245.4 635.6,244.4 635.8,243.4 635.9,242.4 636.0,241.4 636.1,240.5 636.3,239.5 636.4,238.5 636.5,237.5 636.6,236.5 636.8,235.5 636.9,234.5 637.0,233.5 637.2,232.5 637.3,231.5 637.4,230.5 637.5,229.5 637.7,228.5 637.8,227.5 637.9,226.5 638.1,225.6 638.2,224.6 638.3,223.6 638.5,222.6 638.6,221.6 638.7,220.6 638.9,219.6 639.0,218.6 639.1,217.6 639.3,216.6 639.4,215.6 639.6,214.6 639.7,213.7 639.8,212.7 640.0,211.7 640.1,210.7 640.3,209.7 640.4,208.7 640.6,207.7 640.7,206.7 640.9,205.7 641.0,204.7 641.2,203.8 641.4,202.8 641.5,201.8 641.7,200.8 641.8,199.8 642.0,198.8 642.1,197.8 642.3,196.8 642.4,195.8 642.6,194.9 642.8,193.9 642.9,192.9 643.1,191.9 643.2,190.9 643.4,189.9 643.5,188.9 643.7,187.9 643.9,186.9 644.0,186.0 644.2,185.0 644.3,184.0 644.5,183.0 644.6,182.0 644.8,181.0 645.0,180.0 645.1,179.0 645.3,178.1 645.4,177.1 645.6,176.1 645.8,175.1 645.9,174.1 646.1,173.1 646.2,172.1 646.4,171.1 646.6,170.1 646.7,169.2 646.9,168.2 647.0,167.2 647.2,166.2 647.4,165.2 647.5,164.2 647.7,163.2 647.8,162.2 648.0,161.3 648.2,160.3 648.3,159.3 648.5,158.3 648.7,157.3 648.8,156.3 649.0,155.3 649.2,154.3 649.3,153.4 649.5,152.4 649.6,151.4 649.8,150.4 650.0,149.4 650.1,148.4 650.3,147.4 650.5,146.4 650.6,145.5 650.8,144.5 651.0,143.5 651.2,142.5 651.3,141.5 651.5,140.5 651.7,139.5 651.8,138.5 652.0,137.6 652.2,136.6 652.3,135.6 652.5,134.6 652.7,133.6 652.9,132.6 653.0,131.6 653.2,130.7 653.4,129.7 653.5,128.7 653.7,127.7 653.9,126.7 654.1,125.7 654.2,124.7 654.4,123.7 654.6,122.8 654.8,121.8 655.0,120.8 655.1,119.8 655.3,118.8 655.5,117.8 655.7,116.9 655.9,115.9 656.1,114.9 656.2,113.9 656.4,112.9 656.6,111.9 656.8,111.0 657.0,110.0 657.2,109.0 657.4,108.0 657.6,107.0 657.8,106.0 658.0,105.1 658.2,104.1 658.4,103.1 658.6,102.1 658.7,101.1 659.0,100.2 659.2,99.2 659.4,98.2 659.6,97.2 659.8,96.2 660.0,95.2 660.2,94.3 660.4,93.3 660.6,92.3 660.8,91.3 661.0,90.4 661.2,89.4 661.4,88.4 661.7,87.4 661.9,86.4 662.1,85.5 662.3,84.5 662.5,83.5 662.8,82.5 663.0,81.6 663.2,80.6 663.4,79.6 663.7,78.6 663.9,77.7 664.1,76.7 664.4,75.7 664.6,74.7 664.8,73.8 665.0,72.8 665.3,71.8 665.5,70.8 665.8,69.9 666.0,68.9 666.2,67.9 666.5,67.0 666.7,66.0 666.9,65.0 667.2,64.0 667.4,63.1 667.7,62.1 667.9,61.1 668.1,60.1 668.4,59.2 668.6,58.2 668.9,57.2 669.1,56.3 669.3,55.3 669.6,54.3 669.8,53.3 670.1,52.4 670.3,51.4 670.6,50.4 670.8,49.5 671.1,48.5 671.3,47.5 671.6,46.6 671.9,45.6 672.2,44.6 672.5,43.7 672.8,42.8 673.2,41.8 673.6,40.9 674.0,40.0 674.3,39.0 674.7,38.1 675.1,37.2 675.5,36.3 675.8,35.3 676.2,34.4 676.6,33.5 677.0,32.6 677.4,31.6 677.8,30.7 678.2,29.8 678.6,28.9 679.0,28.0 679.5,27.1 679.9,26.2 680.3,25.3 680.7,24.4 681.2,23.5 681.8,22.7 682.5,22.0 683.3,21.3 684.2,20.6 685.1,20.2 686.1,20.1 687.0,20.3 687.9,20.6 688.9,21.1 689.7,21.8 690.5,22.5 691.3,23.2 692.0,23.9 692.7,24.6 693.3,25.4 693.9,26.1 694.6,26.9 695.2,27.6 695.8,28.4 696.4,29.2 697.0,30.0 697.7,30.8 698.3,31.6 698.9,32.4 699.4,33.2 699.9,34.1 700.3,35.0 700.7,35.9 701.1,36.9 701.5,37.8 701.9,38.7 702.2,39.6 702.6,40.6 703.0,41.5 703.4,42.4 703.8,43.3 704.2,44.3 704.5,45.2 704.9,46.1 705.3,47.0 705.7,48.0 706.0,48.9 706.4,49.8 706.8,50.8 707.2,51.7 707.5,52.6 707.9,53.5 708.3,54.5 708.6,55.4 709.0,56.3 709.4,57.3 709.8,58.2 710.1,59.1 710.5,60.0 710.9,61.0 711.2,61.9 711.6,62.8 712.0,63.8 712.3,64.7 712.7,65.6 713.1,66.6 713.4,67.5 713.8,68.4 714.2,69.4 714.5,70.3 714.9,71.2 715.2,72.2 715.6,73.1 715.9,74.1 716.3,75.0 716.6,75.9 716.9,76.9 717.2,77.8 717.6,78.8 717.9,79.7 718.2,80.7 718.5,81.7 718.7,82.6 719.0,83.6 719.3,84.5 719.6,85.5 719.8,86.5 720.1,87.4 720.4,88.4 720.6,89.4 720.9,90.3 721.1,91.3 721.4,92.3 721.7,93.2 721.9,94.2 722.2,95.2 722.4,96.1 722.7,97.1 722.9,98.1 723.2,99.0 723.5,100.0 723.7,101.0 724.0,102.0 724.2,102.9 724.5,103.9 724.7,104.9 725.0,105.8 725.2,106.8 725.5,107.8 725.7,108.7 726.0,109.7 726.2,110.7 726.5,111.6 726.7,112.6 727.0,113.6 727.2,114.5 727.5,115.5 727.7,116.5 728.0,117.5 728.2,118.4 728.5,119.4 728.7,120.4 729.0,121.3 729.3,122.3 729.5,123.3 729.8,124.2 730.1,125.2 730.3,126.2 730.6,127.1 730.8,128.1 731.1,129.1 731.4,130.0 731.6,131.0 731.9,132.0 732.2,132.9 732.4,133.9 732.7,134.8 732.9,135.8 733.2,136.8 733.5,137.7 733.7,138.7 734.0,139.7 734.3,140.6 734.5,141.6 734.8,142.6 735.1,143.5 735.3,144.5 735.6,145.5 735.9,146.4 736.1,147.4 736.4,148.4 736.6,149.3 736.9,150.3 737.2,151.3 737.4,152.2 737.7,153.2 738.0,154.2 738.2,155.1 738.5,156.1 738.8,157.1 739.0,158.0 739.3,159.0 739.6,159.9 739.9,160.9 740.1,161.9 740.4,162.8 740.7,163.8 740.9,164.8 741.2,165.7 741.5,166.7 741.7,167.7 742.0,168.6 742.3,169.6 742.6,170.5 742.8,171.5 743.1,172.5 743.4,173.4 743.7,174.4 743.9,175.4 744.2,176.3 744.5,177.3 744.8,178.2 745.1,179.2 745.3,180.2 745.6,181.1 745.9,182.1 746.2,183.0 746.5,184.0 746.8,185.0 747.1,185.9 747.3,186.9 747.6,187.8 747.9,188.8 748.2,189.8 748.5,190.7 748.8,191.7 749.1,192.6 749.4,193.6 749.7,194.5 750.0,195.5 750.3,196.5 750.6,197.4 750.9,198.4 751.2,199.3 751.5,200.3 751.8,201.2 752.1,202.2 752.4,203.1 752.7,204.1 753.0,205.0 753.3,206.0 753.6,206.9 753.9,207.9 754.3,208.8 754.6,209.8 754.9,210.8 755.2,211.7 755.5,212.7 755.8,213.6 756.1,214.6 756.5,215.5 756.8,216.5 757.1,217.4 757.4,218.4 757.7,219.3 758.0,220.3 758.4,221.2 758.7,222.2 759.0,223.1 759.3,224.1 759.6,225.0 759.9,226.0 760.3,226.9 760.6,227.9 760.9,228.8 761.2,229.8 761.5,230.7 761.8,231.7 762.2,232.6 762.5,233.6 762.8,234.5 763.1,235.5 763.4,236.4 763.7,237.4 764.0,238.3 764.4,239.3 764.7,240.2 765.0,241.2 765.3,242.1 765.6,243.1 765.9,244.0 766.2,245.0 766.5,245.9 766.8,246.9 767.2,247.8 767.5,248.8 767.8,249.7 768.1,250.7 768.4,251.6 768.7,252.6 769.0,253.5 769.3,254.5 769.6,255.4 770.0,256.4 770.3,257.3 770.6,258.3 770.9,259.2 771.2,260.2 771.6,261.1 771.9,262.1 772.3,263.0 772.6,263.9 773.0,264.9 773.4,265.8 773.7,266.7 774.1,267.7 774.5,268.6 774.9,269.5 775.4,270.4 775.8,271.3 776.2,272.2 776.6,273.1 777.1,274.0 777.5,274.9 777.9,275.8 778.4,276.7 778.8,277.6 779.3,278.5 779.7,279.4 780.2,280.3 780.6,281.2 781.0,282.1 781.5,283.0 782.0,283.9 782.4,284.8 782.9,285.7 783.3,286.6 783.8,287.5 784.2,288.4 784.7,289.2 785.1,290.1 785.5,291.0 786.0,291.9 786.4,292.9 786.8,293.8 787.3,294.7 787.7,295.6 788.1,296.5 788.5,297.4 789.0,298.3 789.4,299.2 789.8,300.1 790.2,301.0 790.6,301.9 791.0,302.8 791.5,303.7 791.9,304.7 792.3,305.6 792.7,306.5 793.1,307.4 793.6,308.3 794.0,309.2 794.4,310.1 794.8,311.0 795.2,311.9 795.6,312.9 796.0,313.8 796.4,314.7 796.8,315.6 797.2,316.5 797.7,317.4 798.1,318.3 798.5,319.3 798.9,320.2 799.3,321.1 799.7,322.0 800.2,322.9 800.6,323.8 801.1,324.6 801.7,325.5 802.2,326.3 802.8,327.2 803.3,328.0 803.9,328.8 804.5,329.7 805.1,330.5 805.7,331.3 806.4,332.0 807.1,332.7 807.9,333.4 808.7,334.0 809.6,334.4 810.5,334.9 811.4,335.4 812.3,335.8 813.2,336.2 814.1,336.6 815.1,337.0 816.0,337.4 816.9,337.8 817.9,338.2 818.8,338.5 819.7,338.9 820.7,339.2 821.6,339.6 822.5,339.9 823.5,340.2 824.4,340.5 825.4,340.8 826.3,341.1 827.3,341.4 828.2,341.7 829.2,342.0 830.2,342.3 831.1,342.6 832.1,342.9 833.0,343.2 834.0,343.5 834.9,343.7 835.9,344.0 836.9,344.3 837.8,344.6 838.8,344.9 839.7,345.2 840.7,345.5 841.7,345.7 842.6,346.0 843.6,346.3 844.5,346.6 845.5,346.9 846.5,347.2 847.4,347.5 848.4,347.8 849.3,348.1 850.3,348.4 851.2,348.7 852.2,349.0 853.1,349.3 854.1,349.6 855.0,350.0 856.0,350.3 856.9,350.6 857.9,350.9 858.8,351.2 859.8,351.6 860.7,351.9 861.7,352.2 862.6,352.5 863.6,352.7 864.6,353.0 865.5,353.3 866.5,353.5 867.5,353.8 868.4,354.0 869.4,354.2 870.4,354.4 871.4,354.6 872.4,354.8 873.4,354.9 874.4,355.1 875.3,355.2 876.3,355.4 877.3,355.5 878.3,355.7 879.3,355.9 880.3,356.1 881.3,356.2 882.2,356.4 883.2,356.6 884.2,356.8 885.2,357.0 886.2,357.2 887.2,357.4 888.1,357.6 889.1,357.8 890.1,358.0 891.1,358.2 892.1,358.4 893.1,358.5 894.0,358.7 895.0,358.9 896.0,359.1 897.0,359.3 898.0,359.5 899.0,359.6 900.0,359.8 900.9,360.0 901.9,360.2 902.9,360.3 903.9,360.5 904.9,360.6 905.9,360.8 906.9,360.9 907.9,361.0 908.9,361.1 909.9,361.2 910.9,361.2 911.9,361.3 912.9,361.3 913.9,361.3 914.9,361.3 915.9,361.3 916.9,361.3 917.9,361.3 918.9,361.3 919.9,361.3 920.9,361.3 921.9,361.3 922.9,361.3 923.9,361.3 924.9,361.3 925.9,361.3 926.9,361.3 927.9,361.3 928.9,361.3 929.9,361.3 930.9,361.3 931.9,361.3 932.9,361.3 933.9,361.3 934.9,361.3 935.9,361.3 936.9,361.3 937.9,361.3 938.9,361.3 939.9,361.3 940.9,361.3 941.9,361.3 942.9,361.3 943.9,361.3 944.9,361.3 945.9,361.3 946.9,361.3 947.9,361.3 948.9,361.3 949.9,361.3 950.9,361.3 951.9,361.3 952.9,361.3 953.9,361.3 954.9,361.3 955.9,361.3 956.9,361.3 957.9,361.3 958.9,361.3 959.9,361.3 960.9,361.3 961.9,361.3 962.9,361.3 964.0,361.3 965.0,361.3 966.0,361.3 967.0,361.3 968.0,361.3 969.0,361.3 970.0,361.3 971.0,361.3 972.0,361.3 973.0,361.3 974.0,361.3 975.0,361.3 976.0,361.3 977.0,361.3 978.0,361.3 979.0,361.3 980.0,361.3 981.0,361.3 982.0,361.3 983.0,361.3 984.0,361.3 985.0,361.3 986.0,361.3 987.0,361.3 988.0,361.3 989.0,361.3 990.0,361.3 991.0,361.3 992.0,361.3 993.0,361.3 994.0,361.3 995.0,361.3 996.0,361.3 997.0,361.3 998.0,361.3 999.0,361.3 1000.0,361.3 1001.0,361.3 1002.0,361.3 1003.0,361.3 1004.0,361.3 1005.0,361.3 1006.0,361.3 1007.0,361.3" fill="none" stroke="#8f1fe0" stroke-width="2.3" stroke-linejoin="round" stroke-linecap="butt"/>
<path d="M600,361.5 H652" stroke="#ff8a17" stroke-width="1.6" opacity="0.75"/>
<path d="M577.3,361.7 H660" stroke="#1c1c1c" stroke-width="1.3" opacity="0.5"/>
</g>
<g stroke="#1c1c1c" stroke-width="1.45" fill="none">
<path d="M48.5,360.50 h7"/>
<path d="M48.5,327.98 h3.6"/>
<path d="M48.5,295.45 h7"/>
<path d="M48.5,262.93 h3.6"/>
<path d="M48.5,230.40 h7"/>
<path d="M48.5,197.88 h3.6"/>
<path d="M48.5,165.35 h7"/>
<path d="M48.5,132.83 h3.6"/>
<path d="M48.5,100.30 h7"/>
<path d="M48.5,67.78 h3.6"/>
<path d="M48.5,35.25 h7"/>
<path d="M48.5,2.73 h3.6"/>
<path d="M64.02,360.5 v-3.4"/>
<path d="M80.00,360.5 v-7.3"/>
<path d="M95.98,360.5 v-3.4"/>
<path d="M111.96,360.5 v-3.4"/>
<path d="M127.94,360.5 v-3.4"/>
<path d="M143.92,360.5 v-3.4"/>
<path d="M159.90,360.5 v-7.3"/>
<path d="M175.88,360.5 v-3.4"/>
<path d="M191.86,360.5 v-3.4"/>
<path d="M207.84,360.5 v-3.4"/>
<path d="M223.82,360.5 v-3.4"/>
<path d="M239.80,360.5 v-7.3"/>
<path d="M255.78,360.5 v-3.4"/>
<path d="M271.76,360.5 v-3.4"/>
<path d="M287.74,360.5 v-3.4"/>
<path d="M303.72,360.5 v-3.4"/>
<path d="M319.70,360.5 v-7.3"/>
<path d="M335.68,360.5 v-3.4"/>
<path d="M351.66,360.5 v-3.4"/>
<path d="M367.64,360.5 v-3.4"/>
<path d="M383.62,360.5 v-3.4"/>
<path d="M399.60,360.5 v-7.3"/>
<path d="M415.58,360.5 v-3.4"/>
<path d="M431.56,360.5 v-3.4"/>
<path d="M447.54,360.5 v-3.4"/>
<path d="M463.52,360.5 v-3.4"/>
<path d="M479.50,360.5 v-7.3"/>
<path d="M577.3,362.00 h7.5"/>
<path d="M577.3,293.46 h7.5"/>
<path d="M577.3,224.92 h7.5"/>
<path d="M577.3,156.38 h7.5"/>
<path d="M577.3,87.84 h7.5"/>
<path d="M577.3,19.30 h7.5"/>
<path d="M591.50,361.5 v-7.8"/>
<path d="M606.36,361.5 v-3.5"/>
<path d="M621.21,361.5 v-3.5"/>
<path d="M636.07,361.5 v-3.5"/>
<path d="M650.92,361.5 v-7.8"/>
<path d="M665.77,361.5 v-3.5"/>
<path d="M680.63,361.5 v-3.5"/>
<path d="M695.49,361.5 v-3.5"/>
<path d="M710.34,361.5 v-7.8"/>
<path d="M725.19,361.5 v-3.5"/>
<path d="M740.05,361.5 v-3.5"/>
<path d="M754.90,361.5 v-3.5"/>
<path d="M769.76,361.5 v-7.8"/>
<path d="M784.62,361.5 v-3.5"/>
<path d="M799.47,361.5 v-3.5"/>
<path d="M814.33,361.5 v-3.5"/>
<path d="M829.18,361.5 v-7.8"/>
<path d="M844.03,361.5 v-3.5"/>
<path d="M858.89,361.5 v-3.5"/>
<path d="M873.75,361.5 v-3.5"/>
<path d="M888.60,361.5 v-7.8"/>
<path d="M903.45,361.5 v-3.5"/>
<path d="M918.31,361.5 v-3.5"/>
<path d="M933.16,361.5 v-3.5"/>
<path d="M948.02,361.5 v-7.8"/>
<path d="M962.88,361.5 v-3.5"/>
<path d="M977.73,361.5 v-3.5"/>
<path d="M992.59,361.5 v-3.5"/>
<path d="M1007.44,361.5 v-7.8"/>
</g>
<path d="M479.3,360.5 V355.8" stroke="#1a8fc8" stroke-width="1.6"/>
<text class="tk" x="45.2" y="366.3" text-anchor="end">0</text>
<text class="tk" x="40.8" y="301.2" text-anchor="end">1</text>
<text class="tk" x="40.8" y="236.2" text-anchor="end">2</text>
<text class="tk" x="40.8" y="171.2" text-anchor="end">3</text>
<text class="tk" x="40.8" y="106.1" text-anchor="end">4</text>
<text class="tk" x="40.8" y="41.0" text-anchor="end">5</text>
<text class="tk" x="80.0" y="387.2" text-anchor="middle">250</text>
<text class="tk" x="159.9" y="387.2" text-anchor="middle">300</text>
<text class="tk" x="239.8" y="387.2" text-anchor="middle">350</text>
<text class="tk" x="319.7" y="387.2" text-anchor="middle">400</text>
<text class="tk" x="399.6" y="387.2" text-anchor="middle">450</text>
<text class="tk" x="479.5" y="387.2" text-anchor="middle">500</text>
<text class="ax" x="272.3" y="408.1" text-anchor="middle">Wavelength [nm]</text>
<text class="ax" transform="translate(20.8,186) rotate(-90)" text-anchor="middle">3 x10<tspan font-size="11.5" dy="-8.5">-4</tspan></text>
<text class="tk" x="566" y="367.8" text-anchor="end">0.0</text>
<text class="tk" x="566" y="299.3" text-anchor="end">0.2</text>
<text class="tk" x="566" y="230.7" text-anchor="end">0.4</text>
<text class="tk" x="566" y="162.2" text-anchor="end">0.6</text>
<text class="tk" x="566" y="93.6" text-anchor="end">0.8</text>
<text class="tk" x="566" y="25.1" text-anchor="end">1.0</text>
<text class="tk" x="591.5" y="382.8" text-anchor="middle">360</text>
<text class="tk" x="650.9" y="382.8" text-anchor="middle">400</text>
<text class="tk" x="710.3" y="382.8" text-anchor="middle">440</text>
<text class="tk" x="769.8" y="382.8" text-anchor="middle">480</text>
<text class="tk" x="829.2" y="382.8" text-anchor="middle">520</text>
<text class="tk" x="888.6" y="382.8" text-anchor="middle">560</text>
<text class="tk" x="948.0" y="382.8" text-anchor="middle">600</text>
<text class="tk" x="1007.4" y="382.8" text-anchor="middle">640</text>
<text class="ax" x="796.9" y="407.2" text-anchor="middle">Wavelength [nm]</text>
<text class="ax" transform="translate(530.3,199.2) rotate(-90)" text-anchor="middle">Normalized intensity</text>
<rect x="355.5" y="8.3" width="72.0" height="141.0" fill="#fff" stroke="#3a3a3a" stroke-width="1.2"/>
<path d="M364.2,24.5 H406.3" stroke="#000000" stroke-width="2"/>
<text class="lg" x="410.6" y="31.5" style="fill:#000000">3</text>
<path d="M364.2,42.5 H406.3" stroke="#1fb0ee" stroke-width="2"/>
<text class="lg" x="410.6" y="49.5" style="fill:#1fb0ee">4</text>
<path d="M364.2,60.5 H406.3" stroke="#1212d8" stroke-width="2"/>
<text class="lg" x="410.6" y="67.5" style="fill:#1212d8">5</text>
<path d="M364.2,78.5 H406.3" stroke="#15862a" stroke-width="2"/>
<text class="lg" x="410.6" y="85.5" style="fill:#15862a">6</text>
<path d="M364.2,96.5 H406.3" stroke="#ff8a17" stroke-width="2"/>
<text class="lg" x="410.6" y="103.5" style="fill:#ff8a17">7</text>
<path d="M364.2,114.5 H406.3" stroke="#c41414" stroke-width="2"/>
<text class="lg" x="410.6" y="121.5" style="fill:#c41414">8</text>
<path d="M364.2,132.5 H406.3" stroke="#8f1fe0" stroke-width="2"/>
<text class="lg" x="410.6" y="139.5" style="fill:#8f1fe0">9</text>
<rect x="910.8" y="27.6" width="72.40000000000009" height="141.20000000000002" fill="#fff" stroke="#3a3a3a" stroke-width="1.2"/>
<path d="M919.4,44.2 H961.7" stroke="#000000" stroke-width="2"/>
<text class="lg" x="966.2" y="50.7" style="fill:#000000">3</text>
<path d="M919.4,62.25 H961.7" stroke="#1fb0ee" stroke-width="2"/>
<text class="lg" x="966.2" y="68.8" style="fill:#1fb0ee">4</text>
<path d="M919.4,80.30000000000001 H961.7" stroke="#1212d8" stroke-width="2"/>
<text class="lg" x="966.2" y="86.8" style="fill:#1212d8">5</text>
<path d="M919.4,98.35000000000001 H961.7" stroke="#15862a" stroke-width="2"/>
<text class="lg" x="966.2" y="104.9" style="fill:#15862a">6</text>
<path d="M919.4,116.4 H961.7" stroke="#ff8a17" stroke-width="2"/>
<text class="lg" x="966.2" y="122.9" style="fill:#ff8a17">7</text>
<path d="M919.4,134.45 H961.7" stroke="#c41414" stroke-width="2"/>
<text class="lg" x="966.2" y="140.9" style="fill:#c41414">8</text>
<path d="M919.4,152.5 H961.7" stroke="#8f1fe0" stroke-width="2"/>
<text class="lg" x="966.2" y="159.0" style="fill:#8f1fe0">9</text>
</g></svg></body></html>
